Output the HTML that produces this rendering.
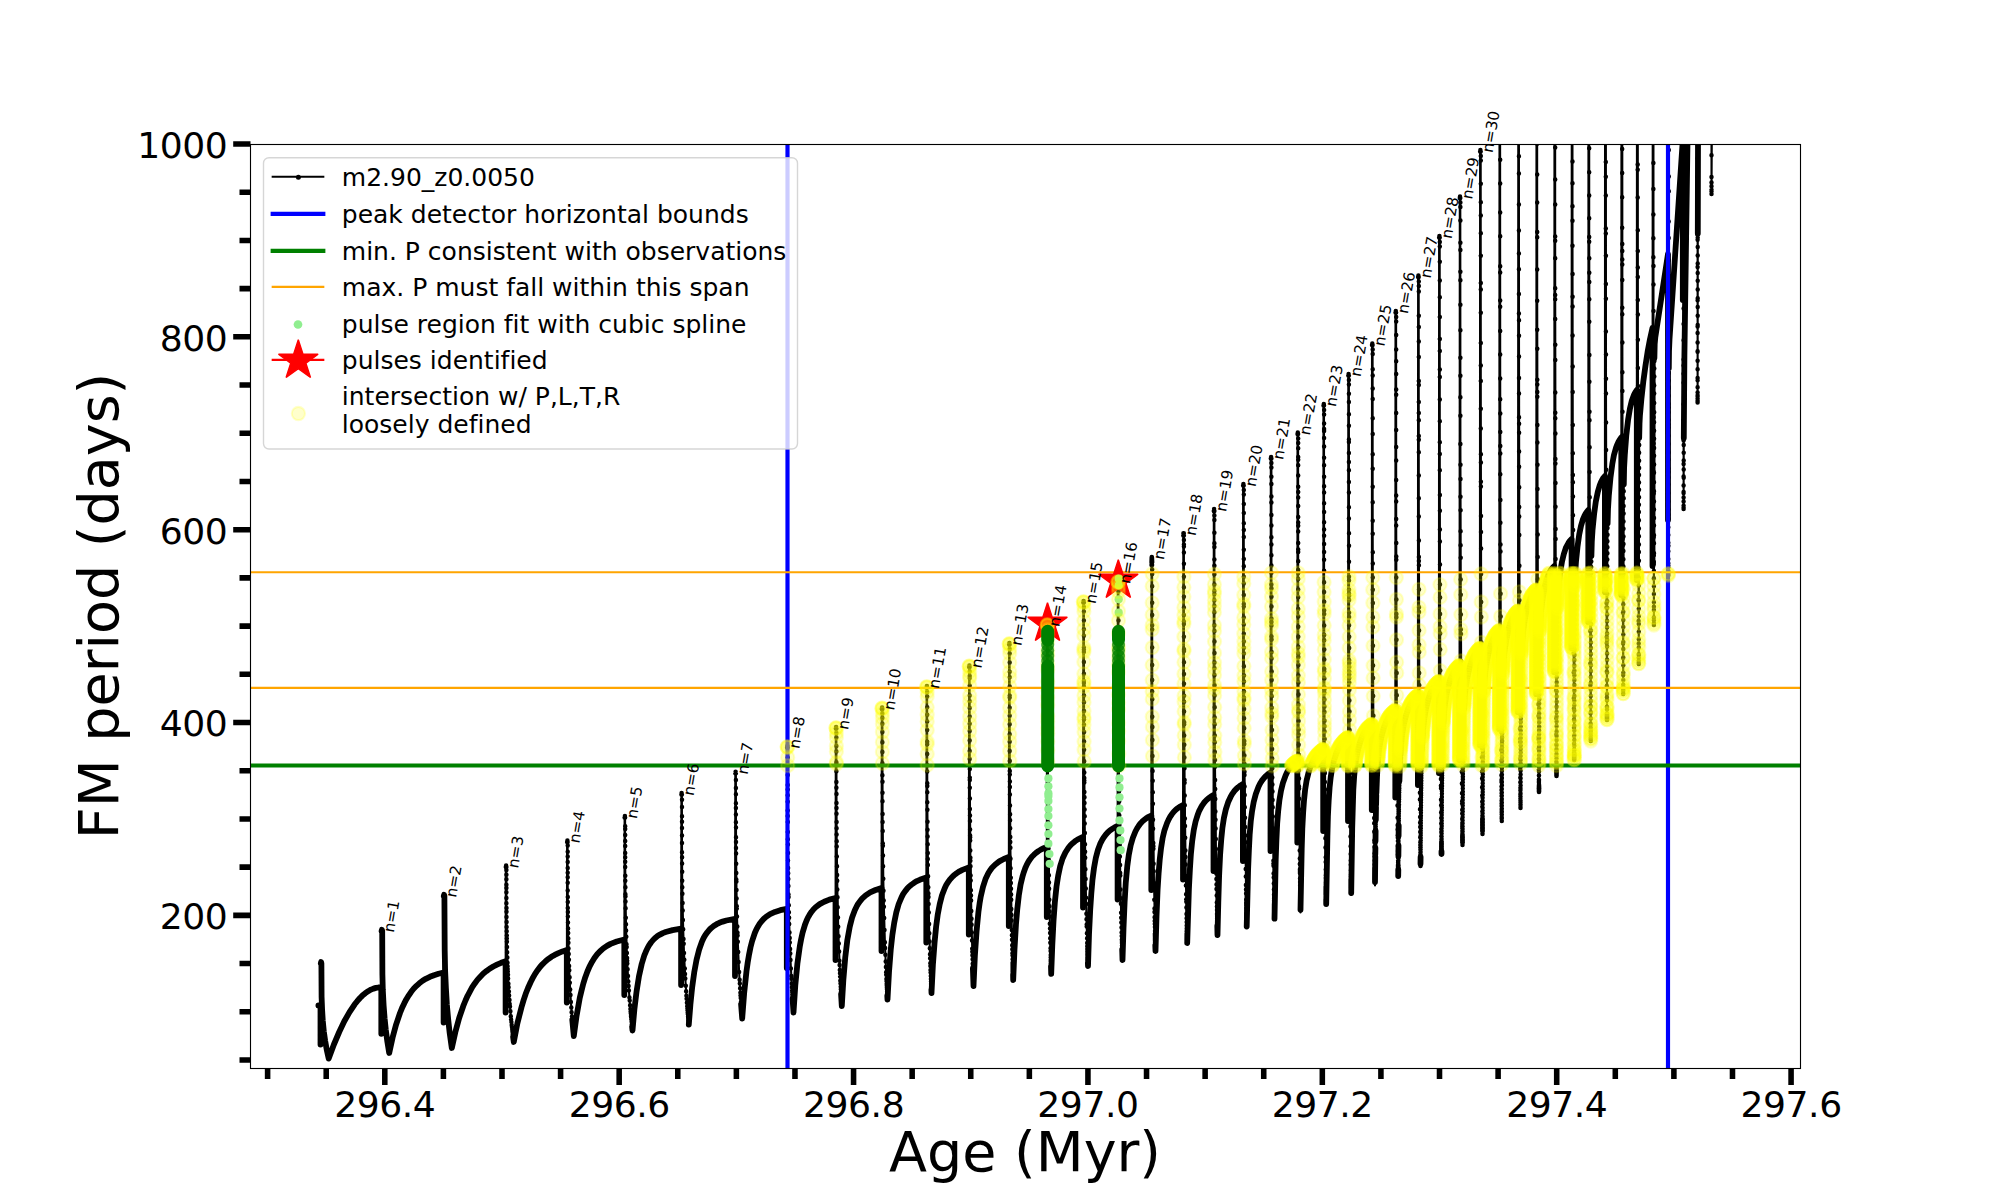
<!DOCTYPE html><html><head><meta charset="utf-8"><title>FM period vs Age</title><style>html,body{margin:0;padding:0;background:#fff}svg{display:block}</style></head><body><svg width="2000" height="1200" viewBox="0 0 2000 1200" font-family="'DejaVu Sans','Liberation Sans',sans-serif" style="font-variant-ligatures:none"><rect width="2000" height="1200" fill="#fff"/><defs><clipPath id="ax"><rect x="250" y="144" width="1550" height="924"/></clipPath></defs><g clip-path="url(#ax)"><g fill="none" stroke="#000" stroke-linejoin="round" stroke-linecap="round"><path stroke-width="2.08" stroke-linecap="butt" d="M318.4,1005.5L320.5,1005.5L320.5,1044.5L320.8,963.5L321.1,962.0L321.4,963.5L321.6,995.8L322.0,1007.9L322.7,1019.2L323.7,1029.8L325.1,1040.4L326.7,1049.6L328.7,1058.6L333.9,1044.5L339.2,1032.0L344.3,1021.3L349.5,1012.1L352.3,1007.8L354.7,1004.3L357.2,1001.2L360.0,998.0L362.4,995.6L365.3,993.2L368.2,991.2L371.0,989.6L373.5,988.6L375.9,987.9L378.4,987.5L381.3,987.3L381.3,1033.8L381.6,931.2L381.9,929.8L382.2,931.2L382.2,957.5L382.5,976.6L382.8,990.0L383.5,1003.1L384.4,1016.8L385.8,1029.8L387.3,1041.4L389.2,1053.0L392.6,1037.6L396.1,1024.6L398.0,1018.5L400.0,1013.0L401.9,1008.3L404.2,1003.4L406.4,999.2L408.8,995.3L411.2,991.8L413.6,988.8L416.5,985.8L419.3,983.3L422.6,980.8L425.8,978.8L429.9,976.8L434.0,975.2L438.5,973.7L443.6,972.5L443.6,1022.5L443.8,896.2L444.1,894.8L444.4,896.2L444.5,930.2L444.7,952.9L445.1,970.4L445.8,986.2L446.8,1003.0L448.1,1018.2L449.7,1033.2L451.8,1048.0L455.3,1032.3L459.1,1018.2L461.2,1011.7L463.2,1006.2L465.5,1000.5L467.6,995.8L469.8,991.6L472.1,987.4L474.6,983.7L477.4,979.9L480.3,976.7L483.1,973.8L486.4,971.1L489.6,968.7L493.3,966.5L497.0,964.6L501.1,962.8L505.6,961.2L505.6,1012.5L505.8,867.0L506.1,865.5L506.4,867.0L506.5,907.9L506.8,935.5L507.1,952.2L507.8,971.6L508.9,991.4L510.0,1006.6L511.7,1025.1L513.8,1042.0L517.0,1025.4L520.5,1010.9L522.3,1004.2L524.3,997.9L526.3,992.2L528.2,987.3L530.6,982.2L532.8,977.9L535.1,973.8L537.6,970.2L540.0,967.0L542.9,963.8L545.7,961.1L548.6,958.8L552.7,956.1L556.8,953.8L561.7,951.7L566.8,950.0L566.8,1002.5L567.1,842.0L567.4,840.5L567.6,842.0L567.7,882.8L567.9,916.5L568.3,938.6L568.9,959.7L569.8,982.8L570.9,1001.9L572.3,1020.0L573.8,1036.2L576.2,1018.1L578.8,1002.7L581.8,989.2L583.3,983.6L585.1,978.0L586.8,972.9L588.6,968.6L590.5,964.7L592.8,960.5L594.8,957.4L597.2,954.3L599.7,951.6L602.5,949.0L607.0,945.9L611.9,943.3L617.6,941.2L624.3,939.5L624.3,995.0L624.6,817.5L624.9,816.0L625.1,817.5L625.2,861.7L625.5,896.2L626.0,924.3L626.5,944.2L627.6,969.3L628.9,990.6L630.6,1011.8L632.5,1030.5L634.3,1009.9L636.3,992.8L638.6,978.3L641.0,966.9L642.3,961.6L643.8,957.0L645.1,953.3L646.7,949.6L648.6,946.1L650.2,943.6L652.3,941.0L654.7,938.4L657.1,936.4L659.6,934.8L662.4,933.3L665.3,932.1L668.5,931.1L672.2,930.2L676.3,929.4L681.1,928.7L681.1,985.0L681.4,794.5L681.6,793.0L681.9,794.5L682.0,843.0L682.2,880.7L682.6,903.0L683.2,929.2L684.0,952.9L685.3,978.5L686.9,1002.7L688.8,1024.5L690.4,1004.5L692.2,987.0L694.2,972.6L696.5,960.0L697.7,954.8L699.1,949.7L700.5,945.5L701.9,941.7L703.6,938.0L705.2,935.2L707.3,932.3L709.3,929.9L711.3,927.9L713.7,926.0L716.6,924.2L719.4,922.8L722.7,921.6L726.4,920.5L730.5,919.5L735.0,918.8L735.0,976.0L735.3,773.2L735.6,771.8L735.9,773.2L736.0,827.5L736.2,863.7L736.5,889.9L737.0,916.6L737.8,941.7L739.1,971.9L740.5,995.5L742.2,1018.5L743.8,997.1L745.6,979.0L747.5,964.0L749.7,951.2L752.1,941.1L753.5,936.6L754.8,933.0L756.4,929.3L758.0,926.4L760.0,923.3L762.0,920.7L764.0,918.6L766.5,916.5L769.3,914.6L772.2,913.1L775.4,911.7L778.7,910.6L782.4,909.7L786.8,908.8L786.8,968.0L787.1,747.5L787.4,746.0L787.6,747.5L787.7,810.4L788.0,853.1L788.8,905.3L789.5,932.4L790.5,960.0L791.9,987.3L793.5,1012.5L795.0,990.1L796.6,971.3L798.4,955.7L800.5,942.4L802.8,931.9L804.0,927.5L805.6,923.0L807.2,919.1L808.8,916.1L810.4,913.4L812.4,910.7L814.4,908.4L816.4,906.5L818.9,904.7L821.7,902.9L824.6,901.5L827.8,900.2L831.5,899.0L835.5,898.0L835.5,960.0L835.8,728.5L836.1,727.0L836.4,728.5L836.5,794.0L836.7,841.3L837.5,897.3L838.2,926.8L839.1,951.4L840.3,980.8L841.8,1006.0L843.1,982.6L844.6,963.6L846.3,947.7L848.2,934.7L850.3,924.4L851.5,919.7L852.9,915.2L854.1,911.8L855.8,908.1L857.2,905.3L859.3,902.2L861.3,899.6L863.3,897.5L865.7,895.4L868.6,893.4L871.4,891.8L874.7,890.3L877.9,889.1L881.5,888.0L881.5,951.0L881.8,709.0L882.1,707.5L882.4,709.0L882.6,813.9L883.3,878.8L883.9,906.8L884.9,942.2L886.1,972.3L887.5,999.5L888.8,976.0L890.2,956.0L891.8,939.6L893.7,925.8L895.8,914.7L896.9,909.9L898.2,905.6L899.6,901.7L900.9,898.6L902.3,895.6L904.4,892.3L906.4,889.6L908.4,887.3L910.8,885.1L913.3,883.3L916.1,881.6L919.4,880.0L922.6,878.7L926.3,877.5L926.3,942.5L926.6,687.5L926.9,686.0L927.1,687.5L927.3,802.3L928.1,876.2L929.3,933.3L930.3,963.3L931.5,993.0L932.7,968.6L934.1,948.1L935.6,931.2L937.3,917.1L939.5,905.1L940.6,900.3L941.8,895.9L943.1,892.0L944.7,888.2L946.2,885.1L947.8,882.4L949.9,879.5L951.9,877.2L953.9,875.3L956.3,873.4L959.2,871.5L962.0,870.1L965.3,868.7L968.8,867.5L968.8,934.5L969.1,667.0L969.4,665.5L969.6,667.0L969.8,780.0L970.4,860.7L971.6,924.7L972.4,955.2L973.5,986.0L974.6,961.1L975.9,940.1L977.3,922.6L978.9,908.0L980.8,896.3L983.0,886.8L984.2,882.8L985.5,879.1L987.3,875.3L988.8,872.4L990.4,869.9L992.4,867.4L994.5,865.2L996.9,863.1L999.3,861.4L1002.2,859.7L1005.4,858.2L1008.8,857.0L1008.8,926.0L1009.1,644.5L1009.4,643.0L1009.6,644.5L1009.8,760.9L1010.4,847.8L1011.5,915.0L1012.3,949.2L1013.2,980.0L1014.3,954.1L1015.4,932.8L1016.8,914.4L1018.3,899.9L1020.0,888.2L1021.0,883.0L1022.1,878.0L1023.1,874.3L1024.4,870.2L1026.0,866.5L1027.5,863.4L1029.1,860.6L1031.1,857.8L1033.1,855.5L1035.6,853.2L1038.0,851.4L1040.8,849.6L1043.7,848.2L1046.8,847.0L1046.8,917.0L1047.0,625.5L1047.3,624.0L1047.6,625.5L1047.8,750.2L1048.4,835.1L1049.5,906.3L1050.3,942.8L1051.2,973.8L1052.2,947.5L1053.3,925.2L1054.5,907.0L1055.8,892.5L1057.5,879.8L1059.3,869.9L1061.5,861.8L1062.6,858.5L1064.2,854.8L1065.8,851.8L1067.8,848.6L1069.8,846.0L1071.8,843.9L1074.3,841.8L1077.1,839.9L1079.9,838.3L1083.0,837.0L1083.0,907.5L1083.3,602.5L1083.6,601.0L1083.9,602.5L1084.1,731.9L1084.7,823.6L1086.0,897.7L1086.9,933.3L1088.0,966.0L1088.9,937.9L1089.9,915.2L1091.0,896.7L1092.3,881.3L1093.9,868.7L1095.6,858.9L1097.6,851.0L1098.9,846.9L1100.2,843.8L1101.7,840.8L1103.3,838.0L1105.3,835.2L1107.3,832.9L1109.7,830.7L1112.2,828.9L1114.6,827.4L1117.6,826.0L1117.6,899.5L1117.8,582.5L1118.1,581.0L1118.4,582.5L1118.6,722.8L1119.3,815.3L1120.5,889.6L1121.5,927.6L1122.5,960.0L1123.4,931.0L1124.3,907.6L1125.4,888.7L1126.6,872.7L1128.1,860.2L1129.7,849.9L1130.7,845.3L1131.8,841.1L1133.1,837.1L1134.3,833.8L1135.8,830.7L1137.4,827.8L1139.4,824.9L1141.4,822.5L1143.5,820.5L1145.9,818.6L1148.3,817.0L1151.3,815.5L1151.3,890.0L1151.5,565.0L1151.7,558.5L1151.8,557.0L1152.0,558.5L1152.1,565.0L1152.3,699.2L1152.9,803.7L1154.0,882.9L1155.5,951.0L1156.3,922.8L1157.2,898.8L1158.2,879.4L1159.3,863.5L1160.7,850.3L1162.3,839.9L1164.1,831.8L1165.3,827.8L1166.4,824.5L1168.2,820.4L1169.8,817.4L1171.4,814.9L1173.4,812.3L1175.4,810.2L1177.9,808.1L1180.3,806.5L1183.0,805.0L1183.0,879.5L1183.3,535.5L1183.4,533.3L1183.8,533.3L1183.9,535.5L1184.0,683.8L1184.7,795.4L1185.8,876.1L1187.2,943.5L1188.0,914.8L1188.8,890.9L1189.7,871.2L1190.8,854.7L1192.1,841.8L1193.6,830.8L1195.4,822.5L1197.6,815.0L1198.9,811.6L1200.4,808.5L1202.0,805.7L1204.0,802.8L1206.0,800.5L1208.4,798.3L1210.9,796.5L1213.5,795.0L1213.5,871.0L1213.8,511.0L1214.1,509.0L1214.4,511.0L1214.5,662.6L1215.0,766.8L1215.9,848.9L1217.5,935.0L1218.2,905.4L1218.9,880.6L1219.8,860.7L1220.8,844.1L1222.0,831.8L1223.4,821.0L1225.3,811.4L1227.4,804.3L1228.5,801.4L1230.1,797.8L1231.7,794.8L1233.7,791.8L1235.8,789.4L1237.8,787.5L1240.2,785.6L1242.9,784.0L1242.9,861.0L1243.1,485.5L1243.4,484.0L1243.7,485.5L1243.9,641.6L1244.4,755.6L1245.3,842.3L1246.8,927.5L1247.4,896.1L1248.0,871.0L1248.8,851.1L1249.7,834.2L1250.8,820.9L1252.1,810.9L1253.7,801.9L1255.8,793.9L1256.9,790.6L1258.5,786.7L1260.1,783.5L1261.7,780.9L1263.8,778.2L1265.8,776.1L1268.2,774.0L1270.5,772.5L1270.5,851.0L1270.8,458.5L1271.1,457.0L1271.4,458.5L1271.5,625.4L1272.0,740.0L1273.0,836.3L1274.5,920.0L1275.7,861.1L1276.4,840.2L1277.2,823.2L1278.2,810.8L1279.4,800.2L1281.0,790.7L1282.9,783.0L1284.0,779.6L1285.6,775.5L1287.2,772.1L1288.9,769.3L1290.5,767.1L1292.5,764.8L1294.9,762.6L1297.3,761.0L1297.3,842.5L1297.5,434.0L1297.8,432.5L1298.1,434.0L1298.2,608.9L1298.7,729.4L1299.4,825.7L1300.5,912.5L1301.6,852.1L1302.3,830.4L1303.1,813.3L1304.0,800.6L1305.1,789.9L1306.6,780.5L1308.5,772.7L1309.9,768.3L1311.5,764.1L1313.1,760.7L1314.7,757.9L1316.7,755.2L1318.8,752.9L1320.8,751.2L1323.2,749.5L1323.2,831.0L1323.5,405.5L1323.8,404.0L1324.0,405.5L1324.1,592.1L1324.6,720.7L1325.2,815.5L1326.2,904.0L1327.2,841.4L1327.9,818.6L1328.6,801.7L1329.4,788.8L1330.5,778.4L1331.9,769.4L1333.7,761.5L1335.0,756.9L1336.5,752.7L1338.1,749.1L1339.7,746.2L1341.4,743.8L1343.4,741.3L1345.4,739.4L1348.0,737.5L1348.0,821.0L1348.3,375.5L1348.6,374.0L1348.9,375.5L1349.0,561.7L1349.4,700.5L1350.2,803.3L1351.2,895.0L1352.1,830.5L1352.7,807.7L1353.3,790.1L1354.1,777.1L1355.1,766.2L1356.4,757.2L1358.1,749.0L1359.3,744.6L1360.8,740.1L1362.0,737.1L1363.6,733.8L1365.2,731.2L1367.2,728.5L1369.2,726.5L1371.8,724.5L1371.8,810.0L1372.0,345.0L1372.3,343.5L1372.6,345.0L1372.7,533.8L1373.1,678.1L1373.9,789.4L1375.0,885.5L1375.8,817.6L1376.3,795.3L1377.0,777.2L1377.8,762.8L1378.6,753.3L1379.8,744.3L1381.4,736.3L1382.5,731.9L1383.9,727.5L1385.5,723.3L1387.1,719.9L1388.7,717.2L1390.7,714.5L1392.8,712.5L1395.3,710.5L1395.3,797.5L1395.5,312.5L1395.8,311.0L1396.1,312.5L1396.2,519.0L1396.6,662.2L1397.3,779.1L1398.2,876.0L1398.9,806.9L1399.4,783.5L1399.9,764.1L1400.6,751.0L1401.4,740.3L1402.5,731.3L1404.2,722.3L1405.6,716.8L1406.9,712.3L1408.1,709.1L1409.7,705.5L1411.3,702.6L1413.3,699.8L1415.3,697.6L1417.9,695.5L1417.9,785.0L1418.1,277.0L1418.4,275.5L1418.7,277.0L1418.8,498.3L1419.2,652.1L1419.7,761.5L1420.5,866.0L1421.1,790.2L1421.5,766.1L1422.0,749.1L1422.5,736.9L1423.2,727.6L1424.2,718.7L1425.6,710.3L1426.8,704.9L1428.0,700.0L1429.6,695.4L1431.2,691.5L1432.8,688.4L1434.8,685.5L1436.8,683.3L1438.9,681.5L1438.9,773.0L1439.1,237.5L1439.4,236.0L1439.7,237.5L1439.8,470.3L1440.1,627.0L1440.7,746.4L1441.5,856.0L1442.1,777.9L1442.4,751.7L1442.8,733.7L1443.4,720.7L1444.1,711.4L1445.0,703.3L1446.4,694.6L1447.6,689.1L1448.7,684.7L1450.1,680.3L1451.6,676.2L1453.2,672.9L1455.2,669.8L1457.3,667.5L1459.5,665.5L1459.5,760.0L1459.8,198.0L1460.0,196.5L1460.3,198.0L1460.4,444.1L1460.8,594.7L1461.5,729.6L1462.5,845.0L1463.0,764.9L1463.7,718.9L1464.1,706.2L1464.7,696.8L1465.6,688.4L1466.9,679.6L1468.2,673.1L1469.3,668.2L1470.7,663.5L1472.2,659.4L1473.8,656.0L1475.8,652.8L1477.8,650.4L1479.9,648.5L1479.9,745.0L1480.1,151.5L1480.4,150.0L1480.7,151.5L1480.8,408.7L1481.1,573.9L1481.7,713.1L1482.5,834.0L1482.9,748.1L1483.6,701.1L1484.0,689.2L1484.5,679.8L1485.3,671.8L1486.6,662.7L1487.8,655.9L1489.1,650.2L1490.4,645.6L1491.9,641.4L1493.5,637.9L1495.1,635.2L1497.1,632.6L1499.3,630.5L1499.3,729.0L1499.5,102.5L1499.8,101.0L1500.1,102.5L1500.2,378.5L1500.5,551.4L1501.0,688.5L1501.8,821.0L1502.1,733.8L1502.6,685.0L1503.0,672.1L1503.4,662.6L1504.2,654.4L1505.3,645.3L1506.4,638.6L1507.5,633.2L1508.9,627.5L1510.4,623.1L1512.0,619.2L1513.6,616.3L1515.6,613.5L1518.0,611.0L1518.0,712.0L1518.3,62.5L1518.6,61.0L1518.9,62.5L1519.0,335.8L1519.3,535.0L1519.8,678.5L1520.5,808.0L1520.8,711.7L1521.3,663.9L1521.6,651.0L1522.0,642.1L1522.7,634.2L1523.7,626.2L1524.9,618.5L1526.0,612.7L1527.2,607.5L1528.6,602.8L1530.2,598.6L1531.8,595.4L1533.9,592.5L1536.3,590.0L1536.3,694.0L1536.5,22.5L1536.8,21.0L1537.1,22.5L1537.2,300.7L1537.6,506.4L1538.1,656.8L1539.0,792.0L1539.3,694.5L1539.7,642.9L1539.9,629.7L1540.3,620.6L1540.9,612.6L1541.9,603.6L1543.0,595.9L1544.2,589.3L1545.5,583.6L1546.8,579.1L1548.4,574.8L1550.0,571.5L1552.0,568.4L1554.3,566.0L1554.3,672.0L1554.5,-17.5L1554.8,-19.0L1555.1,-17.5L1555.2,288.2L1555.5,483.0L1555.9,631.4L1556.5,776.0L1556.8,672.6L1557.1,617.4L1557.4,604.0L1557.8,595.5L1558.3,588.6L1559.3,579.3L1560.4,570.7L1561.5,563.9L1562.9,557.4L1564.4,551.9L1565.9,547.7L1567.5,544.3L1569.6,541.2L1571.6,539.0L1571.6,648.0L1571.8,-57.5L1572.1,-59.0L1572.4,-57.5L1572.5,245.7L1572.8,453.2L1573.4,604.3L1574.2,760.0L1574.5,644.5L1574.8,591.4L1575.3,570.8L1575.9,562.7L1576.7,553.7L1577.7,544.6L1578.8,536.9L1580.1,530.2L1581.4,524.6L1582.7,520.2L1584.3,516.2L1586.3,512.6L1588.3,510.0L1588.3,622.0L1588.5,-60.0L1589.2,-60.0L1589.2,218.2L1589.5,411.8L1589.9,571.3L1590.8,741.0L1591.0,618.3L1591.3,561.6L1591.8,540.5L1593.2,523.1L1594.2,513.1L1595.3,505.2L1596.4,498.4L1597.8,491.9L1599.4,486.2L1601.0,482.1L1602.6,479.1L1604.9,476.0L1604.9,592.0L1605.1,-60.0L1605.8,-60.0L1606.0,393.6L1606.4,552.6L1607.0,720.0L1607.2,585.9L1607.6,523.3L1607.9,511.1L1608.3,501.9L1609.3,488.7L1610.6,476.4L1611.6,468.5L1612.6,461.8L1613.7,456.4L1615.0,451.0L1616.4,446.6L1618.0,442.8L1619.6,439.9L1621.3,437.5L1621.3,595.0L1621.5,-60.0L1622.2,-60.0L1622.4,372.3L1622.7,538.8L1623.2,694.0L1623.5,544.1L1623.8,479.0L1624.1,466.5L1624.8,454.9L1626.0,438.7L1627.4,425.4L1629.1,412.9L1630.1,407.5L1631.2,403.0L1632.5,398.6L1633.7,395.5L1635.3,392.3L1636.8,390.0L1636.8,580.0L1637.0,-60.0L1637.7,-60.0L1637.9,339.7L1638.3,512.7L1638.8,664.0L1639.0,489.8L1639.1,452.8L1639.4,427.3L1639.8,417.0L1640.9,404.4L1642.9,385.0L1645.1,367.8L1646.8,356.5L1648.7,346.0L1650.5,336.8L1652.5,328.0L1652.5,566.0L1652.8,-60.0L1653.4,-60.0L1653.5,333.5L1653.9,625.0L1654.3,376.5L1654.6,347.6L1654.8,341.7L1655.3,337.3L1661.3,297.5L1668.0,254.0L1668.0,520.0L1668.2,-60.0L1668.8,-60.0L1668.7,298.5L1668.3,575.5L1668.6,388.3L1668.9,358.2L1669.3,342.8L1682.8,140.0L1682.8,300.0L1683.0,-60.0L1683.6,-60.0L1683.6,509.0L1683.8,419.5L1684.2,367.8L1690.4,-60.0L1697.6,-60.0L1697.6,402.5L1697.9,134.7L1698.9,-60.0L1711.5,-60.0L1711.5,194.0L1712.0,100.0"/><path stroke-width="5.8" d="M318.4,1005.5L320.5,1005.5L320.5,1044.5M320.8,963.5L321.1,962.0L321.4,963.5L321.6,997.1L322.1,1009.8L322.8,1021.0L323.8,1031.3L325.1,1040.4L326.7,1049.6L328.7,1058.6L333.9,1044.5L339.2,1032.0L344.3,1021.3L349.5,1012.1L354.7,1004.3L357.2,1001.2L360.0,998.0L362.4,995.6L365.3,993.2L368.2,991.2L371.0,989.6L373.5,988.6L375.9,987.9L378.4,987.5L381.3,987.3L381.3,1033.8M381.6,931.2L381.9,929.8L382.2,931.2L382.4,974.6L382.8,990.0L383.6,1005.1L384.6,1018.2L385.8,1029.8L387.3,1041.4L389.2,1053.0L392.6,1037.6L396.1,1024.6L400.0,1013.0L401.9,1008.3L404.2,1003.4L406.4,999.2L408.8,995.3L411.2,991.8L413.6,988.8L416.5,985.8L419.3,983.3L422.6,980.8L425.8,978.8L429.9,976.8L434.0,975.2L438.5,973.7L443.6,972.5L443.6,1022.5M443.8,896.2L444.1,894.8L444.4,896.2L444.7,950.3L445.1,970.4L445.9,988.2L446.9,1004.9L448.2,1019.6L449.7,1033.2L451.8,1048.0L455.3,1032.3L459.1,1018.2L463.2,1006.2L465.5,1000.5L467.6,995.8L472.1,987.4L474.6,983.7L477.4,979.9L480.3,976.7L483.1,973.8L486.4,971.1L489.6,968.7L493.3,966.5L497.0,964.6L501.1,962.8L505.6,961.2L505.6,1012.5M513.1,1036.8L513.8,1042.0L517.4,1023.3L521.5,1007.2L523.6,1000.1L525.7,993.8L528.0,988.0L530.6,982.2L532.8,977.9L535.1,973.8L537.6,970.2L540.0,967.0L542.4,964.3L545.3,961.5L548.2,959.1L551.4,956.8L554.7,954.9L558.4,953.1L562.5,951.4L566.8,950.0L566.8,1002.5M572.3,1020.0L573.8,1036.2L576.6,1015.7L579.8,997.8L581.5,990.7L583.3,983.6L585.3,977.2L587.4,971.5L589.5,966.6L592.0,961.9L594.4,958.0L597.2,954.3L600.1,951.2L603.3,948.4L607.0,945.9L610.6,943.9L616.8,941.5L624.3,939.5L624.3,995.0M632.1,1026.7L632.5,1030.5L634.4,1009.2L636.6,991.2L639.0,976.1L641.7,964.0L644.3,955.4L645.8,951.8L647.5,948.1L649.0,945.4L651.0,942.5L653.1,940.0L655.5,937.7L657.5,936.1L660.0,934.6L662.8,933.1L665.7,932.0L672.6,930.1L681.1,928.7L681.1,985.0M688.8,1024.5L690.4,1004.5L692.2,987.0L694.2,972.6L696.5,960.0L699.1,949.7L701.9,941.7L703.6,938.0L705.2,935.2L707.3,932.3L709.3,929.9L711.3,927.9L713.7,926.0L716.6,924.2L719.4,922.8L722.7,921.6L726.4,920.5L735.0,918.8L735.0,976.0M741.1,1004.3L742.2,1018.5L744.2,992.6L746.5,971.1L747.7,962.5L749.1,954.3L750.5,947.4L752.1,941.1L754.8,933.0L756.4,929.3L758.0,926.4L759.6,923.8L761.6,921.2L763.6,919.0L766.0,916.9L770.1,914.1L775.0,911.9L780.3,910.2L786.8,908.8L786.8,968.0M792.6,998.8L793.5,1012.5L795.3,985.3L797.4,963.6L799.8,946.4L801.1,939.4L802.6,932.6L805.0,924.6L806.5,920.7L807.9,917.6L809.6,914.7L811.6,911.7L813.6,909.2L815.6,907.2L819.7,904.1L824.2,901.7L829.4,899.6L835.5,898.0L835.5,960.0M841.1,994.4L841.8,1006.0L843.4,979.2L845.2,957.9L847.3,940.3L849.8,926.5L852.1,917.5L854.8,910.2L856.5,906.7L858.0,904.0L860.1,901.1L862.1,898.7L865.7,895.4L870.2,892.4L875.5,890.0L881.5,888.0L881.5,951.0M887.3,996.0L887.5,999.5L889.0,972.1L890.8,949.1L892.4,934.8L894.2,922.9L896.3,912.4L898.7,904.0L901.6,897.1L903.1,894.2L905.2,891.1L907.2,888.6L909.2,886.5L911.7,884.5L914.1,882.8L916.9,881.1L919.8,879.8L926.3,877.5L926.3,942.5M931.4,989.8L931.5,993.0L932.9,964.8L934.6,942.3L936.1,926.9L937.7,914.8L939.7,904.2L942.0,895.2L944.7,888.2L946.2,885.1L948.3,881.7L950.3,879.1L952.3,876.8L954.3,875.0L956.8,873.1L959.6,871.3L962.4,869.9L968.8,867.5L968.8,934.5M972.9,968.7L973.5,986.0L974.9,955.2L976.6,930.9L978.5,911.3L979.6,903.3L980.8,896.3L983.0,886.8L985.5,879.1L988.4,873.1L990.0,870.5L992.0,867.8L995.3,864.5L999.3,861.4L1003.8,859.0L1008.8,857.0L1008.8,926.0M1013.1,974.7L1013.2,980.0L1014.5,949.1L1016.0,923.9L1017.3,908.8L1018.8,895.6L1020.6,884.5L1022.7,875.8L1023.9,871.9L1025.3,868.0L1026.7,864.9L1028.3,861.9L1029.9,859.4L1031.9,856.8L1034.0,854.7L1036.0,852.9L1038.4,851.1L1040.8,849.6L1043.7,848.2L1046.8,847.0L1046.8,917.0M1051.0,966.6L1051.2,973.8L1052.3,945.0L1053.5,921.0L1054.9,901.9L1056.5,886.6L1058.2,875.6L1060.2,866.1L1062.6,858.5L1065.4,852.5L1068.6,847.5L1070.6,845.1L1072.7,843.2L1075.1,841.2L1077.5,839.6L1080.4,838.2L1083.0,837.0L1083.0,907.5M1087.9,962.8L1088.0,966.0L1089.0,934.5L1090.2,909.9L1091.3,893.6L1092.5,879.5L1094.0,868.0L1095.8,858.1L1097.9,850.1L1100.5,843.1L1102.1,840.1L1103.7,837.4L1105.7,834.7L1107.7,832.5L1109.7,830.7L1112.2,828.9L1114.6,827.4L1117.6,826.0L1117.6,899.5M1122.2,949.6L1122.5,960.0L1123.5,928.4L1124.6,902.5L1125.8,882.2L1127.3,866.0L1128.8,854.9L1130.7,845.3L1132.8,838.0L1135.4,831.5L1137.0,828.5L1138.6,826.0L1140.2,823.8L1142.2,821.6L1146.3,818.3L1148.7,816.8L1151.3,815.5L1151.3,890.0M1155.3,945.3L1155.5,951.0L1156.5,916.7L1157.6,889.4L1158.6,873.6L1159.7,859.9L1161.1,847.7L1162.6,838.2L1164.5,830.2L1167.1,822.9L1168.6,819.6L1170.2,816.7L1171.8,814.3L1173.8,811.8L1175.8,809.8L1177.9,808.1L1180.3,806.5L1183.0,805.0L1183.0,879.5M1187.2,943.0L1188.9,889.0L1189.9,869.3L1190.9,853.9L1192.2,841.0L1193.8,829.9L1195.6,821.5L1197.9,814.2L1199.2,810.8L1200.8,807.8L1202.4,805.1L1204.4,802.3L1206.4,800.1L1208.4,798.3L1210.9,796.5L1213.5,795.0L1213.5,871.0M1217.3,926.0L1217.5,935.0L1218.3,902.2L1219.1,876.0L1220.1,854.9L1221.3,838.9L1222.4,827.9L1223.9,818.0L1225.8,809.5L1228.1,802.3L1230.9,796.2L1232.5,793.6L1234.1,791.3L1236.2,789.0L1238.2,787.2L1240.6,785.4L1242.9,784.0L1242.9,861.0M1246.7,926.5L1248.1,869.7L1248.9,849.8L1249.7,834.2L1250.8,820.9L1252.1,810.9L1253.7,801.9L1255.8,793.9L1258.5,786.7L1260.1,783.5L1261.7,780.9L1263.8,778.2L1265.8,776.1L1268.2,774.0L1270.5,772.5L1270.5,851.0M1274.5,918.6L1275.7,859.8L1276.4,840.2L1277.2,823.2L1278.2,810.8L1279.4,800.2L1281.0,790.7L1282.9,783.0L1285.6,775.5L1287.2,772.1L1288.9,769.3L1290.5,767.1L1292.5,764.8L1294.9,762.6L1297.3,761.0L1297.3,842.5M1300.5,909.6L1301.7,849.1L1302.3,829.0L1303.1,813.3L1304.0,800.6L1305.1,789.9L1306.6,780.5L1308.5,772.7L1309.9,768.3L1311.5,764.1L1313.1,760.7L1314.7,757.9L1316.7,755.2L1318.8,752.9L1320.8,751.2L1323.2,749.5L1323.2,831.0M1326.2,899.4L1326.2,904.0L1327.4,836.1L1327.9,816.7L1328.7,800.2L1329.6,787.5L1330.7,777.2L1332.1,768.2L1334.0,760.3L1336.5,752.7L1338.1,749.1L1339.7,746.2L1341.4,743.8L1343.4,741.3L1345.4,739.4L1348.0,737.5L1348.0,821.0M1351.2,893.0L1352.2,828.4L1353.3,790.1L1354.1,777.1L1355.1,766.2L1356.4,757.2L1358.1,749.0L1359.3,744.6L1360.8,740.1L1362.0,737.1L1363.6,733.8L1365.2,731.2L1367.2,728.5L1369.2,726.5L1371.8,724.5L1371.8,810.0M1375.0,882.0L1375.3,856.7M1375.3,854.3L1375.4,848.1M1375.5,841.0L1375.6,831.0M1375.8,819.6L1376.0,807.2M1376.1,804.8L1376.3,795.3M1376.4,793.0L1377.0,777.2L1377.6,765.2M1377.8,762.8L1378.7,752.3L1380.0,743.2L1381.7,735.2L1383.9,727.5L1386.3,721.5L1388.7,717.2L1391.6,713.7L1393.2,712.1L1395.3,710.5L1395.3,797.5M1398.2,876.0L1398.3,869.9M1398.4,855.9L1398.5,845.6M1398.6,835.8L1398.7,825.7M1399.4,781.0L1399.8,768.8M1399.8,766.4L1400.2,757.7M1400.3,755.2L1401.2,742.8L1402.2,733.4L1403.7,724.6L1405.9,715.6L1408.1,709.1L1409.3,706.3L1410.9,703.2L1412.5,700.8L1414.1,698.8L1415.7,697.2L1417.9,695.5L1417.9,785.0M1420.5,863.6L1420.6,857.1M1422.0,749.1L1422.3,740.4M1422.5,738.1L1423.3,726.4L1424.4,717.4L1426.0,708.2L1428.0,700.0L1430.4,693.3L1432.8,688.4L1435.6,684.5L1438.9,681.5L1438.9,773.0M1441.5,851.5L1441.5,853.7M1443.2,724.1L1444.0,712.5L1445.0,703.3L1446.6,693.5L1448.7,684.7L1450.8,678.2L1453.2,672.9L1456.0,668.8L1457.7,667.1L1459.5,665.5L1459.5,760.0M1464.0,708.6L1464.7,696.8L1465.7,687.3L1467.3,677.4L1469.3,668.2L1471.4,661.5L1473.8,656.0L1475.0,654.0L1476.6,651.7L1478.2,650.0L1479.9,648.5L1479.9,745.0M1483.8,692.6L1484.4,680.9L1485.4,670.6L1487.2,659.2L1489.1,650.2L1491.1,643.5L1493.5,637.9L1494.7,635.8L1496.3,633.5L1499.3,630.5L1499.3,729.0M1502.9,674.6L1503.4,662.6L1504.4,652.0L1506.1,640.8L1508.1,630.9L1510.0,624.2L1512.4,618.4L1514.8,614.5L1516.4,612.6L1518.0,611.0L1518.0,712.0M1521.5,654.7L1522.0,643.3L1522.9,633.1L1524.5,620.8L1526.5,610.5L1528.3,603.9L1530.6,597.7L1533.1,593.6L1534.7,591.6L1536.3,590.0L1536.3,694.0M1539.9,631.9L1540.3,620.6L1541.1,610.5L1542.7,598.0L1544.7,587.0L1546.4,580.1L1548.8,573.8L1551.2,569.5L1552.8,567.5L1554.3,566.0L1554.3,672.0M1557.3,609.1L1557.7,596.7L1558.5,586.2L1560.1,572.9L1562.0,561.6L1563.8,554.1L1565.9,547.7L1568.4,543.0L1570.0,540.7L1571.6,539.0L1571.6,648.0M1574.9,586.4L1575.3,571.9L1576.0,561.4L1577.5,546.9L1579.2,534.6L1581.0,525.8L1583.0,519.1L1584.3,516.2L1585.5,513.9L1586.7,512.0L1588.3,510.0L1588.3,622.0M1591.4,556.0L1591.8,541.6L1592.5,530.2L1594.1,514.2L1595.8,501.6L1597.8,491.9L1599.8,485.0L1601.0,482.1L1602.2,479.8L1603.4,477.8L1604.9,476.0L1604.9,592.0M1607.6,523.3L1608.0,508.7L1608.8,495.7L1610.5,477.5L1612.3,464.1L1613.9,455.3L1616.0,447.8L1617.2,444.6L1618.4,442.0L1619.6,439.9L1621.3,437.5L1621.3,595.0M1623.8,484.3L1624.1,467.7L1624.8,454.9L1626.3,435.4L1628.1,419.7L1629.9,408.7L1631.8,400.8L1634.1,394.6L1635.3,392.3L1636.8,390.0L1636.8,580.0M1639.2,437.8L1639.5,423.7L1639.9,415.8L1641.4,398.9L1643.3,381.6L1645.5,365.5L1647.6,351.9L1650.0,339.1L1652.5,328.0L1652.5,566.0M1654.4,358.0L1654.7,343.9L1655.3,337.3L1668.0,254.0L1668.0,520.0M1668.8,368.2L1669.0,351.0L1669.5,339.3L1682.8,140.0L1682.8,300.0M1683.8,438.0L1684.4,356.1L1690.4,-59.6L1690.4,-60.0L1696.8,-60.0M1697.8,233.4L1698.1,97.0L1698.9,-60.0L1710.0,-60.0M1710.1,-60.0M1710.1,-60.0L1710.2,-60.0M1710.4,-60.0M1710.5,-60.0L1710.7,-60.0M1710.7,-60.0"/><path stroke-width="4.6" d="M1012.7,962.6L1013.0,972.2M1151.6,562.5L1151.8,557.0L1152.1,562.5M1155.0,933.5L1155.2,940.6M1187.0,933.5L1187.2,940.4M1246.4,913.0L1246.7,924.1M1274.2,903.7L1274.3,911.4M1326.0,886.6L1326.1,894.5M1351.0,879.6L1351.2,888.1M1374.8,868.1L1374.9,879.6M1398.1,864.8L1398.2,871.3M1441.4,842.1L1441.4,849.1M1462.4,835.6L1462.5,842.5M1482.4,818.4L1482.5,830.9M1539.0,785.6L1539.0,792.0M1556.5,768.4L1556.5,776.0M1574.2,752.7L1574.2,760.0M1607.0,713.9L1607.0,720.0"/><path stroke-width="4.5" d="M505.8,867.0h0M506.1,865.5h0M506.4,867.0h0M506.4,870.1h0M506.4,874.7h0M506.4,879.3h0M506.4,884.7h0M506.4,888.1h0M506.4,892.3h0M506.4,897.9h0M506.4,903.3h0M506.5,907.9h0M506.5,911.8h0M506.5,916.9h0M506.6,921.9h0M506.6,927.0h0M506.7,931.3h0M506.8,935.5h0M506.8,938.6h0M506.9,941.8h0M507.0,947.0h0M507.1,952.2h0M507.3,957.5h0M507.5,962.7h0M507.6,966.2h0M507.7,969.0h0M507.8,971.6h0M508.0,974.8h0M508.1,978.4h0M508.4,983.8h0M508.6,987.3h0M508.9,991.4h0M509.1,995.5h0M509.5,1000.1h0M509.7,1003.9h0M510.0,1006.6h0M510.4,1011.2h0M510.8,1016.3h0M511.1,1019.4h0M511.4,1021.9h0M511.7,1025.1h0M511.9,1026.7h0M512.2,1029.1h0M512.3,1030.8h0M512.6,1032.8h0M512.7,1034.2h0M567.1,842.0h0M567.4,840.5h0M567.6,842.0h0M567.7,845.4h0M567.7,851.8h0M567.7,856.5h0M567.7,862.1h0M567.7,867.9h0M567.7,872.8h0M567.7,877.2h0M567.7,882.8h0M567.7,890.5h0M567.8,896.9h0M567.8,901.9h0M567.8,908.1h0M567.9,912.1h0M567.9,916.5h0M568.0,922.6h0M568.1,928.5h0M568.2,933.1h0M568.3,938.6h0M568.4,942.8h0M568.5,948.4h0M568.7,954.0h0M568.9,959.7h0M569.1,966.1h0M569.3,970.3h0M569.6,977.3h0M569.8,982.8h0M570.2,989.4h0M570.5,994.9h0M570.9,1001.9h0M571.3,1007.5h0M571.6,1012.2h0M572.0,1016.5h0M624.6,817.5h0M624.9,816.0h0M625.1,817.5h0M625.2,826.2h0M625.2,828.9h0M625.2,835.0h0M625.2,841.1h0M625.2,846.0h0M625.2,853.0h0M625.2,857.3h0M625.2,861.7h0M625.2,867.1h0M625.3,875.8h0M625.3,880.7h0M625.4,887.2h0M625.4,894.2h0M625.5,896.2h0M625.5,901.5h0M625.6,908.3h0M625.8,917.8h0M626.0,924.3h0M626.1,930.5h0M626.3,936.7h0M626.5,944.2h0M626.7,947.1h0M626.9,953.0h0M627.1,958.0h0M627.2,960.7h0M627.3,963.4h0M627.6,969.3h0M628.0,976.1h0M628.3,981.4h0M628.6,986.0h0M628.9,990.6h0M629.4,997.6h0M629.7,1000.5h0M630.1,1005.2h0M630.4,1009.0h0M630.6,1011.8h0M630.8,1013.4h0M631.0,1016.0h0M631.2,1017.4h0M631.3,1019.3h0M631.6,1021.8h0M631.8,1024.2h0M681.4,794.5h0M681.6,793.0h0M681.9,794.5h0M682.0,799.8h0M682.0,807.1h0M682.0,816.2h0M682.0,821.7h0M682.0,828.1h0M682.0,835.6h0M682.0,843.0h0M682.0,852.2h0M682.1,857.3h0M682.1,863.5h0M682.2,871.8h0M682.2,880.7h0M682.3,887.3h0M682.4,893.8h0M682.6,903.0h0M682.7,910.6h0M682.9,920.1h0M683.2,929.2h0M683.5,939.1h0M683.7,943.7h0M684.0,952.9h0M684.3,959.8h0M684.8,968.5h0M685.0,974.0h0M685.3,978.5h0M685.8,985.8h0M686.1,991.2h0M686.4,995.7h0M686.6,998.8h0M686.9,1002.7h0M687.2,1006.2h0M687.4,1008.6h0M687.5,1010.3h0M687.7,1012.6h0M687.8,1013.9h0M688.1,1016.3h0M688.2,1017.6h0M688.3,1018.8h0M688.4,1020.5h0M688.6,1022.0h0M735.3,773.2h0M735.6,771.8h0M735.9,773.2h0M735.9,780.1h0M735.9,788.0h0M735.9,794.3h0M735.9,803.3h0M735.9,808.1h0M735.9,814.5h0M735.9,822.2h0M736.0,827.5h0M736.0,837.2h0M736.0,842.0h0M736.0,848.0h0M736.1,853.6h0M736.2,863.7h0M736.3,873.0h0M736.3,879.6h0M736.4,881.6h0M736.5,889.9h0M736.6,898.5h0M736.8,906.3h0M736.8,908.6h0M737.0,916.6h0M737.3,926.4h0M737.5,932.8h0M737.6,935.4h0M737.8,941.7h0M738.2,952.0h0M738.6,962.0h0M739.1,971.9h0M739.6,979.8h0M739.8,983.4h0M740.1,988.2h0M740.4,992.7h0M740.5,995.5h0M740.7,998.0h0M741.0,1001.7h0M787.1,747.5h0M787.4,746.0h0M787.6,747.5h0M787.7,757.4h0M787.7,765.7h0M787.7,775.0h0M787.7,785.0h0M787.7,789.6h0M787.7,795.3h0M787.7,801.7h0M787.7,810.4h0M787.7,816.0h0M787.8,821.9h0M787.8,832.0h0M787.8,839.2h0M787.9,844.6h0M788.0,853.1h0M788.0,860.5h0M788.1,868.0h0M788.2,873.2h0M788.3,879.1h0M788.4,886.1h0M788.5,894.4h0M788.6,897.0h0M788.8,905.3h0M788.9,912.3h0M789.1,917.7h0M789.2,924.0h0M789.5,932.4h0M789.7,938.0h0M789.8,942.5h0M790.1,949.0h0M790.3,953.6h0M790.5,960.0h0M790.9,968.5h0M791.3,976.0h0M791.4,978.8h0M791.7,983.5h0M791.9,987.3h0M792.1,990.2h0M792.2,992.0h0M792.3,994.5h0M792.4,996.3h0M835.8,728.5h0M836.1,727.0h0M836.4,728.5h0M836.4,733.0h0M836.4,737.5h0M836.4,745.9h0M836.4,751.5h0M836.4,762.2h0M836.4,764.0h0M836.4,771.3h0M836.4,782.0h0M836.4,787.8h0M836.5,794.0h0M836.5,803.1h0M836.5,808.0h0M836.5,813.8h0M836.6,822.0h0M836.6,828.3h0M836.6,834.4h0M836.7,841.3h0M836.7,846.6h0M836.8,856.5h0M837.0,866.3h0M837.1,875.1h0M837.2,880.7h0M837.3,889.5h0M837.5,897.3h0M837.7,907.2h0M838.0,917.4h0M838.2,926.8h0M838.5,936.3h0M838.8,943.4h0M839.1,951.4h0M839.4,960.8h0M839.6,964.9h0M839.8,970.0h0M840.0,973.3h0M840.1,976.4h0M840.3,980.8h0M840.5,983.5h0M840.7,986.8h0M840.8,989.3h0M840.9,991.9h0M881.8,709.0h0M882.1,707.5h0M882.4,709.0h0M882.4,713.5h0M882.4,718.0h0M882.4,723.8h0M882.4,732.0h0M882.4,742.2h0M882.4,751.9h0M882.4,763.3h0M882.4,775.2h0M882.5,781.7h0M882.5,792.8h0M882.5,801.2h0M882.6,813.9h0M882.6,821.9h0M882.7,830.9h0M882.8,843.4h0M882.9,845.7h0M883.0,855.4h0M883.1,866.2h0M883.3,878.8h0M883.5,890.8h0M883.7,900.6h0M883.9,906.8h0M884.2,918.0h0M884.5,930.0h0M884.9,942.2h0M885.1,948.0h0M885.4,954.8h0M885.7,961.5h0M885.9,966.9h0M886.1,972.3h0M886.2,974.7h0M886.4,979.0h0M886.5,981.0h0M886.7,983.7h0M886.7,985.1h0M886.8,987.0h0M886.9,989.0h0M887.1,991.5h0M887.2,993.6h0M926.6,687.5h0M926.9,686.0h0M927.1,687.5h0M927.2,692.0h0M927.2,696.5h0M927.2,707.3h0M927.2,714.7h0M927.2,721.5h0M927.2,730.1h0M927.2,741.7h0M927.2,744.3h0M927.2,753.9h0M927.2,765.2h0M927.2,771.6h0M927.3,783.2h0M927.3,786.1h0M927.3,792.2h0M927.3,802.3h0M927.4,809.8h0M927.5,821.8h0M927.5,829.7h0M927.6,836.5h0M927.7,844.3h0M927.8,853.1h0M927.8,858.9h0M927.9,865.0h0M928.1,876.2h0M928.3,887.2h0M928.4,893.6h0M928.5,897.0h0M928.6,904.1h0M928.8,912.5h0M929.1,923.9h0M929.3,933.3h0M929.6,941.4h0M929.8,948.2h0M930.0,954.3h0M930.1,958.2h0M930.3,963.3h0M930.4,966.1h0M930.5,969.9h0M930.6,972.6h0M930.8,976.0h0M930.9,979.1h0M931.0,981.5h0M931.1,983.7h0M931.1,984.8h0M931.2,987.4h0M969.1,667.0h0M969.4,665.5h0M969.6,667.0h0M969.7,671.5h0M969.7,676.0h0M969.7,677.9h0M969.7,685.7h0M969.7,695.6h0M969.7,701.2h0M969.7,707.9h0M969.7,716.6h0M969.7,723.7h0M969.7,731.1h0M969.7,740.4h0M969.7,751.1h0M969.7,758.9h0M969.8,769.1h0M969.8,777.8h0M969.8,780.0h0M969.8,787.7h0M969.9,798.5h0M969.9,809.0h0M970.0,815.4h0M970.0,820.9h0M970.1,829.6h0M970.1,835.4h0M970.2,837.2h0M970.2,840.5h0M970.3,850.5h0M970.4,857.7h0M970.4,860.7h0M970.5,866.2h0M970.6,875.4h0M970.7,880.5h0M970.9,890.3h0M971.0,895.5h0M971.1,900.4h0M971.3,911.0h0M971.5,918.8h0M971.6,924.7h0M971.8,932.5h0M972.0,940.5h0M972.2,948.8h0M972.3,951.7h0M972.4,955.2h0M972.6,959.2h0M972.7,963.8h0M972.8,966.4h0M1009.1,644.5h0M1009.4,643.0h0M1009.6,644.5h0M1009.7,649.0h0M1009.7,653.5h0M1009.7,662.6h0M1009.7,671.8h0M1009.7,677.3h0M1009.7,686.4h0M1009.7,695.8h0M1009.7,697.6h0M1009.7,707.8h0M1009.7,715.8h0M1009.7,724.3h0M1009.7,734.2h0M1009.7,741.7h0M1009.7,750.9h0M1009.8,760.9h0M1009.8,771.0h0M1009.8,774.4h0M1009.9,781.5h0M1009.9,786.9h0M1009.9,794.6h0M1010.0,805.4h0M1010.1,814.2h0M1010.1,820.2h0M1010.2,828.2h0M1010.3,837.0h0M1010.3,842.0h0M1010.4,847.8h0M1010.5,858.7h0M1010.6,868.3h0M1010.8,877.8h0M1010.9,882.9h0M1011.0,888.7h0M1011.1,894.5h0M1011.2,899.7h0M1011.3,909.0h0M1011.5,915.0h0M1011.6,920.6h0M1011.8,929.9h0M1011.9,935.3h0M1012.0,939.7h0M1012.2,945.3h0M1012.3,949.2h0M1012.4,953.2h0M1012.5,955.3h0M1012.6,959.3h0M1047.0,625.5h0M1047.3,624.0h0M1047.6,625.5h0M1047.7,630.0h0M1047.7,634.5h0M1047.7,641.6h0M1047.7,650.7h0M1047.7,656.1h0M1047.7,663.9h0M1047.7,669.7h0M1047.7,681.3h0M1047.7,689.3h0M1047.7,697.7h0M1047.7,704.9h0M1047.7,716.2h0M1047.7,721.3h0M1047.7,728.1h0M1047.7,733.3h0M1047.8,741.3h0M1047.8,750.2h0M1047.8,761.3h0M1047.9,770.1h0M1047.9,780.4h0M1047.9,782.3h0M1048.0,793.0h0M1048.0,800.7h0M1048.1,803.4h0M1048.1,811.3h0M1048.2,822.5h0M1048.3,824.5h0M1048.4,835.1h0M1048.4,842.4h0M1048.5,848.6h0M1048.7,859.4h0M1048.7,864.9h0M1048.9,875.3h0M1049.0,882.5h0M1049.1,888.8h0M1049.3,899.7h0M1049.5,906.3h0M1049.6,911.6h0M1049.7,916.6h0M1049.8,923.7h0M1050.0,928.5h0M1050.1,932.9h0M1050.2,938.3h0M1050.3,942.8h0M1050.5,948.3h0M1050.6,951.0h0M1050.7,954.9h0M1050.7,957.2h0M1050.8,960.1h0M1050.9,961.6h0M1050.9,964.0h0M1083.3,602.5h0M1083.6,601.0h0M1083.9,602.5h0M1083.9,607.0h0M1083.9,611.5h0M1083.9,620.6h0M1083.9,629.2h0M1083.9,635.7h0M1083.9,647.5h0M1083.9,649.8h0M1083.9,652.0h0M1083.9,662.0h0M1083.9,673.8h0M1083.9,681.1h0M1083.9,683.1h0M1083.9,686.6h0M1084.0,695.5h0M1084.0,702.2h0M1084.0,710.9h0M1084.0,717.3h0M1084.0,719.5h0M1084.0,724.8h0M1084.1,731.9h0M1084.1,741.6h0M1084.1,749.7h0M1084.2,761.3h0M1084.3,772.5h0M1084.3,778.1h0M1084.3,780.5h0M1084.3,782.5h0M1084.4,792.0h0M1084.5,797.3h0M1084.5,803.0h0M1084.6,809.6h0M1084.7,816.3h0M1084.7,823.6h0M1084.9,832.9h0M1085.0,844.2h0M1085.1,851.8h0M1085.2,857.7h0M1085.4,869.2h0M1085.6,878.9h0M1085.8,888.4h0M1086.0,897.7h0M1086.2,904.1h0M1086.4,913.8h0M1086.5,919.3h0M1086.7,924.5h0M1086.7,926.6h0M1086.9,933.3h0M1087.1,938.2h0M1087.2,943.0h0M1087.3,946.3h0M1087.4,949.0h0M1087.5,951.2h0M1087.6,953.1h0M1087.6,954.7h0M1087.7,957.3h0M1087.7,958.9h0M1087.8,960.3h0M1117.8,582.5h0M1118.1,581.0h0M1118.4,582.5h0M1118.5,587.0h0M1118.5,591.5h0M1118.5,599.3h0M1118.5,611.1h0M1118.5,620.4h0M1118.5,633.1h0M1118.5,646.6h0M1118.5,650.7h0M1118.5,657.7h0M1118.5,664.5h0M1118.5,672.0h0M1118.5,686.4h0M1118.5,694.6h0M1118.6,702.5h0M1118.6,709.6h0M1118.6,722.8h0M1118.7,731.1h0M1118.7,741.1h0M1118.8,753.7h0M1118.9,765.7h0M1118.9,778.6h0M1119.0,780.7h0M1119.1,791.2h0M1119.2,801.5h0M1119.3,815.3h0M1119.4,825.1h0M1119.5,833.5h0M1119.7,845.1h0M1119.8,848.4h0M1119.9,856.4h0M1120.1,865.1h0M1120.2,872.9h0M1120.3,875.6h0M1120.5,889.6h0M1120.7,898.3h0M1120.9,903.7h0M1121.1,912.7h0M1121.2,917.7h0M1121.3,922.5h0M1121.5,927.6h0M1121.6,932.4h0M1121.7,935.9h0M1121.8,939.7h0M1121.9,942.1h0M1122.0,943.5h0M1122.0,945.4h0M1122.1,947.0h0M1151.5,565.0h0M1152.1,565.0h0M1152.2,569.5h0M1152.2,574.0h0M1152.2,586.2h0M1152.2,602.8h0M1152.2,614.9h0M1152.2,625.2h0M1152.2,629.6h0M1152.2,647.5h0M1152.2,665.1h0M1152.2,680.1h0M1152.2,691.4h0M1152.3,699.2h0M1152.3,716.7h0M1152.4,726.9h0M1152.4,740.1h0M1152.5,756.1h0M1152.6,770.9h0M1152.7,780.7h0M1152.8,792.2h0M1152.9,803.7h0M1153.0,819.8h0M1153.1,828.8h0M1153.3,842.9h0M1153.4,846.3h0M1153.4,848.8h0M1153.6,863.7h0M1153.7,871.2h0M1154.0,882.9h0M1154.1,890.1h0M1154.3,899.8h0M1154.5,908.5h0M1154.5,912.0h0M1154.6,917.2h0M1154.7,920.9h0M1154.8,924.0h0M1154.9,927.0h0M1155.0,931.1h0M1155.3,942.9h0M1183.3,535.5h0M1183.4,533.3h0M1183.8,533.3h0M1183.9,535.5h0M1183.9,540.0h0M1183.9,544.5h0M1183.9,546.4h0M1183.9,552.6h0M1183.9,563.8h0M1183.9,576.7h0M1183.9,587.3h0M1183.9,596.8h0M1183.9,607.5h0M1183.9,615.1h0M1183.9,621.4h0M1183.9,624.1h0M1183.9,636.7h0M1184.0,649.2h0M1184.0,651.1h0M1184.0,662.3h0M1184.0,673.9h0M1184.0,683.8h0M1184.1,695.8h0M1184.1,701.7h0M1184.1,711.4h0M1184.2,722.3h0M1184.2,724.3h0M1184.2,735.4h0M1184.3,744.8h0M1184.4,757.4h0M1184.5,768.2h0M1184.6,780.0h0M1184.6,782.8h0M1184.7,795.4h0M1184.8,805.3h0M1184.9,818.5h0M1185.0,826.1h0M1185.2,837.8h0M1185.4,850.6h0M1185.5,857.0h0M1185.6,864.5h0M1185.8,876.1h0M1185.8,879.5h0M1185.9,885.4h0M1186.1,894.3h0M1186.2,899.5h0M1186.3,901.8h0M1186.4,907.5h0M1186.5,913.9h0M1186.6,918.3h0M1186.7,922.0h0M1186.8,925.5h0M1186.9,928.5h0M1186.9,931.2h0M1213.8,511.0h0M1214.1,509.0h0M1214.4,511.0h0M1214.4,515.5h0M1214.4,520.0h0M1214.4,532.8h0M1214.4,543.3h0M1214.4,547.0h0M1214.4,559.6h0M1214.4,565.8h0M1214.4,574.2h0M1214.4,584.4h0M1214.4,590.9h0M1214.4,593.9h0M1214.4,600.3h0M1214.4,606.0h0M1214.4,612.3h0M1214.4,625.2h0M1214.5,631.1h0M1214.5,641.6h0M1214.5,652.9h0M1214.5,662.6h0M1214.5,668.3h0M1214.5,675.1h0M1214.6,685.2h0M1214.6,689.1h0M1214.6,695.4h0M1214.7,707.2h0M1214.7,717.5h0M1214.7,724.3h0M1214.8,735.6h0M1214.8,742.3h0M1214.9,752.0h0M1215.0,760.0h0M1215.0,766.8h0M1215.1,780.0h0M1215.2,789.0h0M1215.3,799.1h0M1215.4,811.4h0M1215.5,819.8h0M1215.6,828.4h0M1215.8,839.0h0M1215.9,848.9h0M1216.1,862.1h0M1216.2,868.7h0M1216.2,870.9h0M1216.3,873.6h0M1216.4,879.0h0M1216.5,884.6h0M1216.5,888.9h0M1216.7,895.6h0M1216.8,902.6h0M1216.9,906.5h0M1217.0,910.0h0M1217.0,914.1h0M1217.1,916.0h0M1217.1,918.3h0M1217.2,919.9h0M1217.2,922.0h0M1217.2,923.5h0M1243.1,485.5h0M1243.4,484.0h0M1243.7,485.5h0M1243.8,490.0h0M1243.8,494.5h0M1243.8,503.9h0M1243.8,513.0h0M1243.8,523.2h0M1243.8,530.1h0M1243.8,537.0h0M1243.8,549.8h0M1243.8,558.9h0M1243.8,566.3h0M1243.8,576.8h0M1243.8,583.4h0M1243.8,595.0h0M1243.8,604.1h0M1243.8,606.6h0M1243.8,617.5h0M1243.8,624.5h0M1243.8,633.7h0M1243.9,641.6h0M1243.9,647.8h0M1243.9,653.6h0M1243.9,666.2h0M1244.0,675.6h0M1244.0,681.6h0M1244.0,691.6h0M1244.0,697.8h0M1244.0,700.0h0M1244.1,708.9h0M1244.1,718.2h0M1244.2,728.2h0M1244.3,740.9h0M1244.3,744.1h0M1244.4,755.6h0M1244.4,763.8h0M1244.5,771.7h0M1244.5,774.9h0M1244.6,786.6h0M1244.7,794.9h0M1244.8,807.2h0M1245.0,817.8h0M1245.1,827.1h0M1245.2,835.4h0M1245.3,842.3h0M1245.4,852.8h0M1245.5,861.4h0M1245.7,868.9h0M1245.8,876.5h0M1245.9,885.1h0M1246.0,889.4h0M1246.1,893.6h0M1246.2,899.7h0M1246.2,902.9h0M1246.3,905.0h0M1246.3,908.0h0M1246.4,909.9h0M1270.8,458.5h0M1271.1,457.0h0M1271.4,458.5h0M1271.4,463.0h0M1271.4,467.5h0M1271.4,476.7h0M1271.4,483.9h0M1271.4,496.4h0M1271.4,502.4h0M1271.4,515.0h0M1271.4,525.4h0M1271.4,537.3h0M1271.4,544.5h0M1271.4,555.3h0M1271.4,565.4h0M1271.4,572.8h0M1271.4,584.6h0M1271.5,588.5h0M1271.5,596.7h0M1271.5,606.5h0M1271.5,618.7h0M1271.5,622.0h0M1271.5,625.4h0M1271.5,636.6h0M1271.6,639.4h0M1271.6,651.9h0M1271.6,658.4h0M1271.7,671.5h0M1271.7,680.0h0M1271.7,690.0h0M1271.8,696.2h0M1271.8,707.7h0M1271.9,713.6h0M1271.9,716.8h0M1272.0,730.0h0M1272.0,740.0h0M1272.1,749.1h0M1272.2,758.4h0M1272.2,765.8h0M1272.3,768.2h0M1272.3,777.4h0M1272.4,784.5h0M1272.5,791.6h0M1272.6,799.9h0M1272.7,807.3h0M1272.8,816.4h0M1272.9,828.2h0M1273.0,836.3h0M1273.1,839.5h0M1273.2,848.9h0M1273.4,860.7h0M1273.4,863.8h0M1273.5,865.8h0M1273.6,873.6h0M1273.7,877.5h0M1273.8,883.4h0M1273.9,889.5h0M1274.0,894.7h0M1274.1,898.6h0M1274.1,900.5h0M1274.4,914.0h0M1274.4,916.0h0M1297.5,434.0h0M1297.8,432.5h0M1298.1,434.0h0M1298.2,438.5h0M1298.2,443.0h0M1298.2,448.2h0M1298.2,457.0h0M1298.2,459.7h0M1298.2,465.3h0M1298.2,475.6h0M1298.2,486.8h0M1298.2,492.0h0M1298.2,497.4h0M1298.2,506.1h0M1298.2,517.0h0M1298.2,522.4h0M1298.2,525.8h0M1298.2,531.5h0M1298.2,543.1h0M1298.2,549.5h0M1298.2,552.0h0M1298.2,561.3h0M1298.2,570.1h0M1298.2,572.9h0M1298.2,578.9h0M1298.2,589.4h0M1298.2,597.2h0M1298.2,608.9h0M1298.3,616.5h0M1298.3,626.8h0M1298.3,636.7h0M1298.3,647.0h0M1298.3,653.5h0M1298.4,657.1h0M1298.4,665.0h0M1298.4,675.6h0M1298.4,682.6h0M1298.5,694.4h0M1298.5,704.7h0M1298.6,710.4h0M1298.6,712.3h0M1298.6,721.0h0M1298.7,729.4h0M1298.7,734.7h0M1298.7,744.8h0M1298.8,754.8h0M1298.8,760.7h0M1298.9,770.2h0M1299.0,778.4h0M1299.0,786.5h0M1299.1,788.6h0M1299.1,798.7h0M1299.2,809.5h0M1299.3,814.6h0M1299.4,825.7h0M1299.5,833.4h0M1299.5,840.8h0M1299.7,850.4h0M1299.8,858.6h0M1299.8,864.1h0M1299.9,869.2h0M1299.9,871.1h0M1299.9,872.9h0M1300.0,878.6h0M1300.1,881.9h0M1300.1,885.2h0M1300.2,889.0h0M1300.2,891.6h0M1300.2,894.1h0M1300.3,897.0h0M1300.3,898.4h0M1300.3,900.5h0M1300.3,901.9h0M1300.4,904.3h0M1300.4,907.0h0M1323.5,405.5h0M1323.8,404.0h0M1324.0,405.5h0M1324.1,410.0h0M1324.1,414.5h0M1324.1,423.5h0M1324.1,429.0h0M1324.1,431.0h0M1324.1,438.0h0M1324.1,446.4h0M1324.1,457.8h0M1324.1,465.2h0M1324.1,476.8h0M1324.1,486.3h0M1324.1,492.4h0M1324.1,503.2h0M1324.1,511.9h0M1324.1,522.2h0M1324.1,529.4h0M1324.1,535.7h0M1324.1,543.9h0M1324.1,551.9h0M1324.1,559.8h0M1324.1,570.7h0M1324.1,582.2h0M1324.1,592.1h0M1324.2,601.7h0M1324.2,610.3h0M1324.2,613.9h0M1324.2,625.5h0M1324.2,635.0h0M1324.2,640.3h0M1324.3,649.4h0M1324.3,659.6h0M1324.3,668.9h0M1324.3,671.5h0M1324.4,678.6h0M1324.4,687.5h0M1324.4,689.5h0M1324.4,692.8h0M1324.5,699.4h0M1324.5,706.6h0M1324.5,711.9h0M1324.6,720.7h0M1324.6,726.2h0M1324.6,731.5h0M1324.7,738.9h0M1324.7,746.6h0M1324.8,755.9h0M1324.8,767.0h0M1324.9,772.9h0M1324.9,782.1h0M1325.0,789.4h0M1325.1,796.5h0M1325.1,804.5h0M1325.2,815.5h0M1325.3,820.7h0M1325.3,827.8h0M1325.4,838.2h0M1325.5,847.4h0M1325.7,857.2h0M1325.7,862.1h0M1325.8,869.6h0M1325.9,875.2h0M1325.9,877.9h0M1326.0,882.3h0M1326.0,884.1h0M1326.2,897.1h0M1348.3,375.5h0M1348.6,374.0h0M1348.9,375.5h0M1348.9,380.0h0M1348.9,384.5h0M1348.9,393.7h0M1348.9,401.9h0M1348.9,414.2h0M1348.9,425.7h0M1348.9,439.4h0M1348.9,441.9h0M1348.9,453.0h0M1348.9,462.1h0M1348.9,470.2h0M1348.9,481.9h0M1348.9,492.4h0M1348.9,507.2h0M1348.9,518.6h0M1349.0,533.2h0M1349.0,545.8h0M1349.0,561.7h0M1349.0,576.7h0M1349.0,580.6h0M1349.0,589.7h0M1349.0,593.5h0M1349.1,595.8h0M1349.1,600.1h0M1349.1,612.8h0M1349.1,617.0h0M1349.1,625.3h0M1349.2,636.8h0M1349.2,647.9h0M1349.2,660.3h0M1349.3,663.0h0M1349.3,667.0h0M1349.3,671.6h0M1349.3,674.6h0M1349.3,677.9h0M1349.3,682.4h0M1349.4,689.8h0M1349.4,700.5h0M1349.5,711.6h0M1349.5,719.9h0M1349.6,730.0h0M1349.7,743.3h0M1349.7,747.4h0M1349.8,754.4h0M1349.8,757.1h0M1349.8,760.8h0M1349.9,773.6h0M1349.9,777.8h0M1350.1,793.6h0M1350.1,800.7h0M1350.2,803.3h0M1350.3,813.5h0M1350.4,822.5h0M1350.4,826.5h0M1350.5,836.5h0M1350.6,846.3h0M1350.7,854.1h0M1350.8,860.4h0M1350.8,864.8h0M1350.9,870.3h0M1351.0,874.7h0M1351.0,876.6h0M1351.2,890.5h0M1372.0,345.0h0M1372.3,343.5h0M1372.6,345.0h0M1372.7,349.5h0M1372.7,354.0h0M1372.7,369.2h0M1372.7,375.4h0M1372.7,388.5h0M1372.7,399.1h0M1372.7,418.3h0M1372.7,434.0h0M1372.7,454.3h0M1372.7,468.7h0M1372.7,486.7h0M1372.7,502.2h0M1372.7,520.7h0M1372.7,533.8h0M1372.8,552.2h0M1372.8,563.5h0M1372.8,577.4h0M1372.8,589.7h0M1372.9,603.0h0M1372.9,617.2h0M1372.9,627.1h0M1373.0,645.8h0M1373.1,665.6h0M1373.1,678.1h0M1373.2,696.1h0M1373.4,715.8h0M1373.5,731.3h0M1373.5,742.1h0M1373.6,758.1h0M1373.8,772.4h0M1373.9,789.4h0M1374.0,798.8h0M1374.1,806.7h0M1374.2,817.9h0M1374.2,823.3h0M1374.3,831.7h0M1374.4,840.5h0M1374.5,842.5h0M1374.5,846.8h0M1374.6,853.5h0M1374.6,856.2h0M1374.7,860.4h0M1374.7,864.5h0M1375.4,845.6h0M1375.4,843.6h0M1375.7,828.5h0M1375.7,826.5h0M1375.7,824.3h0M1375.8,821.9h0M1395.5,312.5h0M1395.8,311.0h0M1396.1,312.5h0M1396.2,317.0h0M1396.2,321.5h0M1396.2,335.0h0M1396.2,349.5h0M1396.2,361.3h0M1396.2,374.1h0M1396.2,389.5h0M1396.2,394.7h0M1396.2,413.0h0M1396.2,429.9h0M1396.2,446.9h0M1396.2,460.6h0M1396.2,480.0h0M1396.2,495.4h0M1396.2,501.4h0M1396.2,519.0h0M1396.2,525.6h0M1396.3,543.0h0M1396.3,556.6h0M1396.3,559.7h0M1396.3,577.6h0M1396.4,599.5h0M1396.4,614.0h0M1396.4,617.2h0M1396.5,639.8h0M1396.6,662.2h0M1396.7,672.9h0M1396.8,695.3h0M1396.8,707.9h0M1397.0,731.0h0M1397.1,746.4h0M1397.2,763.8h0M1397.3,779.1h0M1397.4,788.6h0M1397.4,793.1h0M1397.5,805.6h0M1397.6,817.8h0M1397.7,825.0h0M1397.7,829.5h0M1397.8,835.6h0M1397.8,837.8h0M1397.9,840.9h0M1397.9,846.1h0M1398.0,850.9h0M1398.0,854.6h0M1398.0,857.6h0M1398.1,860.7h0M1398.1,862.3h0M1398.2,873.6h0M1398.3,867.6h0M1398.3,865.3h0M1398.3,863.0h0M1398.4,860.7h0M1398.4,858.5h0M1398.5,843.3h0M1398.5,840.9h0M1398.6,838.2h0M1398.7,823.1h0M1398.8,820.8h0M1398.8,818.4h0M1398.8,816.1h0M1398.8,813.7h0M1398.9,811.5h0M1398.9,809.5h0M1398.9,806.9h0M1399.0,804.8h0M1399.0,801.7h0M1399.1,799.2h0M1399.1,797.1h0M1399.1,795.1h0M1399.2,792.6h0M1399.2,790.3h0M1399.3,788.2h0M1399.3,785.8h0M1399.4,783.5h0M1418.1,277.0h0M1418.4,275.5h0M1418.7,277.0h0M1418.8,281.5h0M1418.8,286.0h0M1418.8,291.5h0M1418.8,315.8h0M1418.8,327.1h0M1418.8,341.4h0M1418.8,357.1h0M1418.8,381.1h0M1418.8,385.1h0M1418.8,402.0h0M1418.8,412.9h0M1418.8,420.2h0M1418.8,436.1h0M1418.8,439.8h0M1418.8,452.2h0M1418.8,475.4h0M1418.8,498.3h0M1418.8,516.6h0M1418.9,540.5h0M1418.9,557.1h0M1418.9,561.0h0M1418.9,565.2h0M1419.0,589.4h0M1419.0,607.3h0M1419.0,612.0h0M1419.1,630.4h0M1419.1,644.8h0M1419.2,652.1h0M1419.2,672.9h0M1419.3,685.3h0M1419.3,698.1h0M1419.4,711.5h0M1419.4,717.9h0M1419.6,739.2h0M1419.7,761.5h0M1419.8,779.4h0M1419.9,792.8h0M1419.9,799.6h0M1420.0,809.3h0M1420.1,816.9h0M1420.1,822.7h0M1420.2,827.1h0M1420.2,832.1h0M1420.2,837.3h0M1420.3,842.2h0M1420.3,844.9h0M1420.3,847.4h0M1420.4,849.8h0M1420.4,852.5h0M1420.4,854.5h0M1420.4,856.4h0M1420.4,858.7h0M1420.5,861.3h0M1420.5,863.6h0M1420.5,865.0h0M1420.5,866.0h0M1420.6,854.4h0M1420.6,852.0h0M1420.6,849.6h0M1420.6,847.3h0M1420.6,845.2h0M1420.6,842.8h0M1420.7,840.5h0M1420.7,837.9h0M1420.7,835.3h0M1420.7,833.0h0M1420.7,830.7h0M1420.8,828.3h0M1420.8,825.7h0M1420.8,823.1h0M1420.8,820.4h0M1420.8,817.9h0M1420.9,815.7h0M1420.9,812.7h0M1420.9,810.2h0M1420.9,807.7h0M1421.0,805.4h0M1421.0,802.5h0M1421.0,800.0h0M1421.0,797.5h0M1421.1,795.2h0M1421.1,793.1h0M1421.1,790.2h0M1421.2,787.9h0M1421.2,785.5h0M1421.2,783.3h0M1421.3,780.7h0M1421.3,778.1h0M1421.3,775.7h0M1421.4,773.2h0M1421.4,770.7h0M1421.5,768.5h0M1421.5,766.1h0M1421.6,763.6h0M1421.6,761.4h0M1421.7,758.9h0M1421.7,756.8h0M1421.8,754.5h0M1421.9,751.7h0M1439.1,237.5h0M1439.4,236.0h0M1439.7,237.5h0M1439.8,242.0h0M1439.8,246.5h0M1439.8,261.7h0M1439.8,280.4h0M1439.8,297.3h0M1439.8,316.9h0M1439.8,339.1h0M1439.8,351.1h0M1439.8,369.4h0M1439.8,377.1h0M1439.8,399.4h0M1439.8,421.3h0M1439.8,442.2h0M1439.8,454.0h0M1439.8,470.3h0M1439.9,494.9h0M1439.9,510.8h0M1439.9,529.4h0M1439.9,541.4h0M1440.0,564.5h0M1440.0,584.6h0M1440.1,597.4h0M1440.1,614.0h0M1440.1,627.0h0M1440.2,633.6h0M1440.2,649.5h0M1440.3,670.6h0M1440.4,696.8h0M1440.5,709.9h0M1440.6,729.4h0M1440.6,732.8h0M1440.7,746.4h0M1440.8,757.6h0M1440.9,774.8h0M1440.9,779.0h0M1440.9,785.8h0M1441.0,788.2h0M1441.0,799.7h0M1441.1,805.2h0M1441.1,812.4h0M1441.2,817.9h0M1441.2,823.4h0M1441.3,828.9h0M1441.3,831.9h0M1441.3,836.2h0M1441.4,839.3h0M1441.5,851.4h0M1441.5,848.8h0M1441.5,846.5h0M1441.6,844.0h0M1441.6,841.5h0M1441.6,838.9h0M1441.6,836.4h0M1441.6,833.6h0M1441.6,830.9h0M1441.6,828.3h0M1441.7,826.0h0M1441.7,823.4h0M1441.7,820.7h0M1441.7,817.9h0M1441.7,815.1h0M1441.7,812.7h0M1441.8,810.3h0M1441.8,807.8h0M1441.8,805.4h0M1441.8,802.3h0M1441.8,799.9h0M1441.9,797.1h0M1441.9,793.7h0M1441.9,791.1h0M1441.9,788.5h0M1442.0,786.0h0M1442.0,783.2h0M1442.0,780.6h0M1442.1,777.9h0M1442.1,775.4h0M1442.1,772.9h0M1442.1,770.5h0M1442.2,767.9h0M1442.2,765.2h0M1442.2,762.7h0M1442.3,760.2h0M1442.3,757.4h0M1442.4,754.7h0M1442.4,751.7h0M1442.5,749.0h0M1442.5,746.7h0M1442.6,744.1h0M1442.6,741.5h0M1442.7,739.2h0M1442.8,736.4h0M1442.8,733.7h0M1442.9,731.2h0M1443.0,728.9h0M1443.1,726.5h0M1459.8,198.0h0M1460.0,196.5h0M1460.3,198.0h0M1460.4,202.5h0M1460.4,207.0h0M1460.4,220.5h0M1460.4,242.7h0M1460.4,249.9h0M1460.4,271.8h0M1460.4,280.2h0M1460.4,304.8h0M1460.4,330.2h0M1460.4,357.8h0M1460.4,375.8h0M1460.4,397.3h0M1460.4,415.7h0M1460.4,444.1h0M1460.5,464.8h0M1460.5,479.0h0M1460.5,496.8h0M1460.6,510.2h0M1460.6,531.2h0M1460.6,545.3h0M1460.7,557.8h0M1460.7,579.4h0M1460.8,594.7h0M1460.9,614.6h0M1460.9,629.5h0M1461.0,633.9h0M1461.1,660.9h0M1461.2,683.5h0M1461.3,697.5h0M1461.3,705.0h0M1461.5,729.6h0M1461.5,732.5h0M1461.6,746.7h0M1461.7,760.7h0M1461.8,771.8h0M1461.9,783.6h0M1462.0,793.2h0M1462.1,801.3h0M1462.1,803.6h0M1462.2,810.1h0M1462.2,813.4h0M1462.2,819.0h0M1462.3,822.9h0M1462.3,824.9h0M1462.3,826.8h0M1462.3,828.2h0M1462.4,830.6h0M1462.4,831.8h0M1462.4,833.3h0M1462.5,845.0h0M1462.5,842.6h0M1462.5,839.9h0M1462.5,837.3h0M1462.5,834.4h0M1462.6,831.4h0M1462.6,828.9h0M1462.6,826.4h0M1462.6,823.3h0M1462.6,820.6h0M1462.6,817.3h0M1462.6,814.4h0M1462.7,811.5h0M1462.7,808.7h0M1462.7,805.5h0M1462.7,802.9h0M1462.7,800.1h0M1462.7,797.5h0M1462.8,794.4h0M1462.8,791.7h0M1462.8,788.4h0M1462.8,785.4h0M1462.8,782.2h0M1462.9,779.3h0M1462.9,776.7h0M1462.9,773.9h0M1462.9,771.2h0M1462.9,768.2h0M1463.0,764.9h0M1463.0,762.0h0M1463.0,759.3h0M1463.1,756.7h0M1463.1,754.1h0M1463.1,751.3h0M1463.1,748.5h0M1463.2,745.7h0M1463.2,743.0h0M1463.3,740.3h0M1463.3,737.6h0M1463.3,734.9h0M1463.4,732.1h0M1463.4,729.4h0M1463.5,726.8h0M1463.5,724.1h0M1463.6,721.4h0M1463.7,718.9h0M1463.7,716.1h0M1463.8,713.7h0M1463.9,711.2h0M1480.1,151.5h0M1480.4,150.0h0M1480.7,151.5h0M1480.8,156.0h0M1480.8,160.5h0M1480.8,183.7h0M1480.8,202.2h0M1480.8,215.5h0M1480.8,233.3h0M1480.8,255.8h0M1480.8,283.1h0M1480.8,289.5h0M1480.8,312.7h0M1480.8,343.0h0M1480.8,365.6h0M1480.8,381.0h0M1480.8,408.7h0M1480.8,428.5h0M1480.9,454.3h0M1480.9,462.6h0M1480.9,481.7h0M1480.9,486.5h0M1481.0,515.9h0M1481.0,532.1h0M1481.1,548.6h0M1481.1,573.9h0M1481.2,602.0h0M1481.3,617.0h0M1481.4,642.4h0M1481.4,649.1h0M1481.5,668.1h0M1481.5,682.2h0M1481.6,695.2h0M1481.7,713.1h0M1481.8,734.7h0M1481.9,748.1h0M1481.9,757.3h0M1482.0,765.7h0M1482.0,771.5h0M1482.1,778.5h0M1482.1,787.3h0M1482.2,795.5h0M1482.2,801.7h0M1482.3,806.8h0M1482.3,811.6h0M1482.4,815.6h0M1482.5,833.5h0M1482.5,834.0h0M1482.5,831.0h0M1482.5,828.1h0M1482.5,825.1h0M1482.5,822.3h0M1482.6,819.3h0M1482.6,816.2h0M1482.6,813.3h0M1482.6,810.5h0M1482.6,807.7h0M1482.6,804.2h0M1482.6,801.0h0M1482.6,797.7h0M1482.7,794.8h0M1482.7,792.0h0M1482.7,789.2h0M1482.7,786.2h0M1482.7,783.3h0M1482.7,780.2h0M1482.7,777.1h0M1482.8,774.2h0M1482.8,770.9h0M1482.8,767.9h0M1482.8,764.8h0M1482.8,762.0h0M1482.9,759.3h0M1482.9,756.5h0M1482.9,753.7h0M1482.9,751.0h0M1482.9,748.1h0M1483.0,744.6h0M1483.0,741.1h0M1483.0,737.7h0M1483.1,734.7h0M1483.1,732.0h0M1483.1,729.3h0M1483.1,726.3h0M1483.2,723.8h0M1483.2,721.1h0M1483.3,718.1h0M1483.3,715.5h0M1483.3,712.7h0M1483.4,709.7h0M1483.4,706.8h0M1483.5,703.8h0M1483.6,701.1h0M1483.7,698.0h0M1483.7,695.4h0M1500.2,133.7h0M1500.2,140.0h0M1500.2,159.8h0M1500.2,183.5h0M1500.2,212.4h0M1500.2,236.3h0M1500.2,266.2h0M1500.2,272.4h0M1500.2,300.6h0M1500.2,306.8h0M1500.2,331.0h0M1500.2,354.5h0M1500.2,378.5h0M1500.2,399.2h0M1500.3,413.6h0M1500.3,432.1h0M1500.3,446.0h0M1500.3,453.5h0M1500.3,474.3h0M1500.4,500.0h0M1500.4,522.8h0M1500.5,544.4h0M1500.5,551.4h0M1500.6,568.8h0M1500.6,593.7h0M1500.7,616.5h0M1500.8,642.6h0M1500.9,663.9h0M1501.0,688.5h0M1501.1,712.2h0M1501.2,732.0h0M1501.3,750.1h0M1501.4,760.6h0M1501.4,766.5h0M1501.4,775.3h0M1501.5,780.0h0M1501.5,782.1h0M1501.5,786.4h0M1501.5,789.9h0M1501.6,793.3h0M1501.6,796.1h0M1501.6,800.8h0M1501.6,803.8h0M1501.6,806.1h0M1501.7,809.2h0M1501.7,810.9h0M1501.7,812.5h0M1501.7,814.3h0M1501.7,817.0h0M1501.7,818.8h0M1501.8,821.0h0M1501.8,818.1h0M1501.8,814.7h0M1501.8,811.6h0M1501.8,808.6h0M1501.8,805.7h0M1501.8,802.6h0M1501.8,799.0h0M1501.8,795.8h0M1501.8,792.5h0M1501.8,788.9h0M1501.9,785.2h0M1501.9,782.0h0M1501.9,778.1h0M1501.9,774.8h0M1501.9,771.1h0M1501.9,768.1h0M1501.9,764.3h0M1502.0,760.9h0M1502.0,757.6h0M1502.0,754.0h0M1502.0,750.9h0M1502.0,747.6h0M1502.0,744.0h0M1502.1,741.1h0M1502.1,737.5h0M1502.1,733.8h0M1502.1,730.3h0M1502.2,726.5h0M1502.2,723.4h0M1502.2,720.2h0M1502.2,717.4h0M1502.3,713.9h0M1502.3,710.6h0M1502.3,707.6h0M1502.3,704.5h0M1502.4,701.2h0M1502.4,697.5h0M1502.5,694.3h0M1502.5,691.0h0M1502.6,688.1h0M1502.6,685.0h0M1502.7,681.7h0M1502.8,678.1h0M1518.9,132.7h0M1518.9,156.2h0M1518.9,173.5h0M1518.9,204.6h0M1518.9,230.5h0M1518.9,253.5h0M1518.9,269.3h0M1518.9,294.0h0M1518.9,313.5h0M1519.0,320.3h0M1519.0,335.8h0M1519.0,356.5h0M1519.0,378.0h0M1519.0,393.4h0M1519.0,417.3h0M1519.1,423.8h0M1519.1,432.8h0M1519.1,451.5h0M1519.1,466.7h0M1519.2,487.3h0M1519.2,507.1h0M1519.2,516.6h0M1519.3,535.0h0M1519.4,565.7h0M1519.4,591.8h0M1519.5,600.3h0M1519.5,618.4h0M1519.6,649.3h0M1519.8,678.5h0M1519.9,705.6h0M1520.0,728.7h0M1520.1,738.9h0M1520.1,742.1h0M1520.2,758.8h0M1520.2,766.6h0M1520.2,769.0h0M1520.3,777.8h0M1520.3,782.3h0M1520.4,787.7h0M1520.4,790.5h0M1520.4,794.6h0M1520.4,796.2h0M1520.4,798.7h0M1520.5,801.1h0M1520.5,802.6h0M1520.5,804.9h0M1520.5,806.9h0M1520.5,808.0h0M1520.5,804.2h0M1520.5,800.5h0M1520.5,796.7h0M1520.5,793.3h0M1520.5,789.1h0M1520.6,785.6h0M1520.6,781.9h0M1520.6,778.2h0M1520.6,774.5h0M1520.6,770.7h0M1520.6,766.9h0M1520.6,763.5h0M1520.6,760.1h0M1520.6,755.9h0M1520.7,752.6h0M1520.7,749.1h0M1520.7,745.5h0M1520.7,741.9h0M1520.7,738.1h0M1520.7,734.6h0M1520.7,730.7h0M1520.8,726.6h0M1520.8,722.1h0M1520.8,718.5h0M1520.8,715.3h0M1520.8,711.7h0M1520.9,708.2h0M1520.9,704.4h0M1520.9,700.2h0M1520.9,696.6h0M1521.0,692.9h0M1521.0,688.8h0M1521.0,685.3h0M1521.1,681.7h0M1521.1,678.4h0M1521.1,674.9h0M1521.2,671.3h0M1521.2,667.3h0M1521.3,663.9h0M1521.4,660.3h0M1521.4,657.1h0M1537.2,143.7h0M1537.2,174.6h0M1537.2,202.4h0M1537.2,232.0h0M1537.2,237.2h0M1537.2,269.4h0M1537.2,300.7h0M1537.2,329.8h0M1537.3,348.8h0M1537.3,379.7h0M1537.3,384.5h0M1537.3,392.1h0M1537.3,396.8h0M1537.4,425.1h0M1537.4,442.4h0M1537.5,464.7h0M1537.5,488.9h0M1537.6,506.4h0M1537.7,534.5h0M1537.7,557.0h0M1537.8,579.2h0M1537.9,597.8h0M1538.0,627.4h0M1538.1,642.4h0M1538.1,656.8h0M1538.3,678.0h0M1538.4,704.3h0M1538.5,716.1h0M1538.6,737.1h0M1538.6,739.2h0M1538.7,748.8h0M1538.8,759.0h0M1538.8,765.5h0M1538.8,769.8h0M1538.9,775.4h0M1538.9,779.4h0M1538.9,781.3h0M1538.9,782.8h0M1539.0,788.2h0M1539.0,784.2h0M1539.0,780.0h0M1539.0,775.5h0M1539.0,771.6h0M1539.1,767.5h0M1539.1,762.9h0M1539.1,759.3h0M1539.1,755.3h0M1539.1,751.0h0M1539.1,746.8h0M1539.1,742.4h0M1539.1,738.1h0M1539.1,734.3h0M1539.1,730.5h0M1539.2,726.8h0M1539.2,722.3h0M1539.2,718.1h0M1539.2,713.5h0M1539.2,708.6h0M1539.2,703.5h0M1539.3,699.2h0M1539.3,694.5h0M1539.3,690.0h0M1539.3,686.1h0M1539.3,681.9h0M1539.4,677.6h0M1539.4,672.7h0M1539.4,667.8h0M1539.5,663.9h0M1539.5,659.8h0M1539.5,655.6h0M1539.6,651.5h0M1539.6,647.1h0M1539.7,642.9h0M1539.7,639.0h0M1539.8,635.4h0M1555.2,147.4h0M1555.2,179.6h0M1555.2,204.4h0M1555.2,236.4h0M1555.2,240.8h0M1555.2,258.3h0M1555.2,288.2h0M1555.2,295.1h0M1555.2,299.3h0M1555.2,319.1h0M1555.3,344.7h0M1555.3,359.9h0M1555.3,392.6h0M1555.3,412.7h0M1555.3,418.3h0M1555.4,433.6h0M1555.4,458.9h0M1555.4,463.5h0M1555.5,483.0h0M1555.5,506.8h0M1555.6,529.0h0M1555.6,538.9h0M1555.6,559.1h0M1555.7,575.6h0M1555.7,584.9h0M1555.8,600.7h0M1555.8,608.2h0M1555.9,631.4h0M1556.0,660.2h0M1556.0,668.8h0M1556.1,690.4h0M1556.2,718.3h0M1556.3,734.5h0M1556.3,744.8h0M1556.4,750.2h0M1556.4,756.3h0M1556.4,761.7h0M1556.4,765.7h0M1556.5,771.7h0M1556.5,767.6h0M1556.5,762.8h0M1556.5,758.5h0M1556.5,753.9h0M1556.5,749.2h0M1556.6,744.9h0M1556.6,740.1h0M1556.6,735.9h0M1556.6,731.6h0M1556.6,726.2h0M1556.6,721.5h0M1556.6,716.4h0M1556.6,712.1h0M1556.6,706.7h0M1556.7,701.8h0M1556.7,696.6h0M1556.7,691.5h0M1556.7,686.3h0M1556.7,682.2h0M1556.7,677.0h0M1556.8,672.6h0M1556.8,668.1h0M1556.8,662.6h0M1556.8,658.0h0M1556.8,653.8h0M1556.9,649.2h0M1556.9,644.6h0M1556.9,640.1h0M1557.0,635.9h0M1557.0,631.2h0M1557.0,626.7h0M1557.1,622.0h0M1557.1,617.4h0M1557.2,613.0h0M1572.5,140.6h0M1572.5,161.5h0M1572.5,183.2h0M1572.5,206.2h0M1572.5,220.7h0M1572.5,245.7h0M1572.6,274.0h0M1572.6,296.8h0M1572.6,306.5h0M1572.6,335.4h0M1572.7,366.5h0M1572.7,392.1h0M1572.8,424.9h0M1572.8,453.2h0M1572.9,475.0h0M1572.9,482.2h0M1573.0,496.6h0M1573.0,515.2h0M1573.1,529.9h0M1573.2,551.9h0M1573.2,573.3h0M1573.3,583.3h0M1573.4,604.3h0M1573.5,636.3h0M1573.6,645.7h0M1573.6,652.9h0M1573.7,672.5h0M1573.8,698.2h0M1573.9,708.4h0M1574.0,719.5h0M1574.0,727.7h0M1574.1,736.1h0M1574.1,743.7h0M1574.2,749.4h0M1574.3,755.0h0M1574.3,750.3h0M1574.3,745.8h0M1574.3,739.9h0M1574.3,735.3h0M1574.3,730.5h0M1574.3,725.8h0M1574.3,720.8h0M1574.3,715.7h0M1574.3,710.5h0M1574.3,705.3h0M1574.3,700.8h0M1574.4,695.9h0M1574.4,690.5h0M1574.4,685.0h0M1574.4,680.0h0M1574.4,675.2h0M1574.4,670.8h0M1574.4,665.7h0M1574.4,660.1h0M1574.5,655.0h0M1574.5,649.6h0M1574.5,644.5h0M1574.5,639.7h0M1574.5,634.7h0M1574.5,629.6h0M1574.6,624.8h0M1574.6,619.7h0M1574.6,614.5h0M1574.7,609.8h0M1574.7,605.1h0M1574.7,600.4h0M1574.8,595.7h0M1574.8,591.4h0M1589.2,148.3h0M1589.2,172.3h0M1589.2,195.4h0M1589.2,218.2h0M1589.2,236.9h0M1589.2,241.8h0M1589.3,258.2h0M1589.3,272.8h0M1589.3,281.9h0M1589.3,299.3h0M1589.3,321.8h0M1589.4,355.1h0M1589.4,381.7h0M1589.5,411.8h0M1589.5,420.2h0M1589.6,447.2h0M1589.6,472.1h0M1589.7,497.3h0M1589.7,513.4h0M1589.8,532.3h0M1589.8,541.7h0M1589.8,548.5h0M1589.9,571.3h0M1590.0,602.7h0M1590.2,631.0h0M1590.3,663.4h0M1590.4,685.2h0M1590.5,706.1h0M1590.6,713.2h0M1590.6,723.8h0M1590.7,727.4h0M1590.7,731.3h0M1590.7,733.1h0M1590.7,735.5h0M1590.7,737.9h0M1590.7,739.2h0M1590.8,741.0h0M1590.8,735.4h0M1590.8,730.0h0M1590.8,724.3h0M1590.8,718.5h0M1590.8,712.2h0M1590.8,706.5h0M1590.8,701.1h0M1590.8,695.9h0M1590.8,689.5h0M1590.8,682.9h0M1590.8,677.1h0M1590.9,671.0h0M1590.9,665.2h0M1590.9,659.4h0M1590.9,654.0h0M1590.9,648.0h0M1590.9,642.4h0M1590.9,636.4h0M1590.9,630.4h0M1591.0,624.1h0M1591.0,618.3h0M1591.0,612.4h0M1591.0,606.8h0M1591.0,600.8h0M1591.1,595.2h0M1591.1,589.7h0M1591.1,584.4h0M1591.2,578.6h0M1591.2,572.9h0M1591.2,567.1h0M1591.3,561.6h0M1605.8,142.8h0M1605.8,161.9h0M1605.8,176.8h0M1605.8,195.5h0M1605.8,228.6h0M1605.8,233.4h0M1605.9,255.7h0M1605.9,284.1h0M1605.9,298.7h0M1605.9,331.4h0M1606.0,354.6h0M1606.0,378.7h0M1606.0,393.6h0M1606.1,422.4h0M1606.1,450.0h0M1606.2,469.8h0M1606.2,489.3h0M1606.2,503.9h0M1606.3,520.2h0M1606.4,552.6h0M1606.5,578.8h0M1606.5,603.0h0M1606.5,607.4h0M1606.7,636.9h0M1606.7,643.1h0M1606.8,671.4h0M1606.8,685.9h0M1606.9,697.2h0M1606.9,706.7h0M1607.0,709.6h0M1607.0,713.8h0M1607.0,707.0h0M1607.0,700.2h0M1607.0,693.9h0M1607.0,687.0h0M1607.0,680.1h0M1607.1,672.6h0M1607.1,666.4h0M1607.1,659.7h0M1607.1,653.5h0M1607.1,646.5h0M1607.1,640.1h0M1607.1,633.4h0M1607.1,627.2h0M1607.1,620.9h0M1607.2,614.6h0M1607.2,607.8h0M1607.2,601.3h0M1607.2,593.7h0M1607.2,585.9h0M1607.2,579.0h0M1607.3,572.5h0M1607.3,566.3h0M1607.3,559.6h0M1607.4,553.3h0M1607.4,547.3h0M1607.4,541.2h0M1607.5,534.8h0M1607.5,528.1h0M1622.2,132.6h0M1622.2,148.9h0M1622.2,172.9h0M1622.2,197.3h0M1622.2,227.7h0M1622.3,243.9h0M1622.3,251.0h0M1622.3,259.5h0M1622.3,264.4h0M1622.3,280.1h0M1622.3,307.7h0M1622.3,314.2h0M1622.4,342.5h0M1622.4,372.3h0M1622.4,391.1h0M1622.5,411.7h0M1622.5,435.5h0M1622.5,456.9h0M1622.6,482.7h0M1622.7,510.1h0M1622.7,538.8h0M1622.8,545.2h0M1622.8,572.2h0M1622.9,587.6h0M1623.0,612.8h0M1623.1,643.6h0M1623.1,657.9h0M1623.2,675.1h0M1623.2,684.7h0M1623.2,688.0h0M1623.2,689.6h0M1623.2,690.7h0M1623.2,693.2h0M1623.2,694.0h0M1623.3,687.1h0M1623.3,680.1h0M1623.3,672.7h0M1623.3,665.2h0M1623.3,657.5h0M1623.3,649.1h0M1623.3,642.1h0M1623.3,634.6h0M1623.3,626.9h0M1623.3,619.9h0M1623.3,611.8h0M1623.3,604.3h0M1623.4,597.8h0M1623.4,589.6h0M1623.4,581.7h0M1623.4,573.8h0M1623.4,566.6h0M1623.4,559.3h0M1623.4,551.1h0M1623.5,544.1h0M1623.5,536.4h0M1623.5,528.7h0M1623.5,521.4h0M1623.6,513.6h0M1623.6,506.1h0M1623.7,498.2h0M1623.7,491.2h0M1637.7,135.5h0M1637.7,164.6h0M1637.7,169.7h0M1637.7,197.5h0M1637.8,230.3h0M1637.8,251.1h0M1637.8,267.6h0M1637.8,277.0h0M1637.8,299.9h0M1637.9,314.5h0M1637.9,339.7h0M1637.9,368.0h0M1638.0,385.9h0M1638.0,418.9h0M1638.1,441.3h0M1638.1,450.6h0M1638.2,483.2h0M1638.3,512.7h0M1638.3,521.6h0M1638.3,545.4h0M1638.4,567.2h0M1638.5,600.0h0M1638.6,620.9h0M1638.7,643.5h0M1638.7,654.2h0M1638.7,657.7h0M1638.7,660.7h0M1638.7,663.1h0M1638.8,664.0h0M1638.8,655.0h0M1638.8,647.6h0M1638.8,639.3h0M1638.8,631.8h0M1638.8,623.9h0M1638.8,616.2h0M1638.8,608.7h0M1638.8,600.6h0M1638.8,593.2h0M1638.8,585.4h0M1638.8,578.0h0M1638.8,569.4h0M1638.9,560.8h0M1638.9,551.9h0M1638.9,544.4h0M1638.9,536.2h0M1638.9,528.5h0M1638.9,520.2h0M1638.9,512.1h0M1638.9,504.8h0M1639.0,497.2h0M1639.0,489.8h0M1639.0,482.6h0M1639.0,475.0h0M1639.1,467.9h0M1639.1,460.8h0M1639.1,452.8h0M1639.2,445.1h0M1653.4,138.1h0M1653.4,162.9h0M1653.4,189.0h0M1653.4,214.5h0M1653.4,238.2h0M1653.4,257.2h0M1653.5,266.1h0M1653.5,284.6h0M1653.5,310.9h0M1653.5,333.5h0M1653.5,359.9h0M1653.5,384.0h0M1653.6,417.2h0M1653.6,443.5h0M1653.6,471.7h0M1653.7,493.6h0M1653.7,509.7h0M1653.7,517.8h0M1653.7,537.0h0M1653.8,555.2h0M1653.8,564.1h0M1653.8,578.6h0M1653.9,606.7h0M1653.9,617.5h0M1653.9,620.2h0M1653.9,623.2h0M1653.9,625.0h0M1653.9,617.4h0M1653.9,610.1h0M1653.9,602.2h0M1653.9,594.1h0M1653.9,586.2h0M1653.9,578.3h0M1653.9,570.9h0M1653.9,562.0h0M1654.0,553.3h0M1654.0,543.3h0M1654.0,535.2h0M1654.0,525.6h0M1654.0,517.9h0M1654.0,509.4h0M1654.0,501.6h0M1654.0,491.3h0M1654.0,482.3h0M1654.0,472.8h0M1654.1,464.5h0M1654.1,455.7h0M1654.1,448.1h0M1654.1,438.8h0M1654.1,430.7h0M1654.1,422.3h0M1654.2,412.3h0M1654.2,402.9h0M1654.2,393.5h0M1654.2,385.4h0M1654.3,376.5h0M1654.3,368.4h0M1654.4,360.9h0M1668.8,150.1h0M1668.8,176.5h0M1668.8,191.3h0M1668.7,221.6h0M1668.7,238.0h0M1668.7,260.2h0M1668.7,276.1h0M1668.7,298.5h0M1668.7,328.0h0M1668.6,356.2h0M1668.6,387.0h0M1668.6,407.4h0M1668.6,424.4h0M1668.5,452.8h0M1668.5,472.1h0M1668.4,493.0h0M1668.4,514.8h0M1668.4,545.8h0M1668.3,563.3h0M1668.3,565.4h0M1668.3,571.1h0M1668.3,573.1h0M1668.3,574.7h0M1668.3,575.5h0M1668.3,567.3h0M1668.3,559.1h0M1668.3,551.3h0M1668.3,542.7h0M1668.3,534.9h0M1668.3,527.3h0M1668.4,518.8h0M1668.4,509.3h0M1668.4,501.6h0M1668.4,493.0h0M1668.4,484.6h0M1668.4,477.4h0M1668.4,468.4h0M1668.4,459.4h0M1668.4,452.1h0M1668.5,444.1h0M1668.5,435.7h0M1668.5,427.6h0M1668.5,419.9h0M1668.5,412.3h0M1668.6,403.9h0M1668.6,395.8h0M1668.6,388.3h0M1668.7,380.7h0M1668.7,372.9h0M1683.6,141.7h0M1683.6,159.4h0M1683.6,189.5h0M1683.6,208.2h0M1683.6,229.5h0M1683.6,261.3h0M1683.6,280.0h0M1683.6,285.5h0M1683.6,308.4h0M1683.6,324.1h0M1683.6,340.2h0M1683.6,359.5h0M1683.6,365.6h0M1683.6,373.7h0M1683.6,382.8h0M1683.6,404.2h0M1683.6,427.7h0M1683.6,432.5h0M1683.6,440.6h0M1683.6,463.9h0M1683.6,476.6h0M1683.6,492.1h0M1683.6,497.4h0M1683.6,501.5h0M1683.6,505.8h0M1683.6,507.7h0M1683.6,509.0h0M1683.6,501.4h0M1683.6,493.1h0M1683.6,485.5h0M1683.7,477.7h0M1683.7,469.6h0M1683.7,460.6h0M1683.7,452.8h0M1683.7,444.9h0M1697.6,135.8h0M1697.6,158.4h0M1697.6,177.2h0M1697.6,198.0h0M1697.6,228.5h0M1697.6,234.7h0M1697.6,239.8h0M1697.6,266.9h0M1697.6,300.3h0M1697.6,326.5h0M1697.6,351.7h0M1697.6,380.3h0M1697.6,392.5h0M1697.6,396.7h0M1697.6,398.4h0M1697.6,400.2h0M1697.6,401.6h0M1697.6,402.5h0M1697.6,395.2h0M1697.6,387.2h0M1697.6,377.9h0M1697.6,369.2h0M1697.6,360.8h0M1697.6,351.2h0M1697.6,342.6h0M1697.6,333.1h0M1697.7,325.0h0M1697.7,315.7h0M1697.7,307.1h0M1697.7,298.3h0M1697.7,289.4h0M1697.7,280.7h0M1697.7,273.0h0M1697.7,263.6h0M1697.7,255.5h0M1697.7,247.1h0M1697.7,237.8h0M1711.5,135.7h0M1711.5,155.3h0M1711.5,177.1h0M1711.5,182.6h0M1711.5,186.2h0M1711.5,189.8h0M1711.5,191.5h0M1711.5,194.0h0"/></g><path d="M787.5,144V1068M1668.0,144V1068" stroke="#00f" stroke-width="4.17" fill="none"/><path d="M250,765.5H1800" stroke="#008000" stroke-width="4.17" fill="none"/><path d="M250,572.2H1800M250,687.9H1800" stroke="#ffa500" stroke-width="2.08" fill="none"/><polygon points="1047.5,602.8 1052.2,617.2 1067.3,617.2 1055.1,626.1 1059.7,640.5 1047.5,631.6 1035.3,640.5 1039.9,626.1 1027.7,617.2 1042.8,617.2" fill="#f00" stroke="#f00" stroke-width="1.39" stroke-linejoin="bevel"/><polygon points="1118.3,559.8 1123.0,574.2 1138.1,574.2 1125.9,583.1 1130.5,597.5 1118.3,588.6 1106.1,597.5 1110.7,583.1 1098.5,574.2 1113.6,574.2" fill="#f00" stroke="#f00" stroke-width="1.39" stroke-linejoin="bevel"/><g fill="#90ee90"><circle cx="1048.4" cy="778.4" r="4.1"/><circle cx="1048.4" cy="786.3" r="4.1"/><circle cx="1048.4" cy="793.3" r="4.1"/><circle cx="1048.4" cy="796.0" r="4.1"/><circle cx="1048.4" cy="800.9" r="4.1"/><circle cx="1048.4" cy="809.0" r="4.1"/><circle cx="1048.4" cy="816.1" r="4.1"/><circle cx="1048.4" cy="825.3" r="4.1"/><circle cx="1048.4" cy="834.0" r="4.1"/><circle cx="1048.4" cy="843.7" r="4.1"/><circle cx="1049.4" cy="854.0" r="4.1"/><circle cx="1049.7" cy="863.8" r="4.1"/><circle cx="1119.5" cy="778.4" r="4.1"/><circle cx="1119.5" cy="787.4" r="4.1"/><circle cx="1119.5" cy="797.3" r="4.1"/><circle cx="1119.5" cy="808.5" r="4.1"/><circle cx="1119.5" cy="820.4" r="4.1"/><circle cx="1120.3" cy="830.4" r="4.1"/><circle cx="1120.5" cy="840.1" r="4.1"/><circle cx="1120.7" cy="850.2" r="4.1"/><circle cx="1118.7" cy="578.7" r="4.1"/><circle cx="1118.7" cy="585.3" r="4.1"/><circle cx="1118.7" cy="599.3" r="4.1"/><circle cx="1118.7" cy="612.7" r="4.1"/></g><g fill="#ff0" stroke="#ff0" stroke-width="2.08"><g fill-opacity="0.36" stroke-opacity="0.36"><circle cx="787.2" cy="746.8" r="6.6"/></g><g fill-opacity="0.20" stroke-opacity="0.20"><circle cx="787.6" cy="747.5" r="6.6"/><circle cx="787.7" cy="757.4" r="6.6"/><circle cx="787.7" cy="765.7" r="6.6"/></g><g fill-opacity="0.36" stroke-opacity="0.36"><circle cx="836.0" cy="727.8" r="6.6"/></g><g fill-opacity="0.20" stroke-opacity="0.20"><circle cx="836.4" cy="728.5" r="6.6"/><circle cx="836.4" cy="733.0" r="6.6"/><circle cx="836.4" cy="737.5" r="6.6"/><circle cx="836.4" cy="745.9" r="6.6"/><circle cx="836.4" cy="751.5" r="6.6"/><circle cx="836.4" cy="762.2" r="6.6"/><circle cx="836.4" cy="764.0" r="6.6"/></g><g fill-opacity="0.36" stroke-opacity="0.36"><circle cx="882.0" cy="708.2" r="6.6"/></g><g fill-opacity="0.20" stroke-opacity="0.20"><circle cx="882.4" cy="709.0" r="6.6"/><circle cx="882.4" cy="713.5" r="6.6"/><circle cx="882.4" cy="718.0" r="6.6"/><circle cx="882.4" cy="723.8" r="6.6"/><circle cx="882.4" cy="732.0" r="6.6"/><circle cx="882.4" cy="742.2" r="6.6"/><circle cx="882.4" cy="751.9" r="6.6"/><circle cx="882.4" cy="763.3" r="6.6"/></g><g fill-opacity="0.36" stroke-opacity="0.36"><circle cx="926.7" cy="686.8" r="6.6"/></g><g fill-opacity="0.20" stroke-opacity="0.20"><circle cx="927.1" cy="687.5" r="6.6"/><circle cx="927.2" cy="692.0" r="6.6"/><circle cx="927.2" cy="696.5" r="6.6"/><circle cx="927.2" cy="707.3" r="6.6"/><circle cx="927.2" cy="714.7" r="6.6"/><circle cx="927.2" cy="721.5" r="6.6"/><circle cx="927.2" cy="730.1" r="6.6"/><circle cx="927.2" cy="741.7" r="6.6"/><circle cx="927.2" cy="744.3" r="6.6"/><circle cx="927.2" cy="753.9" r="6.6"/><circle cx="927.2" cy="765.2" r="6.6"/></g><g fill-opacity="0.36" stroke-opacity="0.36"><circle cx="969.2" cy="666.2" r="6.6"/></g><g fill-opacity="0.20" stroke-opacity="0.20"><circle cx="969.6" cy="667.0" r="6.6"/><circle cx="969.7" cy="671.5" r="6.6"/><circle cx="969.7" cy="676.0" r="6.6"/><circle cx="969.7" cy="677.9" r="6.6"/><circle cx="969.7" cy="685.7" r="6.6"/><circle cx="969.7" cy="695.6" r="6.6"/><circle cx="969.7" cy="701.2" r="6.6"/><circle cx="969.7" cy="707.9" r="6.6"/><circle cx="969.7" cy="716.6" r="6.6"/><circle cx="969.7" cy="723.7" r="6.6"/><circle cx="969.7" cy="731.1" r="6.6"/><circle cx="969.7" cy="740.4" r="6.6"/><circle cx="969.7" cy="751.1" r="6.6"/><circle cx="969.7" cy="758.9" r="6.6"/></g><g fill-opacity="0.36" stroke-opacity="0.36"><circle cx="1009.2" cy="643.8" r="6.6"/></g><g fill-opacity="0.20" stroke-opacity="0.20"><circle cx="1009.6" cy="644.5" r="6.6"/><circle cx="1009.7" cy="649.0" r="6.6"/><circle cx="1009.7" cy="653.5" r="6.6"/><circle cx="1009.7" cy="662.6" r="6.6"/><circle cx="1009.7" cy="671.8" r="6.6"/><circle cx="1009.7" cy="677.3" r="6.6"/><circle cx="1009.7" cy="686.4" r="6.6"/><circle cx="1009.7" cy="695.8" r="6.6"/><circle cx="1009.7" cy="697.6" r="6.6"/><circle cx="1009.7" cy="707.8" r="6.6"/><circle cx="1009.7" cy="715.8" r="6.6"/><circle cx="1009.7" cy="724.3" r="6.6"/><circle cx="1009.7" cy="734.2" r="6.6"/><circle cx="1009.7" cy="741.7" r="6.6"/><circle cx="1009.7" cy="750.9" r="6.6"/><circle cx="1009.8" cy="760.9" r="6.6"/></g><g fill-opacity="0.36" stroke-opacity="0.36"><circle cx="1047.2" cy="624.8" r="6.6"/></g><g fill-opacity="0.20" stroke-opacity="0.20"><circle cx="1047.6" cy="625.5" r="6.6"/><circle cx="1047.7" cy="630.0" r="6.6"/><circle cx="1047.7" cy="634.5" r="6.6"/><circle cx="1047.7" cy="641.6" r="6.6"/><circle cx="1047.7" cy="650.7" r="6.6"/><circle cx="1047.7" cy="656.1" r="6.6"/><circle cx="1047.7" cy="663.9" r="6.6"/><circle cx="1047.7" cy="669.7" r="6.6"/><circle cx="1047.7" cy="681.3" r="6.6"/><circle cx="1047.7" cy="689.3" r="6.6"/><circle cx="1047.7" cy="697.7" r="6.6"/><circle cx="1047.7" cy="704.9" r="6.6"/><circle cx="1047.7" cy="716.2" r="6.6"/><circle cx="1047.7" cy="721.3" r="6.6"/><circle cx="1047.7" cy="728.1" r="6.6"/><circle cx="1047.7" cy="733.3" r="6.6"/><circle cx="1047.8" cy="741.3" r="6.6"/><circle cx="1047.8" cy="750.2" r="6.6"/><circle cx="1047.8" cy="761.3" r="6.6"/></g><g fill-opacity="0.36" stroke-opacity="0.36"><circle cx="1083.4" cy="601.8" r="6.6"/></g><g fill-opacity="0.20" stroke-opacity="0.20"><circle cx="1083.9" cy="602.5" r="6.6"/><circle cx="1083.9" cy="607.0" r="6.6"/><circle cx="1083.9" cy="611.5" r="6.6"/><circle cx="1083.9" cy="620.6" r="6.6"/><circle cx="1083.9" cy="629.2" r="6.6"/><circle cx="1083.9" cy="635.7" r="6.6"/><circle cx="1083.9" cy="647.5" r="6.6"/><circle cx="1083.9" cy="649.8" r="6.6"/><circle cx="1083.9" cy="652.0" r="6.6"/><circle cx="1083.9" cy="662.0" r="6.6"/><circle cx="1083.9" cy="673.8" r="6.6"/><circle cx="1083.9" cy="681.1" r="6.6"/><circle cx="1083.9" cy="683.1" r="6.6"/><circle cx="1083.9" cy="686.6" r="6.6"/><circle cx="1084.0" cy="695.5" r="6.6"/><circle cx="1084.0" cy="702.2" r="6.6"/><circle cx="1084.0" cy="710.9" r="6.6"/><circle cx="1084.0" cy="717.3" r="6.6"/><circle cx="1084.0" cy="719.5" r="6.6"/><circle cx="1084.0" cy="724.8" r="6.6"/><circle cx="1084.1" cy="731.9" r="6.6"/><circle cx="1084.1" cy="741.6" r="6.6"/><circle cx="1084.1" cy="749.7" r="6.6"/><circle cx="1084.2" cy="761.3" r="6.6"/></g><g fill-opacity="0.36" stroke-opacity="0.36"><circle cx="1118.0" cy="581.8" r="6.6"/></g><g fill-opacity="0.20" stroke-opacity="0.20"><circle cx="1118.4" cy="582.5" r="6.6"/><circle cx="1118.5" cy="587.0" r="6.6"/><circle cx="1118.5" cy="591.5" r="6.6"/><circle cx="1118.5" cy="599.3" r="6.6"/><circle cx="1118.5" cy="611.1" r="6.6"/><circle cx="1118.5" cy="620.4" r="6.6"/><circle cx="1118.5" cy="633.1" r="6.6"/><circle cx="1118.5" cy="646.6" r="6.6"/><circle cx="1118.5" cy="650.7" r="6.6"/><circle cx="1118.5" cy="657.7" r="6.6"/><circle cx="1118.5" cy="664.5" r="6.6"/><circle cx="1118.5" cy="672.0" r="6.6"/><circle cx="1118.5" cy="686.4" r="6.6"/><circle cx="1118.5" cy="694.6" r="6.6"/><circle cx="1118.6" cy="702.5" r="6.6"/><circle cx="1118.6" cy="709.6" r="6.6"/><circle cx="1118.6" cy="722.8" r="6.6"/><circle cx="1118.7" cy="731.1" r="6.6"/><circle cx="1118.7" cy="741.1" r="6.6"/><circle cx="1118.8" cy="753.7" r="6.6"/><circle cx="1118.9" cy="765.7" r="6.6"/><circle cx="1152.2" cy="574.0" r="6.6"/><circle cx="1152.2" cy="586.2" r="6.6"/><circle cx="1152.2" cy="602.8" r="6.6"/><circle cx="1152.2" cy="614.9" r="6.6"/><circle cx="1152.2" cy="625.2" r="6.6"/><circle cx="1152.2" cy="629.6" r="6.6"/><circle cx="1152.2" cy="647.5" r="6.6"/><circle cx="1152.2" cy="665.1" r="6.6"/><circle cx="1152.2" cy="680.1" r="6.6"/><circle cx="1152.2" cy="691.4" r="6.6"/><circle cx="1152.3" cy="699.2" r="6.6"/><circle cx="1152.3" cy="716.7" r="6.6"/><circle cx="1152.4" cy="726.9" r="6.6"/><circle cx="1152.4" cy="740.1" r="6.6"/><circle cx="1152.5" cy="756.1" r="6.6"/><circle cx="1183.9" cy="576.7" r="6.6"/><circle cx="1183.9" cy="587.3" r="6.6"/><circle cx="1183.9" cy="596.8" r="6.6"/><circle cx="1183.9" cy="607.5" r="6.6"/><circle cx="1183.9" cy="615.1" r="6.6"/><circle cx="1183.9" cy="621.4" r="6.6"/><circle cx="1183.9" cy="624.1" r="6.6"/><circle cx="1183.9" cy="636.7" r="6.6"/><circle cx="1184.0" cy="649.2" r="6.6"/><circle cx="1184.0" cy="651.1" r="6.6"/><circle cx="1184.0" cy="662.3" r="6.6"/><circle cx="1184.0" cy="673.9" r="6.6"/><circle cx="1184.0" cy="683.8" r="6.6"/><circle cx="1184.1" cy="695.8" r="6.6"/><circle cx="1184.1" cy="701.7" r="6.6"/><circle cx="1184.1" cy="711.4" r="6.6"/><circle cx="1184.2" cy="722.3" r="6.6"/><circle cx="1184.2" cy="724.3" r="6.6"/><circle cx="1184.2" cy="735.4" r="6.6"/><circle cx="1184.3" cy="744.8" r="6.6"/><circle cx="1184.4" cy="757.4" r="6.6"/><circle cx="1214.4" cy="574.2" r="6.6"/><circle cx="1214.4" cy="584.4" r="6.6"/><circle cx="1214.4" cy="590.9" r="6.6"/><circle cx="1214.4" cy="593.9" r="6.6"/><circle cx="1214.4" cy="600.3" r="6.6"/><circle cx="1214.4" cy="606.0" r="6.6"/><circle cx="1214.4" cy="612.3" r="6.6"/><circle cx="1214.4" cy="625.2" r="6.6"/><circle cx="1214.5" cy="631.1" r="6.6"/><circle cx="1214.5" cy="641.6" r="6.6"/><circle cx="1214.5" cy="652.9" r="6.6"/><circle cx="1214.5" cy="662.6" r="6.6"/><circle cx="1214.5" cy="668.3" r="6.6"/><circle cx="1214.5" cy="675.1" r="6.6"/><circle cx="1214.6" cy="685.2" r="6.6"/><circle cx="1214.6" cy="689.1" r="6.6"/><circle cx="1214.6" cy="695.4" r="6.6"/><circle cx="1214.7" cy="707.2" r="6.6"/><circle cx="1214.7" cy="717.5" r="6.6"/><circle cx="1214.7" cy="724.3" r="6.6"/><circle cx="1214.8" cy="735.6" r="6.6"/><circle cx="1214.8" cy="742.3" r="6.6"/><circle cx="1214.9" cy="752.0" r="6.6"/><circle cx="1215.0" cy="760.0" r="6.6"/><circle cx="1243.8" cy="576.8" r="6.6"/><circle cx="1243.8" cy="583.4" r="6.6"/><circle cx="1243.8" cy="595.0" r="6.6"/><circle cx="1243.8" cy="604.1" r="6.6"/><circle cx="1243.8" cy="606.6" r="6.6"/><circle cx="1243.8" cy="617.5" r="6.6"/><circle cx="1243.8" cy="624.5" r="6.6"/><circle cx="1243.8" cy="633.7" r="6.6"/><circle cx="1243.9" cy="641.6" r="6.6"/><circle cx="1243.9" cy="647.8" r="6.6"/><circle cx="1243.9" cy="653.6" r="6.6"/><circle cx="1243.9" cy="666.2" r="6.6"/><circle cx="1244.0" cy="675.6" r="6.6"/><circle cx="1244.0" cy="681.6" r="6.6"/><circle cx="1244.0" cy="691.6" r="6.6"/><circle cx="1244.0" cy="697.8" r="6.6"/><circle cx="1244.0" cy="700.0" r="6.6"/><circle cx="1244.1" cy="708.9" r="6.6"/><circle cx="1244.1" cy="718.2" r="6.6"/><circle cx="1244.2" cy="728.2" r="6.6"/><circle cx="1244.3" cy="740.9" r="6.6"/><circle cx="1244.3" cy="744.1" r="6.6"/><circle cx="1244.4" cy="755.6" r="6.6"/><circle cx="1244.4" cy="763.8" r="6.6"/><circle cx="1271.4" cy="572.8" r="6.6"/><circle cx="1271.4" cy="584.6" r="6.6"/><circle cx="1271.5" cy="588.5" r="6.6"/><circle cx="1271.5" cy="596.7" r="6.6"/><circle cx="1271.5" cy="606.5" r="6.6"/><circle cx="1271.5" cy="618.7" r="6.6"/><circle cx="1271.5" cy="622.0" r="6.6"/><circle cx="1271.5" cy="625.4" r="6.6"/><circle cx="1271.5" cy="636.6" r="6.6"/><circle cx="1271.6" cy="639.4" r="6.6"/><circle cx="1271.6" cy="651.9" r="6.6"/><circle cx="1271.6" cy="658.4" r="6.6"/><circle cx="1271.7" cy="671.5" r="6.6"/><circle cx="1271.7" cy="680.0" r="6.6"/><circle cx="1271.7" cy="690.0" r="6.6"/><circle cx="1271.8" cy="696.2" r="6.6"/><circle cx="1271.8" cy="707.7" r="6.6"/><circle cx="1271.9" cy="713.6" r="6.6"/><circle cx="1271.9" cy="716.8" r="6.6"/><circle cx="1272.0" cy="730.0" r="6.6"/><circle cx="1272.0" cy="740.0" r="6.6"/><circle cx="1272.1" cy="749.1" r="6.6"/><circle cx="1272.2" cy="758.4" r="6.6"/><circle cx="1272.2" cy="765.8" r="6.6"/></g><g fill-opacity="0.49" stroke-opacity="0.49"><circle cx="1291.7" cy="765.6" r="6.6"/><circle cx="1292.9" cy="764.4" r="6.6"/></g><g fill-opacity="0.59" stroke-opacity="0.59"><circle cx="1294.3" cy="763.1" r="6.6"/><circle cx="1295.9" cy="761.9" r="6.6"/><circle cx="1297.2" cy="761.3" r="6.6"/></g><g fill-opacity="0.36" stroke-opacity="0.36"><circle cx="1297.3" cy="763.2" r="6.6"/><circle cx="1297.3" cy="765.0" r="6.6"/></g><g fill-opacity="0.20" stroke-opacity="0.20"><circle cx="1297.3" cy="766.4" r="6.6"/><circle cx="1298.2" cy="572.9" r="6.6"/><circle cx="1298.2" cy="578.9" r="6.6"/><circle cx="1298.2" cy="589.4" r="6.6"/><circle cx="1298.2" cy="597.2" r="6.6"/><circle cx="1298.2" cy="608.9" r="6.6"/><circle cx="1298.3" cy="616.5" r="6.6"/><circle cx="1298.3" cy="626.8" r="6.6"/><circle cx="1298.3" cy="636.7" r="6.6"/><circle cx="1298.3" cy="647.0" r="6.6"/><circle cx="1298.3" cy="653.5" r="6.6"/><circle cx="1298.4" cy="657.1" r="6.6"/><circle cx="1298.4" cy="665.0" r="6.6"/><circle cx="1298.4" cy="675.6" r="6.6"/><circle cx="1298.4" cy="682.6" r="6.6"/><circle cx="1298.5" cy="694.4" r="6.6"/><circle cx="1298.5" cy="704.7" r="6.6"/><circle cx="1298.6" cy="710.4" r="6.6"/><circle cx="1298.6" cy="712.3" r="6.6"/><circle cx="1298.6" cy="721.0" r="6.6"/><circle cx="1298.7" cy="729.4" r="6.6"/><circle cx="1298.7" cy="734.7" r="6.6"/><circle cx="1298.7" cy="744.8" r="6.6"/><circle cx="1298.8" cy="754.8" r="6.6"/><circle cx="1298.8" cy="760.7" r="6.6"/></g><g fill-opacity="0.36" stroke-opacity="0.36"><circle cx="1310.9" cy="765.6" r="6.6"/><circle cx="1311.7" cy="763.6" r="6.6"/><circle cx="1312.5" cy="761.9" r="6.6"/><circle cx="1313.3" cy="760.3" r="6.6"/></g><g fill-opacity="0.49" stroke-opacity="0.49"><circle cx="1314.3" cy="758.6" r="6.6"/><circle cx="1315.5" cy="756.8" r="6.6"/><circle cx="1316.7" cy="755.2" r="6.6"/><circle cx="1318.0" cy="753.8" r="6.6"/><circle cx="1319.2" cy="752.6" r="6.6"/></g><g fill-opacity="0.59" stroke-opacity="0.59"><circle cx="1320.6" cy="751.3" r="6.6"/><circle cx="1322.2" cy="750.2" r="6.6"/><circle cx="1323.2" cy="749.7" r="6.6"/></g><g fill-opacity="0.36" stroke-opacity="0.36"><circle cx="1323.2" cy="751.8" r="6.6"/><circle cx="1323.2" cy="753.5" r="6.6"/><circle cx="1323.2" cy="755.3" r="6.6"/><circle cx="1323.2" cy="757.1" r="6.6"/><circle cx="1323.2" cy="758.9" r="6.6"/><circle cx="1323.2" cy="760.7" r="6.6"/><circle cx="1323.2" cy="762.5" r="6.6"/><circle cx="1323.2" cy="764.3" r="6.6"/></g><g fill-opacity="0.20" stroke-opacity="0.20"><circle cx="1323.2" cy="765.7" r="6.6"/><circle cx="1324.1" cy="582.2" r="6.6"/><circle cx="1324.1" cy="592.1" r="6.6"/><circle cx="1324.2" cy="601.7" r="6.6"/><circle cx="1324.2" cy="610.3" r="6.6"/><circle cx="1324.2" cy="613.9" r="6.6"/><circle cx="1324.2" cy="625.5" r="6.6"/><circle cx="1324.2" cy="635.0" r="6.6"/><circle cx="1324.2" cy="640.3" r="6.6"/><circle cx="1324.3" cy="649.4" r="6.6"/><circle cx="1324.3" cy="659.6" r="6.6"/><circle cx="1324.3" cy="668.9" r="6.6"/><circle cx="1324.3" cy="671.5" r="6.6"/><circle cx="1324.4" cy="678.6" r="6.6"/><circle cx="1324.4" cy="687.5" r="6.6"/><circle cx="1324.4" cy="689.5" r="6.6"/><circle cx="1324.4" cy="692.8" r="6.6"/><circle cx="1324.5" cy="699.4" r="6.6"/><circle cx="1324.5" cy="706.6" r="6.6"/><circle cx="1324.5" cy="711.9" r="6.6"/><circle cx="1324.6" cy="720.7" r="6.6"/><circle cx="1324.6" cy="726.2" r="6.6"/><circle cx="1324.6" cy="731.5" r="6.6"/><circle cx="1324.7" cy="738.9" r="6.6"/><circle cx="1324.7" cy="746.6" r="6.6"/><circle cx="1324.8" cy="755.9" r="6.6"/></g><g fill-opacity="0.36" stroke-opacity="0.36"><circle cx="1332.7" cy="765.4" r="6.6"/><circle cx="1333.3" cy="763.1" r="6.6"/><circle cx="1333.8" cy="760.9" r="6.6"/><circle cx="1334.5" cy="758.6" r="6.6"/><circle cx="1335.2" cy="756.4" r="6.6"/><circle cx="1335.9" cy="754.3" r="6.6"/><circle cx="1336.7" cy="752.2" r="6.6"/><circle cx="1337.5" cy="750.4" r="6.6"/><circle cx="1338.3" cy="748.7" r="6.6"/><circle cx="1339.1" cy="747.2" r="6.6"/></g><g fill-opacity="0.49" stroke-opacity="0.49"><circle cx="1340.1" cy="745.5" r="6.6"/><circle cx="1341.4" cy="743.8" r="6.6"/><circle cx="1342.6" cy="742.3" r="6.6"/><circle cx="1343.8" cy="740.9" r="6.6"/><circle cx="1345.0" cy="739.8" r="6.6"/></g><g fill-opacity="0.59" stroke-opacity="0.59"><circle cx="1346.4" cy="738.6" r="6.6"/><circle cx="1347.8" cy="737.6" r="6.6"/></g><g fill-opacity="0.36" stroke-opacity="0.36"><circle cx="1348.0" cy="738.8" r="6.6"/><circle cx="1348.0" cy="740.6" r="6.6"/><circle cx="1348.0" cy="742.4" r="6.6"/><circle cx="1348.0" cy="744.2" r="6.6"/><circle cx="1348.0" cy="746.0" r="6.6"/><circle cx="1348.0" cy="747.8" r="6.6"/><circle cx="1348.0" cy="749.6" r="6.6"/><circle cx="1348.0" cy="751.4" r="6.6"/><circle cx="1348.0" cy="753.2" r="6.6"/><circle cx="1348.0" cy="755.0" r="6.6"/><circle cx="1348.0" cy="756.8" r="6.6"/><circle cx="1348.0" cy="758.6" r="6.6"/><circle cx="1348.0" cy="760.4" r="6.6"/><circle cx="1348.0" cy="762.2" r="6.6"/><circle cx="1348.0" cy="764.0" r="6.6"/><circle cx="1348.0" cy="765.8" r="6.6"/></g><g fill-opacity="0.20" stroke-opacity="0.20"><circle cx="1349.0" cy="576.7" r="6.6"/><circle cx="1349.0" cy="580.6" r="6.6"/><circle cx="1349.0" cy="589.7" r="6.6"/><circle cx="1349.0" cy="593.5" r="6.6"/><circle cx="1349.1" cy="595.8" r="6.6"/><circle cx="1349.1" cy="600.1" r="6.6"/><circle cx="1349.1" cy="612.8" r="6.6"/><circle cx="1349.1" cy="617.0" r="6.6"/><circle cx="1349.1" cy="625.3" r="6.6"/><circle cx="1349.2" cy="636.8" r="6.6"/><circle cx="1349.2" cy="647.9" r="6.6"/><circle cx="1349.2" cy="660.3" r="6.6"/><circle cx="1349.3" cy="663.0" r="6.6"/><circle cx="1349.3" cy="667.0" r="6.6"/><circle cx="1349.3" cy="671.6" r="6.6"/><circle cx="1349.3" cy="674.6" r="6.6"/><circle cx="1349.3" cy="677.9" r="6.6"/><circle cx="1349.3" cy="682.4" r="6.6"/><circle cx="1349.4" cy="689.8" r="6.6"/><circle cx="1349.4" cy="700.5" r="6.6"/><circle cx="1349.5" cy="711.6" r="6.6"/><circle cx="1349.5" cy="719.9" r="6.6"/><circle cx="1349.6" cy="730.0" r="6.6"/><circle cx="1349.7" cy="743.3" r="6.6"/><circle cx="1349.7" cy="747.4" r="6.6"/><circle cx="1349.8" cy="754.4" r="6.6"/><circle cx="1349.8" cy="757.1" r="6.6"/><circle cx="1349.8" cy="760.8" r="6.6"/></g><g fill-opacity="0.36" stroke-opacity="0.36"><circle cx="1355.2" cy="765.6" r="6.6"/><circle cx="1355.4" cy="763.3" r="6.6"/><circle cx="1355.8" cy="761.0" r="6.6"/><circle cx="1356.1" cy="758.8" r="6.6"/><circle cx="1356.5" cy="756.6" r="6.6"/><circle cx="1356.9" cy="754.1" r="6.6"/><circle cx="1357.4" cy="751.9" r="6.6"/><circle cx="1357.9" cy="749.6" r="6.6"/><circle cx="1358.5" cy="747.4" r="6.6"/><circle cx="1359.1" cy="745.1" r="6.6"/><circle cx="1359.8" cy="742.9" r="6.6"/><circle cx="1360.6" cy="740.7" r="6.6"/><circle cx="1361.4" cy="738.6" r="6.6"/><circle cx="1362.2" cy="736.7" r="6.6"/><circle cx="1363.0" cy="735.0" r="6.6"/><circle cx="1363.8" cy="733.5" r="6.6"/></g><g fill-opacity="0.49" stroke-opacity="0.49"><circle cx="1364.8" cy="731.8" r="6.6"/><circle cx="1366.0" cy="730.0" r="6.6"/><circle cx="1367.2" cy="728.5" r="6.6"/><circle cx="1368.4" cy="727.3" r="6.6"/></g><g fill-opacity="0.59" stroke-opacity="0.59"><circle cx="1369.8" cy="726.0" r="6.6"/></g><g fill-opacity="0.67" stroke-opacity="0.67"><circle cx="1371.5" cy="724.7" r="6.6"/></g><g fill-opacity="0.36" stroke-opacity="0.36"><circle cx="1371.8" cy="725.8" r="6.6"/><circle cx="1371.8" cy="727.6" r="6.6"/><circle cx="1371.8" cy="729.4" r="6.6"/><circle cx="1371.8" cy="731.2" r="6.6"/><circle cx="1371.8" cy="733.0" r="6.6"/><circle cx="1371.8" cy="734.8" r="6.6"/><circle cx="1371.8" cy="736.6" r="6.6"/><circle cx="1371.8" cy="738.4" r="6.6"/><circle cx="1371.8" cy="740.2" r="6.6"/><circle cx="1371.8" cy="742.0" r="6.6"/><circle cx="1371.8" cy="743.8" r="6.6"/><circle cx="1371.8" cy="745.6" r="6.6"/><circle cx="1371.8" cy="747.4" r="6.6"/><circle cx="1371.8" cy="749.2" r="6.6"/><circle cx="1371.8" cy="751.0" r="6.6"/><circle cx="1371.8" cy="752.8" r="6.6"/><circle cx="1371.8" cy="754.6" r="6.6"/><circle cx="1371.8" cy="756.4" r="6.6"/><circle cx="1371.8" cy="758.2" r="6.6"/><circle cx="1371.8" cy="760.0" r="6.6"/><circle cx="1371.8" cy="761.8" r="6.6"/><circle cx="1371.8" cy="763.6" r="6.6"/><circle cx="1371.8" cy="765.4" r="6.6"/></g><g fill-opacity="0.20" stroke-opacity="0.20"><circle cx="1372.8" cy="577.4" r="6.6"/><circle cx="1372.8" cy="589.7" r="6.6"/><circle cx="1372.9" cy="603.0" r="6.6"/><circle cx="1372.9" cy="617.2" r="6.6"/><circle cx="1372.9" cy="627.1" r="6.6"/><circle cx="1373.0" cy="645.8" r="6.6"/><circle cx="1373.1" cy="665.6" r="6.6"/><circle cx="1373.1" cy="678.1" r="6.6"/><circle cx="1373.2" cy="696.1" r="6.6"/><circle cx="1373.4" cy="715.8" r="6.6"/><circle cx="1373.5" cy="731.3" r="6.6"/><circle cx="1373.5" cy="742.1" r="6.6"/><circle cx="1373.6" cy="758.1" r="6.6"/><circle cx="1377.6" cy="765.2" r="6.6"/></g><g fill-opacity="0.36" stroke-opacity="0.36"><circle cx="1377.8" cy="762.1" r="6.6"/><circle cx="1378.0" cy="759.6" r="6.6"/><circle cx="1378.2" cy="757.3" r="6.6"/><circle cx="1378.4" cy="755.0" r="6.6"/><circle cx="1378.7" cy="752.8" r="6.6"/><circle cx="1378.9" cy="750.6" r="6.6"/><circle cx="1379.2" cy="748.2" r="6.6"/><circle cx="1379.5" cy="746.1" r="6.6"/><circle cx="1379.9" cy="743.8" r="6.6"/><circle cx="1380.3" cy="741.5" r="6.6"/><circle cx="1380.8" cy="739.2" r="6.6"/><circle cx="1381.3" cy="736.8" r="6.6"/><circle cx="1381.8" cy="734.6" r="6.6"/><circle cx="1382.4" cy="732.4" r="6.6"/><circle cx="1383.0" cy="730.2" r="6.6"/><circle cx="1383.7" cy="728.0" r="6.6"/><circle cx="1384.5" cy="725.8" r="6.6"/><circle cx="1385.3" cy="723.8" r="6.6"/><circle cx="1386.1" cy="721.9" r="6.6"/><circle cx="1386.9" cy="720.3" r="6.6"/></g><g fill-opacity="0.49" stroke-opacity="0.49"><circle cx="1387.9" cy="718.5" r="6.6"/><circle cx="1389.1" cy="716.6" r="6.6"/><circle cx="1390.3" cy="715.0" r="6.6"/><circle cx="1391.6" cy="713.7" r="6.6"/><circle cx="1392.8" cy="712.5" r="6.6"/></g><g fill-opacity="0.59" stroke-opacity="0.59"><circle cx="1394.2" cy="711.3" r="6.6"/><circle cx="1395.3" cy="710.7" r="6.6"/></g><g fill-opacity="0.36" stroke-opacity="0.36"><circle cx="1395.3" cy="712.8" r="6.6"/><circle cx="1395.3" cy="714.5" r="6.6"/><circle cx="1395.3" cy="716.3" r="6.6"/><circle cx="1395.3" cy="718.1" r="6.6"/><circle cx="1395.3" cy="719.9" r="6.6"/><circle cx="1395.3" cy="721.7" r="6.6"/><circle cx="1395.3" cy="723.5" r="6.6"/><circle cx="1395.3" cy="725.3" r="6.6"/><circle cx="1395.3" cy="727.1" r="6.6"/><circle cx="1395.3" cy="728.9" r="6.6"/><circle cx="1395.3" cy="730.7" r="6.6"/><circle cx="1395.3" cy="732.5" r="6.6"/><circle cx="1395.3" cy="734.3" r="6.6"/><circle cx="1395.3" cy="736.1" r="6.6"/><circle cx="1395.3" cy="737.9" r="6.6"/><circle cx="1395.3" cy="739.7" r="6.6"/><circle cx="1395.3" cy="741.5" r="6.6"/><circle cx="1395.3" cy="743.3" r="6.6"/><circle cx="1395.3" cy="745.1" r="6.6"/><circle cx="1395.3" cy="746.9" r="6.6"/><circle cx="1395.3" cy="748.7" r="6.6"/><circle cx="1395.3" cy="750.5" r="6.6"/><circle cx="1395.3" cy="752.3" r="6.6"/><circle cx="1395.3" cy="754.1" r="6.6"/><circle cx="1395.3" cy="755.9" r="6.6"/><circle cx="1395.3" cy="757.7" r="6.6"/><circle cx="1395.3" cy="759.5" r="6.6"/><circle cx="1395.3" cy="761.3" r="6.6"/><circle cx="1395.3" cy="763.1" r="6.6"/><circle cx="1395.3" cy="764.9" r="6.6"/></g><g fill-opacity="0.20" stroke-opacity="0.20"><circle cx="1395.3" cy="766.3" r="6.6"/><circle cx="1396.3" cy="577.6" r="6.6"/><circle cx="1396.4" cy="599.5" r="6.6"/><circle cx="1396.4" cy="614.0" r="6.6"/><circle cx="1396.4" cy="617.2" r="6.6"/><circle cx="1396.5" cy="639.8" r="6.6"/><circle cx="1396.6" cy="662.2" r="6.6"/><circle cx="1396.7" cy="672.9" r="6.6"/><circle cx="1396.8" cy="695.3" r="6.6"/><circle cx="1396.8" cy="707.9" r="6.6"/><circle cx="1397.0" cy="731.0" r="6.6"/><circle cx="1397.1" cy="746.4" r="6.6"/><circle cx="1397.2" cy="763.8" r="6.6"/><circle cx="1399.8" cy="766.4" r="6.6"/><circle cx="1399.9" cy="764.1" r="6.6"/><circle cx="1400.0" cy="761.9" r="6.6"/><circle cx="1400.1" cy="759.7" r="6.6"/><circle cx="1400.2" cy="757.7" r="6.6"/><circle cx="1400.3" cy="755.2" r="6.6"/><circle cx="1400.4" cy="753.2" r="6.6"/></g><g fill-opacity="0.36" stroke-opacity="0.36"><circle cx="1400.6" cy="750.5" r="6.6"/><circle cx="1400.8" cy="747.9" r="6.6"/><circle cx="1400.9" cy="745.6" r="6.6"/><circle cx="1401.1" cy="743.4" r="6.6"/><circle cx="1401.3" cy="740.9" r="6.6"/><circle cx="1401.6" cy="738.8" r="6.6"/><circle cx="1401.8" cy="736.5" r="6.6"/><circle cx="1402.1" cy="734.0" r="6.6"/><circle cx="1402.5" cy="731.8" r="6.6"/><circle cx="1402.8" cy="729.6" r="6.6"/><circle cx="1403.2" cy="727.4" r="6.6"/><circle cx="1403.6" cy="725.1" r="6.6"/><circle cx="1404.1" cy="722.9" r="6.6"/><circle cx="1404.6" cy="720.5" r="6.6"/><circle cx="1405.1" cy="718.5" r="6.6"/><circle cx="1405.7" cy="716.2" r="6.6"/><circle cx="1406.4" cy="714.1" r="6.6"/><circle cx="1407.1" cy="711.7" r="6.6"/><circle cx="1407.9" cy="709.6" r="6.6"/><circle cx="1408.7" cy="707.6" r="6.6"/><circle cx="1409.5" cy="705.9" r="6.6"/><circle cx="1410.3" cy="704.3" r="6.6"/></g><g fill-opacity="0.49" stroke-opacity="0.49"><circle cx="1411.3" cy="702.6" r="6.6"/><circle cx="1412.5" cy="700.8" r="6.6"/><circle cx="1413.7" cy="699.3" r="6.6"/><circle cx="1414.9" cy="698.0" r="6.6"/></g><g fill-opacity="0.59" stroke-opacity="0.59"><circle cx="1416.3" cy="696.7" r="6.6"/></g><g fill-opacity="0.67" stroke-opacity="0.67"><circle cx="1417.8" cy="695.8" r="6.6"/></g><g fill-opacity="0.36" stroke-opacity="0.36"><circle cx="1417.9" cy="697.8" r="6.6"/><circle cx="1417.9" cy="699.5" r="6.6"/><circle cx="1417.9" cy="701.3" r="6.6"/><circle cx="1417.9" cy="703.1" r="6.6"/><circle cx="1417.9" cy="704.9" r="6.6"/><circle cx="1417.9" cy="706.7" r="6.6"/><circle cx="1417.9" cy="708.5" r="6.6"/><circle cx="1417.9" cy="710.3" r="6.6"/><circle cx="1417.9" cy="712.1" r="6.6"/><circle cx="1417.9" cy="713.9" r="6.6"/><circle cx="1417.9" cy="715.7" r="6.6"/><circle cx="1417.9" cy="717.5" r="6.6"/><circle cx="1417.9" cy="719.3" r="6.6"/><circle cx="1417.9" cy="721.1" r="6.6"/><circle cx="1417.9" cy="722.9" r="6.6"/><circle cx="1417.9" cy="724.7" r="6.6"/><circle cx="1417.9" cy="726.5" r="6.6"/><circle cx="1417.9" cy="728.3" r="6.6"/><circle cx="1417.9" cy="730.1" r="6.6"/><circle cx="1417.9" cy="731.9" r="6.6"/><circle cx="1417.9" cy="733.7" r="6.6"/><circle cx="1417.9" cy="735.5" r="6.6"/><circle cx="1417.9" cy="737.3" r="6.6"/><circle cx="1417.9" cy="739.1" r="6.6"/><circle cx="1417.9" cy="740.9" r="6.6"/><circle cx="1417.9" cy="742.7" r="6.6"/><circle cx="1417.9" cy="744.5" r="6.6"/><circle cx="1417.9" cy="746.3" r="6.6"/><circle cx="1417.9" cy="748.1" r="6.6"/><circle cx="1417.9" cy="749.9" r="6.6"/><circle cx="1417.9" cy="751.7" r="6.6"/><circle cx="1417.9" cy="753.5" r="6.6"/><circle cx="1417.9" cy="755.3" r="6.6"/><circle cx="1417.9" cy="757.1" r="6.6"/><circle cx="1417.9" cy="758.9" r="6.6"/><circle cx="1417.9" cy="760.7" r="6.6"/><circle cx="1417.9" cy="762.5" r="6.6"/><circle cx="1417.9" cy="764.3" r="6.6"/></g><g fill-opacity="0.20" stroke-opacity="0.20"><circle cx="1417.9" cy="765.7" r="6.6"/><circle cx="1419.0" cy="589.4" r="6.6"/><circle cx="1419.0" cy="607.3" r="6.6"/><circle cx="1419.0" cy="612.0" r="6.6"/><circle cx="1419.1" cy="630.4" r="6.6"/><circle cx="1419.1" cy="644.8" r="6.6"/><circle cx="1419.2" cy="652.1" r="6.6"/><circle cx="1419.2" cy="672.9" r="6.6"/><circle cx="1419.3" cy="685.3" r="6.6"/><circle cx="1419.3" cy="698.1" r="6.6"/><circle cx="1419.4" cy="711.5" r="6.6"/><circle cx="1419.4" cy="717.9" r="6.6"/><circle cx="1419.6" cy="739.2" r="6.6"/><circle cx="1419.7" cy="761.5" r="6.6"/><circle cx="1421.5" cy="766.1" r="6.6"/><circle cx="1421.6" cy="763.6" r="6.6"/><circle cx="1421.6" cy="761.4" r="6.6"/><circle cx="1421.7" cy="758.9" r="6.6"/><circle cx="1421.7" cy="756.8" r="6.6"/><circle cx="1421.8" cy="754.5" r="6.6"/><circle cx="1421.9" cy="751.7" r="6.6"/><circle cx="1422.0" cy="749.1" r="6.6"/><circle cx="1422.1" cy="746.8" r="6.6"/><circle cx="1422.1" cy="744.8" r="6.6"/><circle cx="1422.2" cy="742.5" r="6.6"/><circle cx="1422.3" cy="740.4" r="6.6"/></g><g fill-opacity="0.36" stroke-opacity="0.36"><circle cx="1422.5" cy="737.5" r="6.6"/><circle cx="1422.6" cy="735.3" r="6.6"/><circle cx="1422.8" cy="732.9" r="6.6"/><circle cx="1422.9" cy="730.6" r="6.6"/><circle cx="1423.1" cy="728.2" r="6.6"/><circle cx="1423.4" cy="725.8" r="6.6"/><circle cx="1423.6" cy="723.7" r="6.6"/><circle cx="1423.8" cy="721.6" r="6.6"/><circle cx="1424.1" cy="719.3" r="6.6"/><circle cx="1424.5" cy="716.8" r="6.6"/><circle cx="1424.8" cy="714.5" r="6.6"/><circle cx="1425.3" cy="712.1" r="6.6"/><circle cx="1425.7" cy="709.8" r="6.6"/><circle cx="1426.1" cy="707.7" r="6.6"/><circle cx="1426.6" cy="705.5" r="6.6"/><circle cx="1427.2" cy="703.0" r="6.6"/><circle cx="1427.9" cy="700.6" r="6.6"/><circle cx="1428.6" cy="698.3" r="6.6"/><circle cx="1429.3" cy="696.0" r="6.6"/><circle cx="1430.2" cy="693.8" r="6.6"/><circle cx="1431.0" cy="692.0" r="6.6"/><circle cx="1431.8" cy="690.3" r="6.6"/></g><g fill-opacity="0.49" stroke-opacity="0.49"><circle cx="1432.8" cy="688.5" r="6.6"/><circle cx="1434.0" cy="686.6" r="6.6"/><circle cx="1435.2" cy="685.0" r="6.6"/><circle cx="1436.4" cy="683.7" r="6.6"/></g><g fill-opacity="0.59" stroke-opacity="0.59"><circle cx="1437.8" cy="682.4" r="6.6"/><circle cx="1438.9" cy="681.7" r="6.6"/></g><g fill-opacity="0.36" stroke-opacity="0.36"><circle cx="1438.9" cy="683.8" r="6.6"/><circle cx="1438.9" cy="685.5" r="6.6"/><circle cx="1438.9" cy="687.3" r="6.6"/><circle cx="1438.9" cy="689.1" r="6.6"/><circle cx="1438.9" cy="690.9" r="6.6"/><circle cx="1438.9" cy="692.7" r="6.6"/><circle cx="1438.9" cy="694.5" r="6.6"/><circle cx="1438.9" cy="696.3" r="6.6"/><circle cx="1438.9" cy="698.1" r="6.6"/><circle cx="1438.9" cy="699.9" r="6.6"/><circle cx="1438.9" cy="701.7" r="6.6"/><circle cx="1438.9" cy="703.5" r="6.6"/><circle cx="1438.9" cy="705.3" r="6.6"/><circle cx="1438.9" cy="707.1" r="6.6"/><circle cx="1438.9" cy="708.9" r="6.6"/><circle cx="1438.9" cy="710.7" r="6.6"/><circle cx="1438.9" cy="712.5" r="6.6"/><circle cx="1438.9" cy="714.3" r="6.6"/><circle cx="1438.9" cy="716.1" r="6.6"/><circle cx="1438.9" cy="717.9" r="6.6"/><circle cx="1438.9" cy="719.7" r="6.6"/><circle cx="1438.9" cy="721.5" r="6.6"/><circle cx="1438.9" cy="723.3" r="6.6"/><circle cx="1438.9" cy="725.1" r="6.6"/><circle cx="1438.9" cy="726.9" r="6.6"/><circle cx="1438.9" cy="728.7" r="6.6"/><circle cx="1438.9" cy="730.5" r="6.6"/><circle cx="1438.9" cy="732.3" r="6.6"/><circle cx="1438.9" cy="734.1" r="6.6"/><circle cx="1438.9" cy="735.9" r="6.6"/><circle cx="1438.9" cy="737.7" r="6.6"/><circle cx="1438.9" cy="739.5" r="6.6"/><circle cx="1438.9" cy="741.3" r="6.6"/><circle cx="1438.9" cy="743.1" r="6.6"/><circle cx="1438.9" cy="744.9" r="6.6"/><circle cx="1438.9" cy="746.7" r="6.6"/><circle cx="1438.9" cy="748.5" r="6.6"/><circle cx="1438.9" cy="750.3" r="6.6"/><circle cx="1438.9" cy="752.1" r="6.6"/><circle cx="1438.9" cy="753.9" r="6.6"/><circle cx="1438.9" cy="755.7" r="6.6"/><circle cx="1438.9" cy="757.5" r="6.6"/><circle cx="1438.9" cy="759.3" r="6.6"/><circle cx="1438.9" cy="761.1" r="6.6"/><circle cx="1438.9" cy="762.9" r="6.6"/><circle cx="1438.9" cy="764.7" r="6.6"/></g><g fill-opacity="0.20" stroke-opacity="0.20"><circle cx="1438.9" cy="766.1" r="6.6"/><circle cx="1440.0" cy="584.6" r="6.6"/><circle cx="1440.1" cy="597.4" r="6.6"/><circle cx="1440.1" cy="614.0" r="6.6"/><circle cx="1440.1" cy="627.0" r="6.6"/><circle cx="1440.2" cy="633.6" r="6.6"/><circle cx="1440.2" cy="649.5" r="6.6"/><circle cx="1440.3" cy="670.6" r="6.6"/><circle cx="1440.4" cy="696.8" r="6.6"/><circle cx="1440.5" cy="709.9" r="6.6"/><circle cx="1440.6" cy="729.4" r="6.6"/><circle cx="1440.6" cy="732.8" r="6.6"/><circle cx="1440.7" cy="746.4" r="6.6"/><circle cx="1440.8" cy="757.6" r="6.6"/><circle cx="1442.2" cy="765.2" r="6.6"/><circle cx="1442.2" cy="762.7" r="6.6"/><circle cx="1442.3" cy="760.2" r="6.6"/><circle cx="1442.3" cy="757.4" r="6.6"/><circle cx="1442.4" cy="754.7" r="6.6"/><circle cx="1442.4" cy="751.7" r="6.6"/><circle cx="1442.5" cy="749.0" r="6.6"/><circle cx="1442.5" cy="746.7" r="6.6"/><circle cx="1442.6" cy="744.1" r="6.6"/><circle cx="1442.6" cy="741.5" r="6.6"/><circle cx="1442.7" cy="739.2" r="6.6"/><circle cx="1442.8" cy="736.4" r="6.6"/><circle cx="1442.8" cy="733.7" r="6.6"/><circle cx="1442.9" cy="731.2" r="6.6"/><circle cx="1443.0" cy="728.9" r="6.6"/><circle cx="1443.1" cy="726.5" r="6.6"/></g><g fill-opacity="0.36" stroke-opacity="0.36"><circle cx="1443.2" cy="723.5" r="6.6"/><circle cx="1443.4" cy="721.3" r="6.6"/><circle cx="1443.5" cy="718.9" r="6.6"/><circle cx="1443.7" cy="716.4" r="6.6"/><circle cx="1443.8" cy="714.2" r="6.6"/><circle cx="1444.0" cy="712.0" r="6.6"/><circle cx="1444.2" cy="709.8" r="6.6"/><circle cx="1444.5" cy="707.4" r="6.6"/><circle cx="1444.8" cy="705.2" r="6.6"/><circle cx="1445.1" cy="702.8" r="6.6"/><circle cx="1445.4" cy="700.7" r="6.6"/><circle cx="1445.7" cy="698.5" r="6.6"/><circle cx="1446.1" cy="696.3" r="6.6"/><circle cx="1446.5" cy="694.0" r="6.6"/><circle cx="1447.0" cy="691.9" r="6.6"/><circle cx="1447.5" cy="689.6" r="6.6"/><circle cx="1448.0" cy="687.4" r="6.6"/><circle cx="1448.6" cy="685.2" r="6.6"/><circle cx="1449.2" cy="683.1" r="6.6"/><circle cx="1449.9" cy="680.8" r="6.6"/><circle cx="1450.6" cy="678.7" r="6.6"/><circle cx="1451.4" cy="676.7" r="6.6"/><circle cx="1452.2" cy="674.9" r="6.6"/><circle cx="1453.0" cy="673.3" r="6.6"/></g><g fill-opacity="0.49" stroke-opacity="0.49"><circle cx="1454.0" cy="671.6" r="6.6"/><circle cx="1455.2" cy="669.8" r="6.6"/><circle cx="1456.4" cy="668.3" r="6.6"/><circle cx="1457.7" cy="667.1" r="6.6"/></g><g fill-opacity="0.67" stroke-opacity="0.67"><circle cx="1459.1" cy="665.8" r="6.6"/></g><g fill-opacity="0.36" stroke-opacity="0.36"><circle cx="1459.5" cy="666.8" r="6.6"/><circle cx="1459.5" cy="668.6" r="6.6"/><circle cx="1459.5" cy="670.4" r="6.6"/><circle cx="1459.5" cy="672.2" r="6.6"/><circle cx="1459.5" cy="674.0" r="6.6"/><circle cx="1459.5" cy="675.8" r="6.6"/><circle cx="1459.5" cy="677.6" r="6.6"/><circle cx="1459.5" cy="679.4" r="6.6"/><circle cx="1459.5" cy="681.2" r="6.6"/><circle cx="1459.5" cy="683.0" r="6.6"/><circle cx="1459.5" cy="684.8" r="6.6"/><circle cx="1459.5" cy="686.6" r="6.6"/><circle cx="1459.5" cy="688.4" r="6.6"/><circle cx="1459.5" cy="690.2" r="6.6"/><circle cx="1459.5" cy="692.0" r="6.6"/><circle cx="1459.5" cy="693.8" r="6.6"/><circle cx="1459.5" cy="695.6" r="6.6"/><circle cx="1459.5" cy="697.4" r="6.6"/><circle cx="1459.5" cy="699.2" r="6.6"/><circle cx="1459.5" cy="701.0" r="6.6"/><circle cx="1459.5" cy="702.8" r="6.6"/><circle cx="1459.5" cy="704.6" r="6.6"/><circle cx="1459.5" cy="706.4" r="6.6"/><circle cx="1459.5" cy="708.2" r="6.6"/><circle cx="1459.5" cy="710.0" r="6.6"/><circle cx="1459.5" cy="711.8" r="6.6"/><circle cx="1459.5" cy="713.6" r="6.6"/><circle cx="1459.5" cy="715.4" r="6.6"/><circle cx="1459.5" cy="717.2" r="6.6"/><circle cx="1459.5" cy="719.0" r="6.6"/><circle cx="1459.5" cy="720.8" r="6.6"/><circle cx="1459.5" cy="722.6" r="6.6"/><circle cx="1459.5" cy="724.4" r="6.6"/><circle cx="1459.5" cy="726.2" r="6.6"/><circle cx="1459.5" cy="728.0" r="6.6"/><circle cx="1459.5" cy="729.8" r="6.6"/><circle cx="1459.5" cy="731.6" r="6.6"/><circle cx="1459.5" cy="733.4" r="6.6"/><circle cx="1459.5" cy="735.2" r="6.6"/><circle cx="1459.5" cy="737.0" r="6.6"/><circle cx="1459.5" cy="738.8" r="6.6"/><circle cx="1459.5" cy="740.6" r="6.6"/><circle cx="1459.5" cy="742.4" r="6.6"/><circle cx="1459.5" cy="744.2" r="6.6"/><circle cx="1459.5" cy="746.0" r="6.6"/><circle cx="1459.5" cy="747.8" r="6.6"/><circle cx="1459.5" cy="749.6" r="6.6"/><circle cx="1459.5" cy="751.4" r="6.6"/><circle cx="1459.5" cy="753.2" r="6.6"/><circle cx="1459.5" cy="755.0" r="6.6"/><circle cx="1459.5" cy="756.8" r="6.6"/><circle cx="1459.5" cy="758.6" r="6.6"/><circle cx="1459.5" cy="760.0" r="6.6"/></g><g fill-opacity="0.20" stroke-opacity="0.20"><circle cx="1460.7" cy="579.4" r="6.6"/><circle cx="1460.8" cy="594.7" r="6.6"/><circle cx="1460.9" cy="614.6" r="6.6"/><circle cx="1460.9" cy="629.5" r="6.6"/><circle cx="1461.0" cy="633.9" r="6.6"/><circle cx="1461.1" cy="660.9" r="6.6"/><circle cx="1461.2" cy="683.5" r="6.6"/><circle cx="1461.3" cy="697.5" r="6.6"/><circle cx="1461.3" cy="705.0" r="6.6"/><circle cx="1461.5" cy="729.6" r="6.6"/><circle cx="1461.5" cy="732.5" r="6.6"/><circle cx="1461.6" cy="746.7" r="6.6"/><circle cx="1461.7" cy="760.7" r="6.6"/><circle cx="1463.0" cy="764.9" r="6.6"/><circle cx="1463.0" cy="762.0" r="6.6"/><circle cx="1463.0" cy="759.3" r="6.6"/><circle cx="1463.1" cy="756.7" r="6.6"/><circle cx="1463.1" cy="754.1" r="6.6"/><circle cx="1463.1" cy="751.3" r="6.6"/><circle cx="1463.1" cy="748.5" r="6.6"/><circle cx="1463.2" cy="745.7" r="6.6"/><circle cx="1463.2" cy="743.0" r="6.6"/><circle cx="1463.3" cy="740.3" r="6.6"/><circle cx="1463.3" cy="737.6" r="6.6"/><circle cx="1463.3" cy="734.9" r="6.6"/><circle cx="1463.4" cy="732.1" r="6.6"/><circle cx="1463.4" cy="729.4" r="6.6"/><circle cx="1463.5" cy="726.8" r="6.6"/><circle cx="1463.5" cy="724.1" r="6.6"/><circle cx="1463.6" cy="721.4" r="6.6"/><circle cx="1463.7" cy="718.9" r="6.6"/><circle cx="1463.7" cy="716.1" r="6.6"/><circle cx="1463.8" cy="713.7" r="6.6"/><circle cx="1463.9" cy="711.2" r="6.6"/></g><g fill-opacity="0.36" stroke-opacity="0.36"><circle cx="1464.0" cy="708.0" r="6.6"/><circle cx="1464.1" cy="705.6" r="6.6"/><circle cx="1464.3" cy="703.2" r="6.6"/><circle cx="1464.4" cy="700.9" r="6.6"/><circle cx="1464.6" cy="698.5" r="6.6"/><circle cx="1464.8" cy="696.1" r="6.6"/><circle cx="1465.0" cy="693.7" r="6.6"/><circle cx="1465.2" cy="691.2" r="6.6"/><circle cx="1465.5" cy="688.9" r="6.6"/><circle cx="1465.8" cy="686.8" r="6.6"/><circle cx="1466.1" cy="684.6" r="6.6"/><circle cx="1466.4" cy="682.5" r="6.6"/><circle cx="1466.8" cy="680.2" r="6.6"/><circle cx="1467.2" cy="678.0" r="6.6"/><circle cx="1467.6" cy="675.9" r="6.6"/><circle cx="1468.0" cy="673.6" r="6.6"/><circle cx="1468.6" cy="671.2" r="6.6"/><circle cx="1469.2" cy="668.7" r="6.6"/><circle cx="1469.8" cy="666.5" r="6.6"/><circle cx="1470.5" cy="664.2" r="6.6"/><circle cx="1471.2" cy="662.0" r="6.6"/><circle cx="1472.0" cy="659.9" r="6.6"/><circle cx="1472.8" cy="658.1" r="6.6"/><circle cx="1473.6" cy="656.4" r="6.6"/></g><g fill-opacity="0.49" stroke-opacity="0.49"><circle cx="1474.6" cy="654.6" r="6.6"/><circle cx="1475.8" cy="652.8" r="6.6"/><circle cx="1477.0" cy="651.3" r="6.6"/><circle cx="1478.2" cy="650.0" r="6.6"/></g><g fill-opacity="0.67" stroke-opacity="0.67"><circle cx="1479.6" cy="648.7" r="6.6"/></g><g fill-opacity="0.36" stroke-opacity="0.36"><circle cx="1479.9" cy="649.8" r="6.6"/><circle cx="1479.9" cy="651.6" r="6.6"/><circle cx="1479.9" cy="653.4" r="6.6"/><circle cx="1479.9" cy="655.2" r="6.6"/><circle cx="1479.9" cy="657.0" r="6.6"/><circle cx="1479.9" cy="658.8" r="6.6"/><circle cx="1479.9" cy="660.6" r="6.6"/><circle cx="1479.9" cy="662.4" r="6.6"/><circle cx="1479.9" cy="664.2" r="6.6"/><circle cx="1479.9" cy="666.0" r="6.6"/><circle cx="1479.9" cy="667.8" r="6.6"/><circle cx="1479.9" cy="669.6" r="6.6"/><circle cx="1479.9" cy="671.4" r="6.6"/><circle cx="1479.9" cy="673.2" r="6.6"/><circle cx="1479.9" cy="675.0" r="6.6"/><circle cx="1479.9" cy="676.8" r="6.6"/><circle cx="1479.9" cy="678.6" r="6.6"/><circle cx="1479.9" cy="680.4" r="6.6"/><circle cx="1479.9" cy="682.2" r="6.6"/><circle cx="1479.9" cy="684.0" r="6.6"/><circle cx="1479.9" cy="685.8" r="6.6"/><circle cx="1479.9" cy="687.6" r="6.6"/><circle cx="1479.9" cy="689.4" r="6.6"/><circle cx="1479.9" cy="691.2" r="6.6"/><circle cx="1479.9" cy="693.0" r="6.6"/><circle cx="1479.9" cy="694.8" r="6.6"/><circle cx="1479.9" cy="696.6" r="6.6"/><circle cx="1479.9" cy="698.4" r="6.6"/><circle cx="1479.9" cy="700.2" r="6.6"/><circle cx="1479.9" cy="702.0" r="6.6"/><circle cx="1479.9" cy="703.8" r="6.6"/><circle cx="1479.9" cy="705.6" r="6.6"/><circle cx="1479.9" cy="707.4" r="6.6"/><circle cx="1479.9" cy="709.2" r="6.6"/><circle cx="1479.9" cy="711.0" r="6.6"/><circle cx="1479.9" cy="712.8" r="6.6"/><circle cx="1479.9" cy="714.6" r="6.6"/><circle cx="1479.9" cy="716.4" r="6.6"/><circle cx="1479.9" cy="718.2" r="6.6"/><circle cx="1479.9" cy="720.0" r="6.6"/><circle cx="1479.9" cy="721.8" r="6.6"/><circle cx="1479.9" cy="723.6" r="6.6"/><circle cx="1479.9" cy="725.4" r="6.6"/><circle cx="1479.9" cy="727.2" r="6.6"/><circle cx="1479.9" cy="729.0" r="6.6"/><circle cx="1479.9" cy="730.8" r="6.6"/><circle cx="1479.9" cy="732.6" r="6.6"/><circle cx="1479.9" cy="734.4" r="6.6"/><circle cx="1479.9" cy="736.2" r="6.6"/><circle cx="1479.9" cy="738.0" r="6.6"/><circle cx="1479.9" cy="739.8" r="6.6"/><circle cx="1479.9" cy="741.6" r="6.6"/><circle cx="1479.9" cy="743.4" r="6.6"/><circle cx="1479.9" cy="744.9" r="6.6"/></g><g fill-opacity="0.20" stroke-opacity="0.20"><circle cx="1481.1" cy="573.9" r="6.6"/><circle cx="1481.2" cy="602.0" r="6.6"/><circle cx="1481.3" cy="617.0" r="6.6"/><circle cx="1481.4" cy="642.4" r="6.6"/><circle cx="1481.4" cy="649.1" r="6.6"/><circle cx="1481.5" cy="668.1" r="6.6"/><circle cx="1481.5" cy="682.2" r="6.6"/><circle cx="1481.6" cy="695.2" r="6.6"/><circle cx="1481.7" cy="713.1" r="6.6"/><circle cx="1481.8" cy="734.7" r="6.6"/><circle cx="1481.9" cy="748.1" r="6.6"/><circle cx="1481.9" cy="757.3" r="6.6"/><circle cx="1482.0" cy="765.7" r="6.6"/><circle cx="1482.8" cy="764.8" r="6.6"/><circle cx="1482.8" cy="762.0" r="6.6"/><circle cx="1482.9" cy="759.3" r="6.6"/><circle cx="1482.9" cy="756.5" r="6.6"/><circle cx="1482.9" cy="753.7" r="6.6"/><circle cx="1482.9" cy="751.0" r="6.6"/><circle cx="1482.9" cy="748.1" r="6.6"/><circle cx="1483.0" cy="744.6" r="6.6"/><circle cx="1483.0" cy="741.1" r="6.6"/><circle cx="1483.0" cy="737.7" r="6.6"/><circle cx="1483.1" cy="734.7" r="6.6"/><circle cx="1483.1" cy="732.0" r="6.6"/><circle cx="1483.1" cy="729.3" r="6.6"/><circle cx="1483.1" cy="726.3" r="6.6"/><circle cx="1483.2" cy="723.8" r="6.6"/><circle cx="1483.2" cy="721.1" r="6.6"/><circle cx="1483.3" cy="718.1" r="6.6"/><circle cx="1483.3" cy="715.5" r="6.6"/><circle cx="1483.3" cy="712.7" r="6.6"/><circle cx="1483.4" cy="709.7" r="6.6"/><circle cx="1483.4" cy="706.8" r="6.6"/><circle cx="1483.5" cy="703.8" r="6.6"/><circle cx="1483.6" cy="701.1" r="6.6"/><circle cx="1483.7" cy="698.0" r="6.6"/><circle cx="1483.7" cy="695.4" r="6.6"/></g><g fill-opacity="0.36" stroke-opacity="0.36"><circle cx="1483.8" cy="691.9" r="6.6"/><circle cx="1483.9" cy="689.7" r="6.6"/><circle cx="1484.0" cy="687.5" r="6.6"/><circle cx="1484.2" cy="685.1" r="6.6"/><circle cx="1484.3" cy="682.7" r="6.6"/><circle cx="1484.5" cy="680.3" r="6.6"/><circle cx="1484.6" cy="678.1" r="6.6"/><circle cx="1484.9" cy="675.6" r="6.6"/><circle cx="1485.1" cy="673.4" r="6.6"/><circle cx="1485.4" cy="671.2" r="6.6"/><circle cx="1485.6" cy="668.9" r="6.6"/><circle cx="1485.9" cy="666.7" r="6.6"/><circle cx="1486.3" cy="664.4" r="6.6"/><circle cx="1486.7" cy="662.1" r="6.6"/><circle cx="1487.0" cy="659.8" r="6.6"/><circle cx="1487.5" cy="657.5" r="6.6"/><circle cx="1487.9" cy="655.3" r="6.6"/><circle cx="1488.4" cy="653.1" r="6.6"/><circle cx="1488.9" cy="650.8" r="6.6"/><circle cx="1489.5" cy="648.5" r="6.6"/><circle cx="1490.2" cy="646.2" r="6.6"/><circle cx="1490.9" cy="644.0" r="6.6"/><circle cx="1491.6" cy="642.0" r="6.6"/><circle cx="1492.5" cy="640.0" r="6.6"/><circle cx="1493.3" cy="638.3" r="6.6"/></g><g fill-opacity="0.49" stroke-opacity="0.49"><circle cx="1494.3" cy="636.5" r="6.6"/><circle cx="1495.5" cy="634.6" r="6.6"/><circle cx="1496.7" cy="633.1" r="6.6"/><circle cx="1497.9" cy="631.8" r="6.6"/></g><g fill-opacity="0.59" stroke-opacity="0.59"><circle cx="1499.1" cy="630.7" r="6.6"/></g><g fill-opacity="0.36" stroke-opacity="0.36"><circle cx="1499.3" cy="631.8" r="6.6"/><circle cx="1499.3" cy="633.6" r="6.6"/><circle cx="1499.3" cy="635.4" r="6.6"/><circle cx="1499.3" cy="637.2" r="6.6"/><circle cx="1499.3" cy="639.0" r="6.6"/><circle cx="1499.3" cy="640.8" r="6.6"/><circle cx="1499.3" cy="642.6" r="6.6"/><circle cx="1499.3" cy="644.4" r="6.6"/><circle cx="1499.3" cy="646.2" r="6.6"/><circle cx="1499.3" cy="648.0" r="6.6"/><circle cx="1499.3" cy="649.8" r="6.6"/><circle cx="1499.3" cy="651.6" r="6.6"/><circle cx="1499.3" cy="653.4" r="6.6"/><circle cx="1499.3" cy="655.2" r="6.6"/><circle cx="1499.3" cy="657.0" r="6.6"/><circle cx="1499.3" cy="658.8" r="6.6"/><circle cx="1499.3" cy="660.6" r="6.6"/><circle cx="1499.3" cy="662.4" r="6.6"/><circle cx="1499.3" cy="664.2" r="6.6"/><circle cx="1499.3" cy="666.0" r="6.6"/><circle cx="1499.3" cy="667.8" r="6.6"/><circle cx="1499.3" cy="669.6" r="6.6"/><circle cx="1499.3" cy="671.4" r="6.6"/><circle cx="1499.3" cy="673.2" r="6.6"/><circle cx="1499.3" cy="675.0" r="6.6"/><circle cx="1499.3" cy="676.8" r="6.6"/><circle cx="1499.3" cy="678.6" r="6.6"/><circle cx="1499.3" cy="680.4" r="6.6"/><circle cx="1499.3" cy="682.2" r="6.6"/><circle cx="1499.3" cy="684.0" r="6.6"/><circle cx="1499.3" cy="685.8" r="6.6"/><circle cx="1499.3" cy="687.6" r="6.6"/><circle cx="1499.3" cy="689.4" r="6.6"/><circle cx="1499.3" cy="691.2" r="6.6"/><circle cx="1499.3" cy="693.0" r="6.6"/><circle cx="1499.3" cy="694.8" r="6.6"/><circle cx="1499.3" cy="696.6" r="6.6"/><circle cx="1499.3" cy="698.4" r="6.6"/><circle cx="1499.3" cy="700.2" r="6.6"/><circle cx="1499.3" cy="702.0" r="6.6"/><circle cx="1499.3" cy="703.8" r="6.6"/><circle cx="1499.3" cy="705.6" r="6.6"/><circle cx="1499.3" cy="707.4" r="6.6"/><circle cx="1499.3" cy="709.2" r="6.6"/><circle cx="1499.3" cy="711.0" r="6.6"/><circle cx="1499.3" cy="712.8" r="6.6"/><circle cx="1499.3" cy="714.6" r="6.6"/><circle cx="1499.3" cy="716.4" r="6.6"/><circle cx="1499.3" cy="718.2" r="6.6"/><circle cx="1499.3" cy="720.0" r="6.6"/><circle cx="1499.3" cy="721.8" r="6.6"/><circle cx="1499.3" cy="723.6" r="6.6"/><circle cx="1499.3" cy="725.4" r="6.6"/><circle cx="1499.3" cy="727.2" r="6.6"/><circle cx="1499.3" cy="728.8" r="6.6"/></g><g fill-opacity="0.20" stroke-opacity="0.20"><circle cx="1500.6" cy="593.7" r="6.6"/><circle cx="1500.7" cy="616.5" r="6.6"/><circle cx="1500.8" cy="642.6" r="6.6"/><circle cx="1500.9" cy="663.9" r="6.6"/><circle cx="1501.0" cy="688.5" r="6.6"/><circle cx="1501.1" cy="712.2" r="6.6"/><circle cx="1501.2" cy="732.0" r="6.6"/><circle cx="1501.3" cy="750.1" r="6.6"/><circle cx="1501.4" cy="760.6" r="6.6"/><circle cx="1501.9" cy="764.3" r="6.6"/><circle cx="1502.0" cy="760.9" r="6.6"/><circle cx="1502.0" cy="757.6" r="6.6"/><circle cx="1502.0" cy="754.0" r="6.6"/><circle cx="1502.0" cy="750.9" r="6.6"/><circle cx="1502.0" cy="747.6" r="6.6"/><circle cx="1502.0" cy="744.0" r="6.6"/><circle cx="1502.1" cy="741.1" r="6.6"/><circle cx="1502.1" cy="737.5" r="6.6"/><circle cx="1502.1" cy="733.8" r="6.6"/><circle cx="1502.1" cy="730.3" r="6.6"/><circle cx="1502.2" cy="726.5" r="6.6"/><circle cx="1502.2" cy="723.4" r="6.6"/><circle cx="1502.2" cy="720.2" r="6.6"/><circle cx="1502.2" cy="717.4" r="6.6"/><circle cx="1502.3" cy="713.9" r="6.6"/><circle cx="1502.3" cy="710.6" r="6.6"/><circle cx="1502.3" cy="707.6" r="6.6"/><circle cx="1502.3" cy="704.5" r="6.6"/><circle cx="1502.4" cy="701.2" r="6.6"/><circle cx="1502.4" cy="697.5" r="6.6"/><circle cx="1502.5" cy="694.3" r="6.6"/><circle cx="1502.5" cy="691.0" r="6.6"/><circle cx="1502.6" cy="688.1" r="6.6"/><circle cx="1502.6" cy="685.0" r="6.6"/><circle cx="1502.7" cy="681.7" r="6.6"/><circle cx="1502.8" cy="678.1" r="6.6"/></g><g fill-opacity="0.36" stroke-opacity="0.36"><circle cx="1502.9" cy="674.0" r="6.6"/><circle cx="1503.0" cy="671.4" r="6.6"/><circle cx="1503.1" cy="668.9" r="6.6"/><circle cx="1503.2" cy="666.6" r="6.6"/><circle cx="1503.3" cy="664.4" r="6.6"/><circle cx="1503.5" cy="662.0" r="6.6"/><circle cx="1503.7" cy="659.6" r="6.6"/><circle cx="1503.9" cy="657.3" r="6.6"/><circle cx="1504.1" cy="654.9" r="6.6"/><circle cx="1504.4" cy="652.6" r="6.6"/><circle cx="1504.6" cy="650.4" r="6.6"/><circle cx="1505.0" cy="648.0" r="6.6"/><circle cx="1505.3" cy="645.8" r="6.6"/><circle cx="1505.6" cy="643.7" r="6.6"/><circle cx="1506.0" cy="641.3" r="6.6"/><circle cx="1506.3" cy="639.2" r="6.6"/><circle cx="1506.7" cy="637.0" r="6.6"/><circle cx="1507.2" cy="634.9" r="6.6"/><circle cx="1507.7" cy="632.6" r="6.6"/><circle cx="1508.2" cy="630.3" r="6.6"/><circle cx="1508.8" cy="628.1" r="6.6"/><circle cx="1509.4" cy="625.9" r="6.6"/><circle cx="1510.2" cy="623.7" r="6.6"/><circle cx="1511.0" cy="621.6" r="6.6"/><circle cx="1511.8" cy="619.7" r="6.6"/><circle cx="1512.6" cy="618.0" r="6.6"/></g><g fill-opacity="0.49" stroke-opacity="0.49"><circle cx="1513.6" cy="616.3" r="6.6"/><circle cx="1514.8" cy="614.5" r="6.6"/><circle cx="1516.0" cy="613.0" r="6.6"/><circle cx="1517.2" cy="611.8" r="6.6"/></g><g fill-opacity="0.59" stroke-opacity="0.59"><circle cx="1518.0" cy="611.2" r="6.6"/></g><g fill-opacity="0.36" stroke-opacity="0.36"><circle cx="1518.0" cy="613.2" r="6.6"/><circle cx="1518.0" cy="615.0" r="6.6"/><circle cx="1518.0" cy="616.8" r="6.6"/><circle cx="1518.0" cy="618.6" r="6.6"/><circle cx="1518.0" cy="620.4" r="6.6"/><circle cx="1518.0" cy="622.2" r="6.6"/><circle cx="1518.0" cy="624.0" r="6.6"/><circle cx="1518.0" cy="625.8" r="6.6"/><circle cx="1518.0" cy="627.6" r="6.6"/><circle cx="1518.0" cy="629.4" r="6.6"/><circle cx="1518.0" cy="631.2" r="6.6"/><circle cx="1518.0" cy="633.0" r="6.6"/><circle cx="1518.0" cy="634.8" r="6.6"/><circle cx="1518.0" cy="636.6" r="6.6"/><circle cx="1518.0" cy="638.4" r="6.6"/><circle cx="1518.0" cy="640.2" r="6.6"/><circle cx="1518.0" cy="642.0" r="6.6"/><circle cx="1518.0" cy="643.8" r="6.6"/><circle cx="1518.0" cy="645.6" r="6.6"/><circle cx="1518.0" cy="647.4" r="6.6"/><circle cx="1518.0" cy="649.2" r="6.6"/><circle cx="1518.0" cy="651.0" r="6.6"/><circle cx="1518.0" cy="652.8" r="6.6"/><circle cx="1518.0" cy="654.6" r="6.6"/><circle cx="1518.0" cy="656.4" r="6.6"/><circle cx="1518.0" cy="658.2" r="6.6"/><circle cx="1518.0" cy="660.0" r="6.6"/><circle cx="1518.0" cy="661.8" r="6.6"/><circle cx="1518.0" cy="663.6" r="6.6"/><circle cx="1518.0" cy="665.4" r="6.6"/><circle cx="1518.0" cy="667.2" r="6.6"/><circle cx="1518.0" cy="669.0" r="6.6"/><circle cx="1518.0" cy="670.8" r="6.6"/><circle cx="1518.0" cy="672.6" r="6.6"/><circle cx="1518.0" cy="674.4" r="6.6"/><circle cx="1518.0" cy="676.2" r="6.6"/><circle cx="1518.0" cy="678.0" r="6.6"/><circle cx="1518.0" cy="679.8" r="6.6"/><circle cx="1518.0" cy="681.6" r="6.6"/><circle cx="1518.0" cy="683.4" r="6.6"/><circle cx="1518.0" cy="685.2" r="6.6"/><circle cx="1518.0" cy="687.0" r="6.6"/><circle cx="1518.0" cy="688.8" r="6.6"/><circle cx="1518.0" cy="690.6" r="6.6"/><circle cx="1518.0" cy="692.4" r="6.6"/><circle cx="1518.0" cy="694.2" r="6.6"/><circle cx="1518.0" cy="696.0" r="6.6"/><circle cx="1518.0" cy="697.8" r="6.6"/><circle cx="1518.0" cy="699.6" r="6.6"/><circle cx="1518.0" cy="701.4" r="6.6"/><circle cx="1518.0" cy="703.2" r="6.6"/><circle cx="1518.0" cy="705.0" r="6.6"/><circle cx="1518.0" cy="706.8" r="6.6"/><circle cx="1518.0" cy="708.6" r="6.6"/><circle cx="1518.0" cy="710.4" r="6.6"/><circle cx="1518.0" cy="711.9" r="6.6"/></g><g fill-opacity="0.20" stroke-opacity="0.20"><circle cx="1519.4" cy="591.8" r="6.6"/><circle cx="1519.5" cy="600.3" r="6.6"/><circle cx="1519.5" cy="618.4" r="6.6"/><circle cx="1519.6" cy="649.3" r="6.6"/><circle cx="1519.8" cy="678.5" r="6.6"/><circle cx="1519.9" cy="705.6" r="6.6"/><circle cx="1520.0" cy="728.7" r="6.6"/><circle cx="1520.1" cy="738.9" r="6.6"/><circle cx="1520.1" cy="742.1" r="6.6"/><circle cx="1520.2" cy="758.8" r="6.6"/><circle cx="1520.6" cy="763.5" r="6.6"/><circle cx="1520.6" cy="760.1" r="6.6"/><circle cx="1520.6" cy="755.9" r="6.6"/><circle cx="1520.7" cy="752.6" r="6.6"/><circle cx="1520.7" cy="749.1" r="6.6"/><circle cx="1520.7" cy="745.5" r="6.6"/><circle cx="1520.7" cy="741.9" r="6.6"/><circle cx="1520.7" cy="738.1" r="6.6"/><circle cx="1520.7" cy="734.6" r="6.6"/><circle cx="1520.7" cy="730.7" r="6.6"/><circle cx="1520.8" cy="726.6" r="6.6"/><circle cx="1520.8" cy="722.1" r="6.6"/><circle cx="1520.8" cy="718.5" r="6.6"/><circle cx="1520.8" cy="715.3" r="6.6"/><circle cx="1520.8" cy="711.7" r="6.6"/><circle cx="1520.9" cy="708.2" r="6.6"/><circle cx="1520.9" cy="704.4" r="6.6"/><circle cx="1520.9" cy="700.2" r="6.6"/><circle cx="1520.9" cy="696.6" r="6.6"/><circle cx="1521.0" cy="692.9" r="6.6"/><circle cx="1521.0" cy="688.8" r="6.6"/><circle cx="1521.0" cy="685.3" r="6.6"/><circle cx="1521.1" cy="681.7" r="6.6"/><circle cx="1521.1" cy="678.4" r="6.6"/><circle cx="1521.1" cy="674.9" r="6.6"/><circle cx="1521.2" cy="671.3" r="6.6"/><circle cx="1521.2" cy="667.3" r="6.6"/><circle cx="1521.3" cy="663.9" r="6.6"/><circle cx="1521.4" cy="660.3" r="6.6"/><circle cx="1521.4" cy="657.1" r="6.6"/></g><g fill-opacity="0.36" stroke-opacity="0.36"><circle cx="1521.5" cy="654.1" r="6.6"/><circle cx="1521.6" cy="651.7" r="6.6"/><circle cx="1521.7" cy="649.4" r="6.6"/><circle cx="1521.8" cy="647.2" r="6.6"/><circle cx="1521.9" cy="645.0" r="6.6"/><circle cx="1522.0" cy="642.7" r="6.6"/><circle cx="1522.2" cy="640.3" r="6.6"/><circle cx="1522.4" cy="638.1" r="6.6"/><circle cx="1522.6" cy="635.9" r="6.6"/><circle cx="1522.8" cy="633.7" r="6.6"/><circle cx="1523.1" cy="631.3" r="6.6"/><circle cx="1523.3" cy="629.1" r="6.6"/><circle cx="1523.6" cy="626.8" r="6.6"/><circle cx="1524.0" cy="624.5" r="6.6"/><circle cx="1524.3" cy="622.4" r="6.6"/><circle cx="1524.6" cy="620.2" r="6.6"/><circle cx="1525.0" cy="617.9" r="6.6"/><circle cx="1525.4" cy="615.6" r="6.6"/><circle cx="1525.9" cy="613.3" r="6.6"/><circle cx="1526.4" cy="611.1" r="6.6"/><circle cx="1526.8" cy="609.0" r="6.6"/><circle cx="1527.4" cy="606.8" r="6.6"/><circle cx="1528.1" cy="604.4" r="6.6"/><circle cx="1528.8" cy="602.2" r="6.6"/><circle cx="1529.6" cy="600.0" r="6.6"/><circle cx="1530.4" cy="598.2" r="6.6"/><circle cx="1531.2" cy="596.5" r="6.6"/></g><g fill-opacity="0.49" stroke-opacity="0.49"><circle cx="1532.2" cy="594.8" r="6.6"/><circle cx="1533.5" cy="593.0" r="6.6"/><circle cx="1534.7" cy="591.6" r="6.6"/></g><g fill-opacity="0.67" stroke-opacity="0.67"><circle cx="1536.0" cy="590.2" r="6.6"/></g><g fill-opacity="0.36" stroke-opacity="0.36"><circle cx="1536.3" cy="591.3" r="6.6"/><circle cx="1536.3" cy="593.1" r="6.6"/><circle cx="1536.3" cy="594.9" r="6.6"/><circle cx="1536.3" cy="596.7" r="6.6"/><circle cx="1536.3" cy="598.5" r="6.6"/><circle cx="1536.3" cy="600.3" r="6.6"/><circle cx="1536.3" cy="602.1" r="6.6"/><circle cx="1536.3" cy="603.9" r="6.6"/><circle cx="1536.3" cy="605.7" r="6.6"/><circle cx="1536.3" cy="607.5" r="6.6"/><circle cx="1536.3" cy="609.3" r="6.6"/><circle cx="1536.3" cy="611.1" r="6.6"/><circle cx="1536.3" cy="612.9" r="6.6"/><circle cx="1536.3" cy="614.7" r="6.6"/><circle cx="1536.3" cy="616.5" r="6.6"/><circle cx="1536.3" cy="618.3" r="6.6"/><circle cx="1536.3" cy="620.1" r="6.6"/><circle cx="1536.3" cy="621.9" r="6.6"/><circle cx="1536.3" cy="623.7" r="6.6"/><circle cx="1536.3" cy="625.5" r="6.6"/><circle cx="1536.3" cy="627.3" r="6.6"/><circle cx="1536.3" cy="629.1" r="6.6"/><circle cx="1536.3" cy="630.9" r="6.6"/><circle cx="1536.3" cy="632.7" r="6.6"/><circle cx="1536.3" cy="634.5" r="6.6"/><circle cx="1536.3" cy="636.3" r="6.6"/><circle cx="1536.3" cy="638.1" r="6.6"/><circle cx="1536.3" cy="639.9" r="6.6"/><circle cx="1536.3" cy="641.7" r="6.6"/><circle cx="1536.3" cy="643.5" r="6.6"/><circle cx="1536.3" cy="645.3" r="6.6"/><circle cx="1536.3" cy="647.1" r="6.6"/><circle cx="1536.3" cy="648.9" r="6.6"/><circle cx="1536.3" cy="650.7" r="6.6"/><circle cx="1536.3" cy="652.5" r="6.6"/><circle cx="1536.3" cy="654.3" r="6.6"/><circle cx="1536.3" cy="656.1" r="6.6"/><circle cx="1536.3" cy="657.9" r="6.6"/><circle cx="1536.3" cy="659.7" r="6.6"/><circle cx="1536.3" cy="661.5" r="6.6"/><circle cx="1536.3" cy="663.3" r="6.6"/><circle cx="1536.3" cy="665.1" r="6.6"/><circle cx="1536.3" cy="666.9" r="6.6"/><circle cx="1536.3" cy="668.7" r="6.6"/><circle cx="1536.3" cy="670.5" r="6.6"/><circle cx="1536.3" cy="672.3" r="6.6"/><circle cx="1536.3" cy="674.1" r="6.6"/><circle cx="1536.3" cy="675.9" r="6.6"/><circle cx="1536.3" cy="677.7" r="6.6"/><circle cx="1536.3" cy="679.5" r="6.6"/><circle cx="1536.3" cy="681.3" r="6.6"/><circle cx="1536.3" cy="683.1" r="6.6"/><circle cx="1536.3" cy="684.9" r="6.6"/><circle cx="1536.3" cy="686.7" r="6.6"/><circle cx="1536.3" cy="688.5" r="6.6"/><circle cx="1536.3" cy="690.3" r="6.6"/><circle cx="1536.3" cy="692.1" r="6.6"/><circle cx="1536.3" cy="693.7" r="6.6"/></g><g fill-opacity="0.20" stroke-opacity="0.20"><circle cx="1537.8" cy="579.2" r="6.6"/><circle cx="1537.9" cy="597.8" r="6.6"/><circle cx="1538.0" cy="627.4" r="6.6"/><circle cx="1538.1" cy="642.4" r="6.6"/><circle cx="1538.1" cy="656.8" r="6.6"/><circle cx="1538.3" cy="678.0" r="6.6"/><circle cx="1538.4" cy="704.3" r="6.6"/><circle cx="1538.5" cy="716.1" r="6.6"/><circle cx="1538.6" cy="737.1" r="6.6"/><circle cx="1538.6" cy="739.2" r="6.6"/><circle cx="1538.7" cy="748.8" r="6.6"/><circle cx="1538.8" cy="759.0" r="6.6"/><circle cx="1538.8" cy="765.5" r="6.6"/><circle cx="1539.1" cy="762.9" r="6.6"/><circle cx="1539.1" cy="759.3" r="6.6"/><circle cx="1539.1" cy="755.3" r="6.6"/><circle cx="1539.1" cy="751.0" r="6.6"/><circle cx="1539.1" cy="746.8" r="6.6"/><circle cx="1539.1" cy="742.4" r="6.6"/><circle cx="1539.1" cy="738.1" r="6.6"/><circle cx="1539.1" cy="734.3" r="6.6"/><circle cx="1539.1" cy="730.5" r="6.6"/><circle cx="1539.2" cy="726.8" r="6.6"/><circle cx="1539.2" cy="722.3" r="6.6"/><circle cx="1539.2" cy="718.1" r="6.6"/><circle cx="1539.2" cy="713.5" r="6.6"/><circle cx="1539.2" cy="708.6" r="6.6"/><circle cx="1539.2" cy="703.5" r="6.6"/><circle cx="1539.3" cy="699.2" r="6.6"/><circle cx="1539.3" cy="694.5" r="6.6"/><circle cx="1539.3" cy="690.0" r="6.6"/><circle cx="1539.3" cy="686.1" r="6.6"/><circle cx="1539.3" cy="681.9" r="6.6"/><circle cx="1539.4" cy="677.6" r="6.6"/><circle cx="1539.4" cy="672.7" r="6.6"/><circle cx="1539.4" cy="667.8" r="6.6"/><circle cx="1539.5" cy="663.9" r="6.6"/><circle cx="1539.5" cy="659.8" r="6.6"/><circle cx="1539.5" cy="655.6" r="6.6"/><circle cx="1539.6" cy="651.5" r="6.6"/><circle cx="1539.6" cy="647.1" r="6.6"/><circle cx="1539.7" cy="642.9" r="6.6"/><circle cx="1539.7" cy="639.0" r="6.6"/><circle cx="1539.8" cy="635.4" r="6.6"/></g><g fill-opacity="0.36" stroke-opacity="0.36"><circle cx="1539.9" cy="631.4" r="6.6"/><circle cx="1540.0" cy="629.1" r="6.6"/><circle cx="1540.0" cy="626.9" r="6.6"/><circle cx="1540.1" cy="624.5" r="6.6"/><circle cx="1540.2" cy="622.3" r="6.6"/><circle cx="1540.3" cy="620.0" r="6.6"/><circle cx="1540.5" cy="617.8" r="6.6"/><circle cx="1540.6" cy="615.6" r="6.6"/><circle cx="1540.8" cy="613.2" r="6.6"/><circle cx="1541.1" cy="611.0" r="6.6"/><circle cx="1541.3" cy="608.8" r="6.6"/><circle cx="1541.6" cy="606.5" r="6.6"/><circle cx="1541.9" cy="604.1" r="6.6"/><circle cx="1542.2" cy="601.8" r="6.6"/><circle cx="1542.5" cy="599.6" r="6.6"/><circle cx="1542.8" cy="597.5" r="6.6"/><circle cx="1543.1" cy="595.4" r="6.6"/><circle cx="1543.5" cy="593.2" r="6.6"/><circle cx="1543.9" cy="591.0" r="6.6"/><circle cx="1544.3" cy="588.7" r="6.6"/><circle cx="1544.8" cy="586.5" r="6.6"/><circle cx="1545.3" cy="584.2" r="6.6"/><circle cx="1545.9" cy="581.9" r="6.6"/><circle cx="1546.6" cy="579.6" r="6.6"/><circle cx="1547.4" cy="577.3" r="6.6"/><circle cx="1548.2" cy="575.2" r="6.6"/><circle cx="1549.0" cy="573.4" r="6.6"/><circle cx="1554.3" cy="573.6" r="6.6"/><circle cx="1554.3" cy="575.4" r="6.6"/><circle cx="1554.3" cy="577.2" r="6.6"/><circle cx="1554.3" cy="579.0" r="6.6"/><circle cx="1554.3" cy="580.8" r="6.6"/><circle cx="1554.3" cy="582.6" r="6.6"/><circle cx="1554.3" cy="584.4" r="6.6"/><circle cx="1554.3" cy="586.2" r="6.6"/><circle cx="1554.3" cy="588.0" r="6.6"/><circle cx="1554.3" cy="589.8" r="6.6"/><circle cx="1554.3" cy="591.6" r="6.6"/><circle cx="1554.3" cy="593.4" r="6.6"/><circle cx="1554.3" cy="595.2" r="6.6"/><circle cx="1554.3" cy="597.0" r="6.6"/><circle cx="1554.3" cy="598.8" r="6.6"/><circle cx="1554.3" cy="600.6" r="6.6"/><circle cx="1554.3" cy="602.4" r="6.6"/><circle cx="1554.3" cy="604.2" r="6.6"/><circle cx="1554.3" cy="606.0" r="6.6"/><circle cx="1554.3" cy="607.8" r="6.6"/><circle cx="1554.3" cy="609.6" r="6.6"/><circle cx="1554.3" cy="611.4" r="6.6"/><circle cx="1554.3" cy="613.2" r="6.6"/><circle cx="1554.3" cy="615.0" r="6.6"/><circle cx="1554.3" cy="616.8" r="6.6"/><circle cx="1554.3" cy="618.6" r="6.6"/><circle cx="1554.3" cy="620.4" r="6.6"/><circle cx="1554.3" cy="622.2" r="6.6"/><circle cx="1554.3" cy="624.0" r="6.6"/><circle cx="1554.3" cy="625.8" r="6.6"/><circle cx="1554.3" cy="627.6" r="6.6"/><circle cx="1554.3" cy="629.4" r="6.6"/><circle cx="1554.3" cy="631.2" r="6.6"/><circle cx="1554.3" cy="633.0" r="6.6"/><circle cx="1554.3" cy="634.8" r="6.6"/><circle cx="1554.3" cy="636.6" r="6.6"/><circle cx="1554.3" cy="638.4" r="6.6"/><circle cx="1554.3" cy="640.2" r="6.6"/><circle cx="1554.3" cy="642.0" r="6.6"/><circle cx="1554.3" cy="643.8" r="6.6"/><circle cx="1554.3" cy="645.6" r="6.6"/><circle cx="1554.3" cy="647.4" r="6.6"/><circle cx="1554.3" cy="649.2" r="6.6"/><circle cx="1554.3" cy="651.0" r="6.6"/><circle cx="1554.3" cy="652.8" r="6.6"/><circle cx="1554.3" cy="654.6" r="6.6"/><circle cx="1554.3" cy="656.4" r="6.6"/><circle cx="1554.3" cy="658.2" r="6.6"/><circle cx="1554.3" cy="660.0" r="6.6"/><circle cx="1554.3" cy="661.8" r="6.6"/><circle cx="1554.3" cy="663.6" r="6.6"/><circle cx="1554.3" cy="665.4" r="6.6"/><circle cx="1554.3" cy="667.2" r="6.6"/><circle cx="1554.3" cy="669.0" r="6.6"/><circle cx="1554.3" cy="670.8" r="6.6"/></g><g fill-opacity="0.20" stroke-opacity="0.20"><circle cx="1554.3" cy="672.0" r="6.6"/><circle cx="1555.7" cy="575.6" r="6.6"/><circle cx="1555.7" cy="584.9" r="6.6"/><circle cx="1555.8" cy="600.7" r="6.6"/><circle cx="1555.8" cy="608.2" r="6.6"/><circle cx="1555.9" cy="631.4" r="6.6"/><circle cx="1556.0" cy="660.2" r="6.6"/><circle cx="1556.0" cy="668.8" r="6.6"/><circle cx="1556.1" cy="690.4" r="6.6"/><circle cx="1556.2" cy="718.3" r="6.6"/><circle cx="1556.3" cy="734.5" r="6.6"/><circle cx="1556.3" cy="744.8" r="6.6"/><circle cx="1556.4" cy="750.2" r="6.6"/><circle cx="1556.4" cy="756.3" r="6.6"/><circle cx="1556.4" cy="761.7" r="6.6"/><circle cx="1556.4" cy="765.7" r="6.6"/><circle cx="1556.5" cy="762.8" r="6.6"/><circle cx="1556.5" cy="758.5" r="6.6"/><circle cx="1556.5" cy="753.9" r="6.6"/><circle cx="1556.5" cy="749.2" r="6.6"/><circle cx="1556.6" cy="744.9" r="6.6"/><circle cx="1556.6" cy="740.1" r="6.6"/><circle cx="1556.6" cy="735.9" r="6.6"/><circle cx="1556.6" cy="731.6" r="6.6"/><circle cx="1556.6" cy="726.2" r="6.6"/><circle cx="1556.6" cy="721.5" r="6.6"/><circle cx="1556.6" cy="716.4" r="6.6"/><circle cx="1556.6" cy="712.1" r="6.6"/><circle cx="1556.6" cy="706.7" r="6.6"/><circle cx="1556.7" cy="701.8" r="6.6"/><circle cx="1556.7" cy="696.6" r="6.6"/><circle cx="1556.7" cy="691.5" r="6.6"/><circle cx="1556.7" cy="686.3" r="6.6"/><circle cx="1556.7" cy="682.2" r="6.6"/><circle cx="1556.7" cy="677.0" r="6.6"/><circle cx="1556.8" cy="672.6" r="6.6"/><circle cx="1556.8" cy="668.1" r="6.6"/><circle cx="1556.8" cy="662.6" r="6.6"/><circle cx="1556.8" cy="658.0" r="6.6"/><circle cx="1556.8" cy="653.8" r="6.6"/><circle cx="1556.9" cy="649.2" r="6.6"/><circle cx="1556.9" cy="644.6" r="6.6"/><circle cx="1556.9" cy="640.1" r="6.6"/><circle cx="1557.0" cy="635.9" r="6.6"/><circle cx="1557.0" cy="631.2" r="6.6"/><circle cx="1557.0" cy="626.7" r="6.6"/><circle cx="1557.1" cy="622.0" r="6.6"/><circle cx="1557.1" cy="617.4" r="6.6"/><circle cx="1557.2" cy="613.0" r="6.6"/></g><g fill-opacity="0.36" stroke-opacity="0.36"><circle cx="1557.3" cy="608.4" r="6.6"/><circle cx="1557.4" cy="605.9" r="6.6"/><circle cx="1557.4" cy="603.4" r="6.6"/><circle cx="1557.5" cy="600.9" r="6.6"/><circle cx="1557.6" cy="598.5" r="6.6"/><circle cx="1557.7" cy="596.1" r="6.6"/><circle cx="1557.9" cy="593.8" r="6.6"/><circle cx="1558.1" cy="591.5" r="6.6"/><circle cx="1558.2" cy="589.2" r="6.6"/><circle cx="1558.5" cy="586.8" r="6.6"/><circle cx="1558.7" cy="584.5" r="6.6"/><circle cx="1558.9" cy="582.2" r="6.6"/><circle cx="1559.2" cy="579.9" r="6.6"/><circle cx="1559.5" cy="577.8" r="6.6"/><circle cx="1559.7" cy="575.7" r="6.6"/><circle cx="1560.0" cy="573.4" r="6.6"/><circle cx="1571.6" cy="573.6" r="6.6"/><circle cx="1571.6" cy="575.4" r="6.6"/><circle cx="1571.6" cy="577.2" r="6.6"/><circle cx="1571.6" cy="579.0" r="6.6"/><circle cx="1571.6" cy="580.8" r="6.6"/><circle cx="1571.6" cy="582.6" r="6.6"/><circle cx="1571.6" cy="584.4" r="6.6"/><circle cx="1571.6" cy="586.2" r="6.6"/><circle cx="1571.6" cy="588.0" r="6.6"/><circle cx="1571.6" cy="589.8" r="6.6"/><circle cx="1571.6" cy="591.6" r="6.6"/><circle cx="1571.6" cy="593.4" r="6.6"/><circle cx="1571.6" cy="595.2" r="6.6"/><circle cx="1571.6" cy="597.0" r="6.6"/><circle cx="1571.6" cy="598.8" r="6.6"/><circle cx="1571.6" cy="600.6" r="6.6"/><circle cx="1571.6" cy="602.4" r="6.6"/><circle cx="1571.6" cy="604.2" r="6.6"/><circle cx="1571.6" cy="606.0" r="6.6"/><circle cx="1571.6" cy="607.8" r="6.6"/><circle cx="1571.6" cy="609.6" r="6.6"/><circle cx="1571.6" cy="611.4" r="6.6"/><circle cx="1571.6" cy="613.2" r="6.6"/><circle cx="1571.6" cy="615.0" r="6.6"/><circle cx="1571.6" cy="616.8" r="6.6"/><circle cx="1571.6" cy="618.6" r="6.6"/><circle cx="1571.6" cy="620.4" r="6.6"/><circle cx="1571.6" cy="622.2" r="6.6"/><circle cx="1571.6" cy="624.0" r="6.6"/><circle cx="1571.6" cy="625.8" r="6.6"/><circle cx="1571.6" cy="627.6" r="6.6"/><circle cx="1571.6" cy="629.4" r="6.6"/><circle cx="1571.6" cy="631.2" r="6.6"/><circle cx="1571.6" cy="633.0" r="6.6"/><circle cx="1571.6" cy="634.8" r="6.6"/><circle cx="1571.6" cy="636.6" r="6.6"/><circle cx="1571.6" cy="638.4" r="6.6"/><circle cx="1571.6" cy="640.2" r="6.6"/><circle cx="1571.6" cy="642.0" r="6.6"/><circle cx="1571.6" cy="643.8" r="6.6"/><circle cx="1571.6" cy="645.6" r="6.6"/></g><g fill-opacity="0.49" stroke-opacity="0.49"><circle cx="1571.6" cy="647.6" r="6.6"/></g><g fill-opacity="0.20" stroke-opacity="0.20"><circle cx="1573.2" cy="573.3" r="6.6"/><circle cx="1573.3" cy="583.3" r="6.6"/><circle cx="1573.4" cy="604.3" r="6.6"/><circle cx="1573.5" cy="636.3" r="6.6"/><circle cx="1573.6" cy="645.7" r="6.6"/><circle cx="1573.6" cy="652.9" r="6.6"/><circle cx="1573.7" cy="672.5" r="6.6"/><circle cx="1573.8" cy="698.2" r="6.6"/><circle cx="1573.9" cy="708.4" r="6.6"/><circle cx="1574.0" cy="719.5" r="6.6"/><circle cx="1574.0" cy="727.7" r="6.6"/><circle cx="1574.1" cy="736.1" r="6.6"/><circle cx="1574.1" cy="743.7" r="6.6"/><circle cx="1574.2" cy="749.4" r="6.6"/><circle cx="1574.2" cy="752.7" r="6.6"/></g><g fill-opacity="0.36" stroke-opacity="0.36"><circle cx="1574.2" cy="755.4" r="6.6"/></g><g fill-opacity="0.20" stroke-opacity="0.20"><circle cx="1574.2" cy="757.3" r="6.6"/></g><g fill-opacity="0.36" stroke-opacity="0.36"><circle cx="1574.2" cy="759.7" r="6.6"/></g><g fill-opacity="0.20" stroke-opacity="0.20"><circle cx="1574.3" cy="755.0" r="6.6"/><circle cx="1574.3" cy="750.3" r="6.6"/><circle cx="1574.3" cy="745.8" r="6.6"/><circle cx="1574.3" cy="739.9" r="6.6"/><circle cx="1574.3" cy="735.3" r="6.6"/><circle cx="1574.3" cy="730.5" r="6.6"/><circle cx="1574.3" cy="725.8" r="6.6"/><circle cx="1574.3" cy="720.8" r="6.6"/><circle cx="1574.3" cy="715.7" r="6.6"/><circle cx="1574.3" cy="710.5" r="6.6"/><circle cx="1574.3" cy="705.3" r="6.6"/><circle cx="1574.3" cy="700.8" r="6.6"/><circle cx="1574.4" cy="695.9" r="6.6"/><circle cx="1574.4" cy="690.5" r="6.6"/><circle cx="1574.4" cy="685.0" r="6.6"/><circle cx="1574.4" cy="680.0" r="6.6"/><circle cx="1574.4" cy="675.2" r="6.6"/><circle cx="1574.4" cy="670.8" r="6.6"/><circle cx="1574.4" cy="665.7" r="6.6"/><circle cx="1574.4" cy="660.1" r="6.6"/><circle cx="1574.5" cy="655.0" r="6.6"/><circle cx="1574.5" cy="649.6" r="6.6"/><circle cx="1574.5" cy="644.5" r="6.6"/><circle cx="1574.5" cy="639.7" r="6.6"/><circle cx="1574.5" cy="634.7" r="6.6"/><circle cx="1574.5" cy="629.6" r="6.6"/><circle cx="1574.6" cy="624.8" r="6.6"/><circle cx="1574.6" cy="619.7" r="6.6"/><circle cx="1574.6" cy="614.5" r="6.6"/><circle cx="1574.7" cy="609.8" r="6.6"/><circle cx="1574.7" cy="605.1" r="6.6"/><circle cx="1574.7" cy="600.4" r="6.6"/><circle cx="1574.8" cy="595.7" r="6.6"/><circle cx="1574.8" cy="591.4" r="6.6"/></g><g fill-opacity="0.36" stroke-opacity="0.36"><circle cx="1574.9" cy="585.6" r="6.6"/><circle cx="1575.0" cy="583.0" r="6.6"/><circle cx="1575.0" cy="580.6" r="6.6"/><circle cx="1575.1" cy="578.1" r="6.6"/><circle cx="1575.1" cy="575.8" r="6.6"/><circle cx="1575.2" cy="573.6" r="6.6"/><circle cx="1588.3" cy="573.4" r="6.6"/><circle cx="1588.3" cy="575.2" r="6.6"/><circle cx="1588.3" cy="577.0" r="6.6"/><circle cx="1588.3" cy="578.8" r="6.6"/><circle cx="1588.3" cy="580.6" r="6.6"/><circle cx="1588.3" cy="582.4" r="6.6"/><circle cx="1588.3" cy="584.2" r="6.6"/><circle cx="1588.3" cy="586.0" r="6.6"/><circle cx="1588.3" cy="587.8" r="6.6"/><circle cx="1588.3" cy="589.6" r="6.6"/><circle cx="1588.3" cy="591.4" r="6.6"/><circle cx="1588.3" cy="593.2" r="6.6"/><circle cx="1588.3" cy="595.0" r="6.6"/><circle cx="1588.3" cy="596.8" r="6.6"/><circle cx="1588.3" cy="598.6" r="6.6"/><circle cx="1588.3" cy="600.4" r="6.6"/><circle cx="1588.3" cy="602.2" r="6.6"/><circle cx="1588.3" cy="604.0" r="6.6"/><circle cx="1588.3" cy="605.8" r="6.6"/><circle cx="1588.3" cy="607.6" r="6.6"/><circle cx="1588.3" cy="609.4" r="6.6"/><circle cx="1588.3" cy="611.2" r="6.6"/><circle cx="1588.3" cy="613.0" r="6.6"/><circle cx="1588.3" cy="614.8" r="6.6"/><circle cx="1588.3" cy="616.6" r="6.6"/><circle cx="1588.3" cy="618.4" r="6.6"/><circle cx="1588.3" cy="620.2" r="6.6"/><circle cx="1588.3" cy="621.8" r="6.6"/></g><g fill-opacity="0.20" stroke-opacity="0.20"><circle cx="1590.0" cy="602.7" r="6.6"/><circle cx="1590.2" cy="631.0" r="6.6"/><circle cx="1590.3" cy="663.4" r="6.6"/><circle cx="1590.4" cy="685.2" r="6.6"/><circle cx="1590.5" cy="706.1" r="6.6"/><circle cx="1590.6" cy="713.2" r="6.6"/><circle cx="1590.6" cy="723.8" r="6.6"/><circle cx="1590.7" cy="727.4" r="6.6"/><circle cx="1590.7" cy="731.3" r="6.6"/><circle cx="1590.7" cy="733.1" r="6.6"/><circle cx="1590.7" cy="735.5" r="6.6"/></g><g fill-opacity="0.36" stroke-opacity="0.36"><circle cx="1590.7" cy="738.6" r="6.6"/></g><g fill-opacity="0.20" stroke-opacity="0.20"><circle cx="1590.8" cy="741.0" r="6.6"/><circle cx="1590.8" cy="735.4" r="6.6"/><circle cx="1590.8" cy="730.0" r="6.6"/><circle cx="1590.8" cy="724.3" r="6.6"/><circle cx="1590.8" cy="718.5" r="6.6"/><circle cx="1590.8" cy="712.2" r="6.6"/><circle cx="1590.8" cy="706.5" r="6.6"/><circle cx="1590.8" cy="701.1" r="6.6"/><circle cx="1590.8" cy="695.9" r="6.6"/><circle cx="1590.8" cy="689.5" r="6.6"/><circle cx="1590.8" cy="682.9" r="6.6"/><circle cx="1590.8" cy="677.1" r="6.6"/><circle cx="1590.9" cy="671.0" r="6.6"/><circle cx="1590.9" cy="665.2" r="6.6"/><circle cx="1590.9" cy="659.4" r="6.6"/><circle cx="1590.9" cy="654.0" r="6.6"/><circle cx="1590.9" cy="648.0" r="6.6"/><circle cx="1590.9" cy="642.4" r="6.6"/><circle cx="1590.9" cy="636.4" r="6.6"/><circle cx="1590.9" cy="630.4" r="6.6"/><circle cx="1591.0" cy="624.1" r="6.6"/><circle cx="1591.0" cy="618.3" r="6.6"/><circle cx="1591.0" cy="612.4" r="6.6"/><circle cx="1591.0" cy="606.8" r="6.6"/><circle cx="1591.0" cy="600.8" r="6.6"/><circle cx="1591.1" cy="595.2" r="6.6"/><circle cx="1591.1" cy="589.7" r="6.6"/><circle cx="1591.1" cy="584.4" r="6.6"/><circle cx="1591.2" cy="578.6" r="6.6"/><circle cx="1591.2" cy="572.9" r="6.6"/></g><g fill-opacity="0.36" stroke-opacity="0.36"><circle cx="1604.9" cy="573.6" r="6.6"/><circle cx="1604.9" cy="575.4" r="6.6"/><circle cx="1604.9" cy="577.2" r="6.6"/><circle cx="1604.9" cy="579.0" r="6.6"/><circle cx="1604.9" cy="580.8" r="6.6"/><circle cx="1604.9" cy="582.6" r="6.6"/><circle cx="1604.9" cy="584.4" r="6.6"/><circle cx="1604.9" cy="586.2" r="6.6"/><circle cx="1604.9" cy="588.0" r="6.6"/><circle cx="1604.9" cy="589.8" r="6.6"/><circle cx="1604.9" cy="591.6" r="6.6"/></g><g fill-opacity="0.20" stroke-opacity="0.20"><circle cx="1606.5" cy="578.8" r="6.6"/><circle cx="1606.5" cy="603.0" r="6.6"/><circle cx="1606.5" cy="607.4" r="6.6"/><circle cx="1606.7" cy="636.9" r="6.6"/><circle cx="1606.7" cy="643.1" r="6.6"/><circle cx="1606.8" cy="671.4" r="6.6"/><circle cx="1606.8" cy="685.9" r="6.6"/><circle cx="1606.9" cy="697.2" r="6.6"/><circle cx="1606.9" cy="706.7" r="6.6"/><circle cx="1607.0" cy="709.6" r="6.6"/><circle cx="1607.0" cy="713.9" r="6.6"/><circle cx="1607.0" cy="715.5" r="6.6"/><circle cx="1607.0" cy="717.6" r="6.6"/></g><g fill-opacity="0.36" stroke-opacity="0.36"><circle cx="1607.0" cy="719.6" r="6.6"/></g><g fill-opacity="0.20" stroke-opacity="0.20"><circle cx="1607.0" cy="713.8" r="6.6"/><circle cx="1607.0" cy="707.0" r="6.6"/><circle cx="1607.0" cy="700.2" r="6.6"/><circle cx="1607.0" cy="693.9" r="6.6"/><circle cx="1607.0" cy="687.0" r="6.6"/><circle cx="1607.0" cy="680.1" r="6.6"/><circle cx="1607.1" cy="672.6" r="6.6"/><circle cx="1607.1" cy="666.4" r="6.6"/><circle cx="1607.1" cy="659.7" r="6.6"/><circle cx="1607.1" cy="653.5" r="6.6"/><circle cx="1607.1" cy="646.5" r="6.6"/><circle cx="1607.1" cy="640.1" r="6.6"/><circle cx="1607.1" cy="633.4" r="6.6"/><circle cx="1607.1" cy="627.2" r="6.6"/><circle cx="1607.1" cy="620.9" r="6.6"/><circle cx="1607.2" cy="614.6" r="6.6"/><circle cx="1607.2" cy="607.8" r="6.6"/><circle cx="1607.2" cy="601.3" r="6.6"/><circle cx="1607.2" cy="593.7" r="6.6"/><circle cx="1607.2" cy="585.9" r="6.6"/><circle cx="1607.2" cy="579.0" r="6.6"/></g><g fill-opacity="0.36" stroke-opacity="0.36"><circle cx="1621.3" cy="573.8" r="6.6"/><circle cx="1621.3" cy="575.6" r="6.6"/><circle cx="1621.3" cy="577.4" r="6.6"/><circle cx="1621.3" cy="579.2" r="6.6"/><circle cx="1621.3" cy="581.0" r="6.6"/><circle cx="1621.3" cy="582.8" r="6.6"/><circle cx="1621.3" cy="584.6" r="6.6"/><circle cx="1621.3" cy="586.4" r="6.6"/><circle cx="1621.3" cy="588.2" r="6.6"/><circle cx="1621.3" cy="590.0" r="6.6"/><circle cx="1621.3" cy="591.8" r="6.6"/><circle cx="1621.3" cy="593.6" r="6.6"/><circle cx="1621.3" cy="595.0" r="6.6"/></g><g fill-opacity="0.20" stroke-opacity="0.20"><circle cx="1622.9" cy="587.6" r="6.6"/><circle cx="1623.0" cy="612.8" r="6.6"/><circle cx="1623.1" cy="643.6" r="6.6"/><circle cx="1623.1" cy="657.9" r="6.6"/><circle cx="1623.2" cy="675.1" r="6.6"/><circle cx="1623.2" cy="684.7" r="6.6"/></g><g fill-opacity="0.36" stroke-opacity="0.36"><circle cx="1623.2" cy="688.8" r="6.6"/></g><g fill-opacity="0.20" stroke-opacity="0.20"><circle cx="1623.2" cy="690.7" r="6.6"/></g><g fill-opacity="0.36" stroke-opacity="0.36"><circle cx="1623.2" cy="693.6" r="6.6"/></g><g fill-opacity="0.20" stroke-opacity="0.20"><circle cx="1623.3" cy="687.1" r="6.6"/><circle cx="1623.3" cy="680.1" r="6.6"/><circle cx="1623.3" cy="672.7" r="6.6"/><circle cx="1623.3" cy="665.2" r="6.6"/><circle cx="1623.3" cy="657.5" r="6.6"/><circle cx="1623.3" cy="649.1" r="6.6"/><circle cx="1623.3" cy="642.1" r="6.6"/><circle cx="1623.3" cy="634.6" r="6.6"/><circle cx="1623.3" cy="626.9" r="6.6"/><circle cx="1623.3" cy="619.9" r="6.6"/><circle cx="1623.3" cy="611.8" r="6.6"/><circle cx="1623.3" cy="604.3" r="6.6"/><circle cx="1623.4" cy="597.8" r="6.6"/><circle cx="1623.4" cy="589.6" r="6.6"/><circle cx="1623.4" cy="581.7" r="6.6"/><circle cx="1623.4" cy="573.8" r="6.6"/></g><g fill-opacity="0.36" stroke-opacity="0.36"><circle cx="1636.8" cy="573.1" r="6.6"/><circle cx="1636.8" cy="574.9" r="6.6"/><circle cx="1636.8" cy="576.7" r="6.6"/><circle cx="1636.8" cy="578.5" r="6.6"/><circle cx="1636.8" cy="579.9" r="6.6"/></g><g fill-opacity="0.20" stroke-opacity="0.20"><circle cx="1638.5" cy="600.0" r="6.6"/><circle cx="1638.6" cy="620.9" r="6.6"/><circle cx="1638.7" cy="643.5" r="6.6"/><circle cx="1638.7" cy="654.2" r="6.6"/><circle cx="1638.7" cy="657.7" r="6.6"/><circle cx="1638.7" cy="660.7" r="6.6"/></g><g fill-opacity="0.36" stroke-opacity="0.36"><circle cx="1638.7" cy="663.5" r="6.6"/></g><g fill-opacity="0.20" stroke-opacity="0.20"><circle cx="1638.8" cy="655.0" r="6.6"/><circle cx="1638.8" cy="647.6" r="6.6"/><circle cx="1638.8" cy="639.3" r="6.6"/><circle cx="1638.8" cy="631.8" r="6.6"/><circle cx="1638.8" cy="623.9" r="6.6"/><circle cx="1638.8" cy="616.2" r="6.6"/><circle cx="1638.8" cy="608.7" r="6.6"/><circle cx="1638.8" cy="600.6" r="6.6"/><circle cx="1638.8" cy="593.2" r="6.6"/><circle cx="1638.8" cy="585.4" r="6.6"/><circle cx="1638.8" cy="578.0" r="6.6"/><circle cx="1653.8" cy="578.6" r="6.6"/><circle cx="1653.9" cy="606.7" r="6.6"/><circle cx="1653.9" cy="617.5" r="6.6"/><circle cx="1653.9" cy="620.2" r="6.6"/><circle cx="1653.9" cy="623.2" r="6.6"/><circle cx="1653.9" cy="625.0" r="6.6"/><circle cx="1653.9" cy="617.4" r="6.6"/><circle cx="1653.9" cy="610.1" r="6.6"/><circle cx="1653.9" cy="602.2" r="6.6"/><circle cx="1653.9" cy="594.1" r="6.6"/><circle cx="1653.9" cy="586.2" r="6.6"/><circle cx="1653.9" cy="578.3" r="6.6"/></g><g fill-opacity="0.36" stroke-opacity="0.36"><circle cx="1668.3" cy="573.9" r="6.6"/></g><g fill-opacity="0.20" stroke-opacity="0.20"><circle cx="1668.3" cy="575.5" r="6.6"/></g></g><path d="M1047.7,631.3V640M1047.7,666V766" stroke="#008000" stroke-width="13" stroke-linecap="round" fill="none"/><g fill="#008000" fill-opacity=".75"><circle cx="1047.7" cy="645" r="6.5"/><circle cx="1047.7" cy="650.5" r="6.5"/><circle cx="1047.7" cy="656" r="6.5"/><circle cx="1047.7" cy="661" r="6.5"/></g><path d="M1118.5,631.3V640M1118.5,666V766" stroke="#008000" stroke-width="13" stroke-linecap="round" fill="none"/><g fill="#008000" fill-opacity=".75"><circle cx="1118.5" cy="645" r="6.5"/><circle cx="1118.5" cy="650.5" r="6.5"/><circle cx="1118.5" cy="656" r="6.5"/><circle cx="1118.5" cy="661" r="6.5"/></g></g><g font-size="15.28" fill="#000"><text transform="translate(393.8,933.0) rotate(-80)">n=1</text><text transform="translate(456.1,898.0) rotate(-80)">n=2</text><text transform="translate(518.0,868.7) rotate(-80)">n=3</text><text transform="translate(579.3,843.7) rotate(-80)">n=4</text><text transform="translate(636.8,819.2) rotate(-80)">n=5</text><text transform="translate(693.6,796.2) rotate(-80)">n=6</text><text transform="translate(747.5,775.0) rotate(-80)">n=7</text><text transform="translate(799.3,749.2) rotate(-80)">n=8</text><text transform="translate(848.0,730.2) rotate(-80)">n=9</text><text transform="translate(894.0,710.7) rotate(-80)">n=10</text><text transform="translate(938.8,689.2) rotate(-80)">n=11</text><text transform="translate(981.3,668.7) rotate(-80)">n=12</text><text transform="translate(1021.3,646.2) rotate(-80)">n=13</text><text transform="translate(1059.3,627.2) rotate(-80)">n=14</text><text transform="translate(1095.5,604.2) rotate(-80)">n=15</text><text transform="translate(1130.1,584.2) rotate(-80)">n=16</text><text transform="translate(1163.8,560.2) rotate(-80)">n=17</text><text transform="translate(1195.5,536.2) rotate(-80)">n=18</text><text transform="translate(1226.0,512.2) rotate(-80)">n=19</text><text transform="translate(1255.4,487.2) rotate(-80)">n=20</text><text transform="translate(1283.0,460.2) rotate(-80)">n=21</text><text transform="translate(1309.8,435.7) rotate(-80)">n=22</text><text transform="translate(1335.7,407.2) rotate(-80)">n=23</text><text transform="translate(1360.5,377.2) rotate(-80)">n=24</text><text transform="translate(1384.3,346.7) rotate(-80)">n=25</text><text transform="translate(1407.8,314.2) rotate(-80)">n=26</text><text transform="translate(1430.4,278.7) rotate(-80)">n=27</text><text transform="translate(1451.4,239.2) rotate(-80)">n=28</text><text transform="translate(1472.0,199.7) rotate(-80)">n=29</text><text transform="translate(1492.4,153.2) rotate(-80)">n=30</text></g><rect x="250.5" y="144.5" width="1550" height="924" fill="none" stroke="#000" stroke-width="1.11"/><path d="M267.61,1068.5v10.6M326.21,1068.5v10.6M384.80,1068.5v16.5M443.40,1068.5v10.6M501.99,1068.5v10.6M560.59,1068.5v10.6M619.18,1068.5v16.5M677.78,1068.5v10.6M736.37,1068.5v10.6M794.97,1068.5v10.6M853.56,1068.5v16.5M912.16,1068.5v10.6M970.75,1068.5v10.6M1029.35,1068.5v10.6M1087.94,1068.5v16.5M1146.54,1068.5v10.6M1205.13,1068.5v10.6M1263.73,1068.5v10.6M1322.32,1068.5v16.5M1380.92,1068.5v10.6M1439.51,1068.5v10.6M1498.11,1068.5v10.6M1556.70,1068.5v16.5M1615.30,1068.5v10.6M1673.89,1068.5v10.6M1732.49,1068.5v10.6M1791.08,1068.5v16.5M250.5,1059.99h-11.0M250.5,1011.78h-11.0M250.5,963.57h-11.0M250.5,915.36h-17.3M250.5,867.15h-11.0M250.5,818.94h-11.0M250.5,770.73h-11.0M250.5,722.52h-17.3M250.5,674.31h-11.0M250.5,626.10h-11.0M250.5,577.89h-11.0M250.5,529.68h-17.3M250.5,481.47h-11.0M250.5,433.26h-11.0M250.5,385.05h-11.0M250.5,336.84h-17.3M250.5,288.63h-11.0M250.5,240.42h-11.0M250.5,192.21h-11.0M250.5,144.00h-17.3" stroke="#000" stroke-width="5.56" fill="none"/><g font-size="36.11" fill="#000" letter-spacing="-0.45"><text x="384.8" y="1116.6" text-anchor="middle">296.4</text><text x="619.2" y="1116.6" text-anchor="middle">296.6</text><text x="853.6" y="1116.6" text-anchor="middle">296.8</text><text x="1087.9" y="1116.6" text-anchor="middle">297.0</text><text x="1322.3" y="1116.6" text-anchor="middle">297.2</text><text x="1556.7" y="1116.6" text-anchor="middle">297.4</text><text x="1791.1" y="1116.6" text-anchor="middle">297.6</text><text x="227.3" y="929.2" text-anchor="end">200</text><text x="227.3" y="736.3" text-anchor="end">400</text><text x="227.3" y="543.5" text-anchor="end">600</text><text x="227.3" y="350.6" text-anchor="end">800</text><text x="227.3" y="157.8" text-anchor="end">1000</text></g><text x="1025" y="1171.0" font-size="55.56" text-anchor="middle">Age (Myr)</text><text transform="translate(118,606) rotate(-90)" font-size="55.56" text-anchor="middle">FM period (days)</text><rect x="263.5" y="157.7" width="534" height="291.3" rx="5.5" fill="#fff" fill-opacity=".8" stroke="#ccc" stroke-opacity=".8" stroke-width="1.39"/><path d="M272.7,176.8H323.3" stroke="#000" stroke-width="2.08" stroke-linecap="square"/><circle cx="298.4" cy="177.2" r="2.5" fill="#000"/><path d="M272.7,213.9H323.3" stroke="#00f" stroke-width="4.17" stroke-linecap="square"/><path d="M272.7,250.9H323.3" stroke="#008000" stroke-width="4.17" stroke-linecap="square"/><path d="M272.7,286.9H323.3" stroke="#ffa500" stroke-width="2.08" stroke-linecap="square"/><circle cx="298.0" cy="324.5" r="4.35" fill="#90ee90"/><path d="M272.7,359.9H323.3" stroke="#f00" stroke-width="2.08" stroke-linecap="square"/><polygon points="298.3,339.8 303.0,354.2 318.1,354.2 305.9,363.1 310.5,377.5 298.3,368.6 286.1,377.5 290.7,363.1 278.5,354.2 293.6,354.2" fill="#f00" stroke="#f00" stroke-width="1.39" stroke-linejoin="bevel"/><circle cx="298.4" cy="413.5" r="6.6" fill="#ff0" fill-opacity=".2" stroke="#ff0" stroke-opacity=".2" stroke-width="2.08"/><g font-size="25" fill="#000"><text x="341.8" y="185.8">m2.90_z0.0050</text><text x="341.8" y="222.5">peak detector horizontal bounds</text><text x="341.8" y="259.8">min. P consistent with observations</text><text x="341.8" y="296">max. P must fall within this span</text><text x="341.8" y="332.8">pulse region fit with cubic spline</text><text x="341.8" y="368.6">pulses identified</text><text x="341.8" y="404.8">intersection w/ P,L,T,R</text><text x="341.8" y="432.6">loosely defined</text></g></svg></body></html>
